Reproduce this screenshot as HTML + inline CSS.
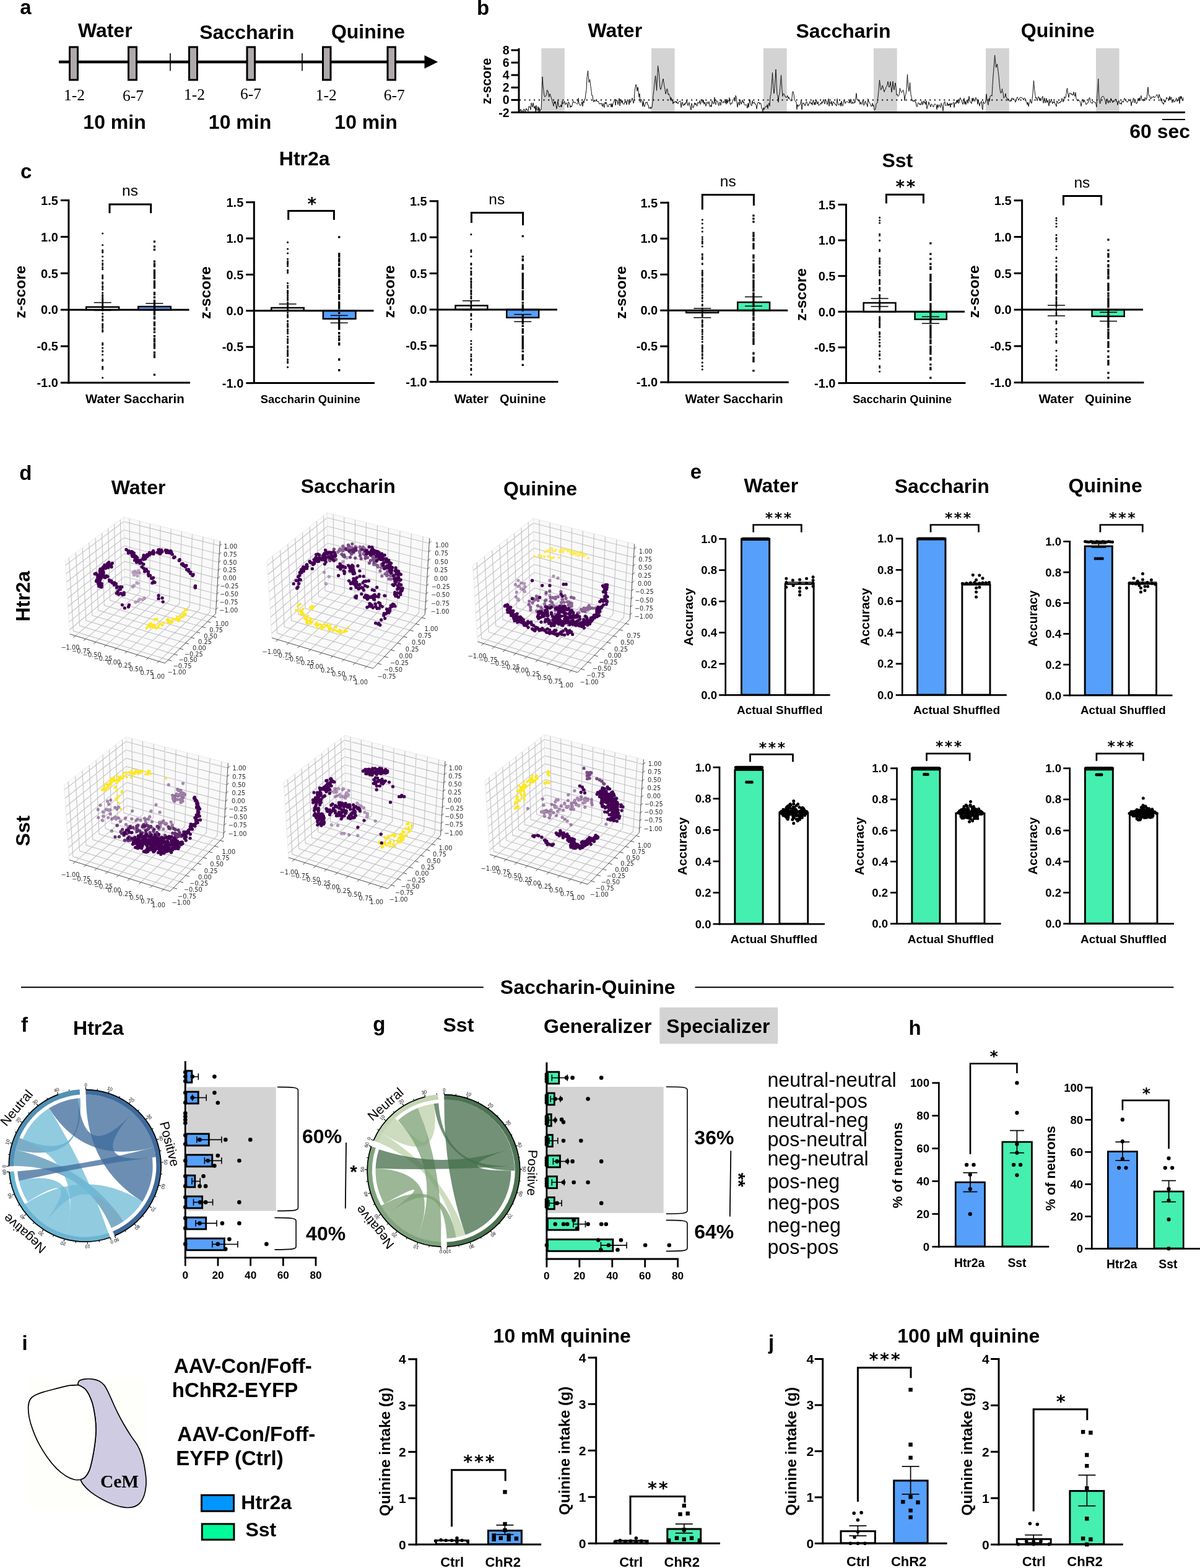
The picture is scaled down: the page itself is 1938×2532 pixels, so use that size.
<!DOCTYPE html>
<html lang="en"><head><meta charset="utf-8"><title>Figure</title>
<style>html,body{margin:0;padding:0;background:#fff}svg{display:block}</style></head>
<body>
<svg width="1938" height="2532" viewBox="0 0 1938 2532" font-family='"Liberation Sans", sans-serif' fill="#000">
<rect width="1938" height="2532" fill="#fff"/>
<text x="32.18" y="22.6" font-size="33" font-weight="bold">a</text>
<line x1="95" y1="100" x2="690" y2="100" stroke="#000" stroke-width="4.5"/>
<path d="M685.5 89.3 L707.2 100 L685.5 110.7 Z" fill="#000"/>
<rect x="112.5" y="76" width="13" height="53" fill="#aeaaaa" stroke="#000" stroke-width="3"/>
<rect x="207.5" y="76" width="13" height="53" fill="#aeaaaa" stroke="#000" stroke-width="3"/>
<rect x="305.5" y="76" width="13" height="53" fill="#aeaaaa" stroke="#000" stroke-width="3"/>
<rect x="399" y="76" width="12.5" height="53" fill="#aeaaaa" stroke="#000" stroke-width="3"/>
<rect x="521.5" y="76" width="12.5" height="53" fill="#aeaaaa" stroke="#000" stroke-width="3"/>
<rect x="626" y="76" width="12.5" height="53" fill="#aeaaaa" stroke="#000" stroke-width="3"/>
<line x1="275" y1="86" x2="275" y2="114.5" stroke="#000" stroke-width="1.6"/>
<line x1="488" y1="86" x2="488" y2="114.5" stroke="#000" stroke-width="1.6"/>
<text x="125.9" y="60" font-size="32" font-weight="bold">Water</text>
<text x="322.25" y="62.5" font-size="32" font-weight="bold">Saccharin</text>
<text x="534.9" y="61.5" font-size="32" font-weight="bold">Quinine</text>
<text x="103.1" y="162" font-size="25.5" font-family='"Liberation Serif", serif'>1-2</text>
<text x="198.1" y="163" font-size="25.5" font-family='"Liberation Serif", serif'>6-7</text>
<text x="297.1" y="161" font-size="25.5" font-family='"Liberation Serif", serif'>1-2</text>
<text x="388.1" y="160" font-size="25.5" font-family='"Liberation Serif", serif'>6-7</text>
<text x="509.85" y="162" font-size="25.5" font-family='"Liberation Serif", serif'>1-2</text>
<text x="619.85" y="162" font-size="25.5" font-family='"Liberation Serif", serif'>6-7</text>
<text x="134.36" y="207.5" font-size="32" font-weight="bold">10 min</text>
<text x="336.86" y="207.5" font-size="32" font-weight="bold">10 min</text>
<text x="540.36" y="207.5" font-size="32" font-weight="bold">10 min</text>
<text x="769.97" y="23.9" font-size="33" font-weight="bold">b</text>
<text x="949.4" y="59.5" font-size="32" font-weight="bold">Water</text>
<text x="1285.5" y="60.5" font-size="32" font-weight="bold">Saccharin</text>
<text x="1648.75" y="59.6" font-size="32" font-weight="bold">Quinine</text>
<rect x="874.3" y="78" width="37.5" height="103" fill="#d3d3d3"/>
<rect x="1052" y="78" width="37.6" height="103" fill="#d3d3d3"/>
<rect x="1233" y="78" width="37.7" height="103" fill="#d3d3d3"/>
<rect x="1411" y="78" width="37.7" height="103" fill="#d3d3d3"/>
<rect x="1592" y="78" width="37.8" height="103" fill="#d3d3d3"/>
<rect x="1770" y="78" width="37.6" height="103" fill="#d3d3d3"/>
<line x1="839" y1="161.4" x2="1912" y2="161.4" stroke="#000" stroke-width="2" stroke-dasharray="2 5.7"/>
<polyline points="838,171.92 839,178.74 840,179.21 841,176.41 842,179.99 843,178.61 844,178.62 845,179.99 846,175.82 847,176.83 848,179.99 849,177.64 850,174.97 851,178.15 852,177.29 853,179.47 854,171.79 855,173.05 856,172.07 857,177.24 858,166.12 859,169.96 860,172.95 861,165.99 862,171.54 863,175.17 864,171.18 865,179.99 866,170.39 867,178.53 868,178.21 869,172.16 870,179.99 871,174.05 872,179.99 873,176.89 874,177.33 875,153.23 876,123.97 877,137.66 878,147.15 879,154.48 880,156.44 881,155.65 882,153.95 883,149.72 883.5,145.32 884,145.77 885,146.89 886,154.88 887,156.72 888,151.3 889,154.38 890,156.76 891,159.95 892,164.06 893,167.54 894,171.39 895,163.65 896,167.32 897,163.85 898,170.92 899,175.84 900,169.54 901,162.82 902,170.6 903,172.61 904,172.32 905,172.25 906,169.05 907,173.15 908,163.11 909,168.15 910,166.91 911,163.82 912,163.79 913,169.09 914,167.04 915,165.85 916,168.98 917,173.74 918,164.48 919,165.95 920,168.4 921,173.47 922,170.8 923,172.81 924,170.14 925,164.2 926,163.18 927,166.13 928,165.79 929,164.82 930,166.45 931,167.29 932,168.31 933,167.71 934,158.59 935,166.04 936,169.61 937,170.36 938,169.91 939,166.9 940,164.32 941,171.68 942,163.02 943,166.21 944,160.02 945,160.31 946,151.19 947,145.29 948,125.57 949,117.3 949.5,114.16 950,119.27 951,132.92 952,131.25 952.5,128.24 953,132.19 954,139.77 954.5,143.31 955,147.36 956,154.85 957,154.29 958,162.45 959,164.58 960,161.21 961,163.76 962,163.34 963,161.11 964,163.64 965,164.29 966,163.22 967,165.32 968,168.1 969,167.34 970,167.96 971,166.36 972,170.14 973,171.8 974,166.77 975,171.68 976,173.58 977,164.88 978,167.66 979,165.03 980,168.41 981,171.87 982,172.83 983,169.93 984,168.15 985,168.9 986,167.65 987,173.02 988,167.27 989,173.09 990,167.36 991,164.33 992,162.39 993,159.97 994,170 995,163.46 996,161.24 997,162.85 998,169.03 999,163.02 1000,158.62 1001,171.03 1002,163.24 1003,160.63 1004,165.91 1005,162.31 1006,167.83 1007,167.68 1008,168.6 1009,163.82 1010,165.48 1011,162.73 1012,169.2 1013,164.62 1014,160.65 1015,162.81 1016,169.15 1017,162.4 1018,165.45 1019,163.68 1020,161.92 1021,158.33 1022,161.58 1023,166.74 1024,163.12 1025,147.81 1026,141.02 1027,136.41 1027.5,137.28 1028,139.77 1029,147.23 1030,140.71 1030.5,141.3 1031,146.4 1032,156.62 1033,151.26 1034,165.52 1035,160.55 1036,160.84 1037,165.56 1038,171.91 1039,163.33 1040,170.69 1041,172.29 1042,168.37 1043,165.07 1044,166.25 1045,164.55 1046,169.53 1047,169.37 1048,175.31 1049,174.46 1050,172.65 1051,176.03 1052,172.9 1053,173.76 1054,164.39 1055,153.6 1056,145.43 1056.5,139.29 1057,134.6 1058,126.45 1058.5,122.21 1059,125.94 1060,139.72 1060.5,146.33 1061,136.36 1062,117.46 1062.5,106.12 1063,109.63 1064,116.74 1064.5,121.2 1065,129.08 1066,141.6 1067,144.64 1068,141.52 1069,137.23 1070,130.75 1071,127.18 1072,133.54 1073,139.55 1074,144.53 1075,151.8 1076,148.76 1077,143.72 1077.5,143.31 1078,145.14 1079,152.63 1080,151.13 1081,154.43 1082,155.58 1083,162.14 1084,157.5 1085,163.15 1086,161.33 1087,167.7 1088,164.05 1089,166.12 1090,164.38 1091,163.19 1092,166.22 1093,163.86 1094,167.12 1095,167.82 1096,164.35 1097,164.17 1098,163.06 1099,163.48 1100,173.53 1101,167.21 1102,164.73 1103,170.16 1104,170.41 1105,167.2 1106,169.62 1107,165.7 1108,167.23 1109,161.85 1110,165.61 1111,170.51 1112,167.59 1113,165.46 1114,171.11 1115,172.19 1116,177.81 1117,166.83 1118,170.31 1119,174.07 1120,173.71 1121,169.26 1122,165.94 1123,169.32 1124,166.84 1125,170.78 1126,171.1 1127,165.14 1128,166.76 1129,166.21 1130,162.57 1131,168.66 1132,166.29 1133,162.09 1134,160.45 1135,165.85 1136,161.19 1137,168.35 1138,164.95 1139,167.09 1140,171.52 1141,165.58 1142,164.31 1143,167.4 1144,167.31 1145,163.87 1146,171.81 1147,172.17 1148,169.46 1149,172.61 1150,162.68 1151,164.88 1152,167.89 1153,166.87 1154,157.06 1155,167.85 1156,169.1 1157,163.19 1158,162.99 1159,163.8 1160,169.21 1161,170.81 1162,165.08 1163,165.89 1164,170.23 1165,160.87 1166,163.96 1167,165.6 1168,166.49 1169,163.01 1170,164.36 1171,166.35 1172,160.7 1173,168.32 1174,160.07 1175,166.56 1176,161.89 1177,163.52 1178,157.62 1179,168.03 1180,169.09 1181,166.31 1182,167.37 1183,164.19 1184,160.78 1185,159.74 1186,157.41 1187,163.63 1188,154.3 1189,155.84 1190,165.56 1191,173.18 1192,165.52 1193,165.25 1194,170.03 1195,160.89 1196,164.72 1197,168.3 1198,164.11 1199,161.39 1200,165.77 1201,163.87 1202,168.69 1203,169.96 1204,169.56 1205,168.7 1206,170.72 1207,174.66 1208,166.73 1209,173.16 1210,165.76 1211,160.56 1212,166.88 1213,170.17 1214,170.8 1215,162.61 1216,167.23 1217,165.91 1218,164.52 1219,168.18 1220,167.58 1221,169.4 1222,176.02 1223,170.03 1224,165.24 1225,165.76 1226,165.15 1227,168.39 1228,166.25 1229,167.32 1230,175.21 1231,175.69 1232,179.99 1233,173.61 1234,177.08 1235,174.97 1236,172.2 1237,171.77 1238,173.07 1239,169.28 1240,175.47 1241,167.77 1242,166.33 1243,171.39 1244,155.66 1245,152.46 1245.5,146.33 1246,138.43 1247,125.6 1247.5,117.18 1248,125.47 1249,142.89 1250,151.15 1251,143.59 1252,127.49 1253,112.12 1254,132.55 1255,152.82 1256,153.73 1257,165.21 1258,154.63 1259,151.58 1259.5,146.33 1260,139.5 1261,128 1261.5,121.2 1262,129.85 1263,145.85 1264,155.67 1265,151.14 1266,151.3 1267,153.28 1268,156.14 1269,155.63 1270,157.91 1271,156.25 1272,154.3 1273,159.44 1274,156.75 1275,159.57 1276,160.86 1277,162.48 1278,163.22 1279,157.91 1280,147.93 1281,148.02 1282,152.34 1283,161.61 1284,162.66 1285,164.25 1286,164.49 1287,176.62 1288,168.75 1289,172.07 1290,169.82 1291,169.91 1292,169.52 1293,165.74 1294,162.46 1295,177 1296,168.7 1297,165.75 1298,168.08 1299,167.59 1300,171.06 1301,169 1302,164.43 1303,164.4 1304,167.6 1305,171 1306,167.72 1307,167.6 1308,163.81 1309,165.13 1310,168.18 1311,165.94 1312,169.59 1313,162.1 1314,161.59 1315,169.44 1316,165.07 1317,169.22 1318,161.57 1319,165.12 1320,167.82 1321,163.98 1322,170.34 1323,169.71 1324,168.92 1325,166.72 1326,168.39 1327,164.22 1328,166.79 1329,162.85 1330,160.57 1331,165.32 1332,168.06 1333,160.66 1334,162.12 1335,164.66 1336,169.08 1337,164.04 1338,159.37 1339,171.45 1340,163.7 1341,165.7 1342,167.84 1343,163.27 1344,170.92 1345,166.72 1346,164.07 1347,166.7 1348,166.12 1349,169.62 1350,168.85 1351,171.15 1352,159.44 1353,165.2 1354,169.44 1355,169.35 1356,168.99 1357,166.1 1358,171.5 1359,163.21 1360,169.8 1361,171.26 1362,166.55 1363,162.05 1364,162.04 1365,167.34 1366,164.64 1367,164.56 1368,163.83 1369,164.66 1370,165.6 1371,166.28 1372,161.9 1373,166.62 1374,159.72 1375,163.93 1376,167.75 1377,164.58 1378,166.31 1379,167.26 1380,163.54 1381,165.58 1382,157.24 1383,150.59 1384,161.35 1385,161.02 1386,161.46 1387,163.79 1388,161.65 1389,168.64 1390,164.74 1391,167.39 1392,168.65 1393,162.86 1394,161.37 1395,170.25 1396,168.63 1397,163.66 1398,163.34 1399,168.21 1400,167.71 1401,172.5 1402,159.64 1403,164.58 1404,164.5 1405,167.17 1406,169.02 1407,171.92 1408,171.47 1409,166.52 1410,171.54 1411,169.47 1412,177.72 1413,177.5 1414,175.68 1415,167.5 1416,166.73 1417,166 1418,155.87 1419,147.43 1420,133.46 1420.5,129.24 1421,133.57 1422,141.02 1422.5,145.32 1423,144.53 1424,143.02 1425,137.98 1426,139.84 1427,145.02 1428,148.54 1429,145.18 1430,144.58 1431,140.65 1432,139.58 1433,136.56 1434,131.52 1435,137.68 1436,140.99 1437,138.22 1438,131.72 1439,140.62 1440,148.99 1441,141.05 1442,131.37 1443,140.9 1444,145.12 1445,137.97 1446,133.64 1447,141.64 1448,153.38 1449,151.96 1450,155.6 1451,154.66 1452,153.73 1453,144.42 1453.5,142.31 1454,144.53 1455,147.83 1456,149.36 1457,148.46 1458,145.86 1458.5,145.32 1459,145.72 1460,151.77 1461,162.67 1462,154.92 1463,151.45 1464,145.35 1465,127.64 1465.5,120.2 1466,128.59 1467,140.85 1468,147.36 1469,138.26 1469.5,133.26 1470,138.57 1471,152.5 1472,156.79 1473,162.73 1474,161.14 1475,164.34 1476,163.04 1477,161.26 1478,165.18 1479,164.45 1480,171.33 1481,172.5 1482,168.14 1483,165.76 1484,167.06 1485,169 1486,167.03 1487,169.43 1488,167.98 1489,163.47 1490,169.28 1491,167.44 1492,162.8 1493,166.4 1494,164.78 1495,168.93 1496,162.91 1497,175.55 1498,171.6 1499,170.11 1500,164.57 1501,168.12 1502,169.89 1503,172.84 1504,168.02 1505,168.37 1506,170.18 1507,172.86 1508,172.02 1509,168.02 1510,168.05 1511,168.57 1512,169.85 1513,176.66 1514,168.7 1515,173.69 1516,169.71 1517,169.11 1518,172.33 1519,173.77 1520,166.61 1521,168.97 1522,172.78 1523,179.27 1524,168 1525,165.52 1526,163.95 1527,170.85 1528,170.58 1529,169.3 1530,165.79 1531,171.18 1532,167.9 1533,170.23 1534,167 1535,173.27 1536,166.65 1537,169 1538,167.84 1539,166.53 1540,165.03 1541,173.54 1542,166.11 1543,165.52 1544,167.46 1545,161.62 1546,165.9 1547,161.03 1548,167.15 1549,165.87 1550,159 1551,157.71 1552,161.64 1553,161.27 1554,165.91 1555,168.5 1556,164.69 1557,158.52 1558,168.34 1559,163.5 1560,168.82 1561,163.39 1562,161.1 1563,166.84 1564,162.86 1565,155.42 1566,161.63 1567,164.97 1568,165.21 1569,167.42 1570,158.42 1571,163.47 1572,158.28 1573,159.51 1574,163.93 1575,162.64 1576,157.34 1577,160.74 1578,161.9 1579,168.45 1580,161.16 1581,165.76 1582,171.32 1583,165.97 1584,166.32 1585,163.32 1586,173.16 1587,177.03 1588,163.84 1589,166.77 1590,167.22 1591,166.56 1592,161.72 1593,151.77 1594,160.91 1595,166.72 1596,169.51 1597,158.94 1598,163.65 1599,155.35 1600,154.95 1601,153.79 1602,155.19 1603,137.6 1604,122.04 1604.5,116.18 1605,109.94 1606,97.38 1606.6,89.04 1607,94.04 1608,103.52 1608.5,109.14 1609,107.73 1610,104.48 1610.5,103.11 1611,107.15 1612,115.56 1612.5,119.19 1613,123.44 1614,135.24 1614.5,141.3 1615,144.29 1616,150.09 1617,150.04 1618,146.89 1618.5,143.31 1619,148.32 1620,149.86 1621,158.35 1622,157.09 1623,156.34 1624,150.95 1625,157.17 1626,159.01 1627,158.74 1628,162.32 1629,159.64 1630,162.72 1631,164.02 1632,162.26 1633,163.63 1634,157.99 1635,158.77 1636,161.11 1637,158.9 1638,161.54 1639,163.09 1640,165.19 1641,160.49 1642,158.18 1643,156.75 1644,159.31 1645,162.07 1646,159.99 1647,157.91 1648,157.47 1649,156.97 1650,158.05 1651,158.52 1652,158.87 1653,161.71 1654,158.4 1655,158.76 1656,159.39 1657,163.6 1658,165.74 1659,168.99 1660,164.88 1661,171.99 1662,166.97 1663,165.78 1664,162.29 1665,164.12 1666,167.05 1667,159.85 1668,151.16 1669,136.43 1669.4,130.25 1670,136.96 1671,147.57 1672,154.43 1673,158.93 1674,157.36 1675,162.73 1676,160.26 1677,156.01 1678,157.08 1679,161.1 1680,158.27 1681,162.78 1682,161.12 1683,157.19 1684,155.46 1685,166.52 1686,162.28 1687,158.12 1688,166.26 1689,164.05 1690,158.61 1691,165.81 1692,162.03 1693,164.57 1694,171.13 1695,163.18 1696,165.91 1697,162.56 1698,159.93 1699,165.1 1700,167.44 1701,163.93 1702,165.75 1703,163.82 1704,168.59 1705,168.55 1706,172.15 1707,162.78 1708,165.41 1709,167.4 1710,166.42 1711,164.9 1712,166.45 1713,163.25 1714,164.33 1715,158.68 1716,161.44 1717,164.67 1718,162.51 1719,156.17 1720,158.45 1721,157.84 1722,151.45 1723,144.41 1723.7,142.31 1724,146.78 1725,152.39 1726,157.43 1727,150.7 1728,150.76 1729,150.71 1730,152.61 1731,151.26 1732,153.79 1733,153.5 1734,148.38 1735,153.77 1736,155.56 1737,149.43 1738,159.24 1739,160.96 1740,162.64 1741,163.01 1742,161 1743,162.15 1744,163.55 1745,166.67 1746,171.58 1747,165.28 1748,160.49 1749,161.09 1750,165.37 1751,161.17 1752,164.23 1753,165.13 1754,169.09 1755,167.19 1756,166.21 1757,166.42 1758,163.15 1759,157.86 1760,157.9 1761,163.47 1762,165.67 1763,165.95 1764,167.24 1765,163.59 1766,163.83 1767,164.52 1768,165.37 1769,165.01 1770,168.47 1771,172.9 1772,152.34 1773,139.8 1773.7,127.23 1774,135.72 1775,159.8 1776,166.79 1777,167.1 1778,159.38 1779,157.12 1780,156.4 1781,155.01 1782,155.95 1783,157.44 1784,160.53 1785,162.53 1786,168.46 1787,164.2 1788,159.44 1789,164.71 1790,166.56 1791,162.05 1792,164.48 1793,165.67 1794,158.75 1795,161.73 1796,162.31 1797,165.72 1798,162.34 1799,164.39 1800,161.38 1801,160.67 1802,159.82 1803,164.55 1804,163.77 1805,169.68 1806,164.03 1807,162.31 1808,167.18 1809,167.67 1810,165.97 1811,168.61 1812,163.14 1813,163.68 1814,165.26 1815,162.54 1816,158.47 1817,160.27 1818,160.5 1819,164.06 1820,164.48 1821,165.22 1822,162.98 1823,160.22 1824,162.91 1825,162.48 1826,162.77 1827,170.95 1828,164.22 1829,165.11 1830,159.4 1831,158.21 1832,165.89 1833,163.91 1834,163.32 1835,167.55 1836,167.03 1837,164.85 1838,158.93 1839,163.03 1840,157.85 1841,160.45 1842,157.52 1843,154.32 1844,161.54 1845,162.43 1846,160.09 1847,163.29 1848,159.71 1849,157.82 1850,158.01 1851,161.04 1852,158.8 1853,148.86 1854,140.56 1855,153.98 1856,154.45 1857,154.79 1858,159.6 1859,159.89 1860,156.39 1861,157.9 1862,156.82 1863,155.12 1864,157.77 1865,157.06 1866,156.56 1867,155.4 1868,152.95 1869,153.05 1870,156.95 1871,158.9 1872,152.23 1873,155.87 1874,157.76 1875,163.28 1876,158.88 1877,166.48 1878,166.04 1879,168.54 1880,165.36 1881,162.18 1882,165.08 1883,161.16 1884,157.19 1885,159.65 1886,158.58 1887,158.54 1888,161.44 1889,155.45 1890,161.64 1891,157.24 1892,156.98 1893,165.74 1894,161.33 1895,163.67 1896,165.23 1897,162.8 1898,163.72 1899,159.9 1900,158.41 1901,163.88 1902,161.33 1903,160.16 1904,156.75 1905,167.24 1906,155.27 1907,159.63 1908,155.44 1909,160.96 1910,162.68 1911,157.39" fill="none" stroke="#111" stroke-width="1" stroke-linejoin="round"/>
<line x1="838" y1="78" x2="838" y2="183" stroke="#000" stroke-width="3"/>
<line x1="836.5" y1="181.5" x2="1914" y2="181.5" stroke="#000" stroke-width="3"/>
<line x1="825.5" y1="81" x2="838" y2="81" stroke="#000" stroke-width="3"/>
<text x="822.5" y="88" font-size="19.5" font-weight="bold" text-anchor="end">8</text>
<line x1="825.5" y1="101.1" x2="838" y2="101.1" stroke="#000" stroke-width="3"/>
<text x="822.5" y="108.1" font-size="19.5" font-weight="bold" text-anchor="end">6</text>
<line x1="825.5" y1="121.2" x2="838" y2="121.2" stroke="#000" stroke-width="3"/>
<text x="822.5" y="128.2" font-size="19.5" font-weight="bold" text-anchor="end">4</text>
<line x1="825.5" y1="141.3" x2="838" y2="141.3" stroke="#000" stroke-width="3"/>
<text x="822.5" y="148.3" font-size="19.5" font-weight="bold" text-anchor="end">2</text>
<line x1="825.5" y1="161.4" x2="838" y2="161.4" stroke="#000" stroke-width="3"/>
<text x="822.5" y="168.4" font-size="19.5" font-weight="bold" text-anchor="end">0</text>
<line x1="825.5" y1="181.5" x2="838" y2="181.5" stroke="#000" stroke-width="3"/>
<text x="822.5" y="188.5" font-size="19.5" font-weight="bold" text-anchor="end">-2</text>
<text transform="translate(792.64 168.33) rotate(-90)" font-size="21.3" font-weight="bold">z-score</text>
<line x1="1877" y1="193" x2="1914" y2="193" stroke="#000" stroke-width="2.2"/>
<text x="1824.26" y="223" font-size="32" font-weight="bold">60 sec</text>
<text x="33.03" y="288" font-size="33" font-weight="bold">c</text>
<text x="450.77" y="267" font-size="32" font-weight="bold">Htr2a</text>
<text x="1424.4" y="270" font-size="32" font-weight="bold">Sst</text>
<rect x="139.25" y="495.75" width="52.9" height="4.4" fill="#fff" stroke="#000" stroke-width="2.5"/>
<rect x="223.25" y="495.05" width="52.5" height="5.1" fill="#56a0fb" stroke="#000" stroke-width="2.5"/>
<line x1="110.9" y1="500.2" x2="305.5" y2="500.2" stroke="#000" stroke-width="3"/>
<path d="M165.7 377h0M165.7 610h0M165.7 395.7h0M165.7 404h0M165.7 592.2h0M165.7 478.2h0M165.7 467.1h0M165.7 493.7h0M165.7 476.3h0M165.7 464.1h0M165.7 511.9h0M165.7 517.8h0M165.7 434.5h0M165.7 444.6h0M165.7 467.6h0M165.7 532.8h0M165.7 525.6h0M165.7 421.1h0M165.7 431.5h0M165.7 535.5h0M165.7 582.4h0M165.7 492.5h0M165.7 455.9h0M165.7 555.6h0M165.7 476.9h0M165.7 534.8h0M165.7 580.9h0M165.7 529.5h0M165.7 498.3h0M165.7 535.2h0M165.7 458.2h0M165.7 484.2h0M165.7 462.1h0M165.7 482.8h0M165.7 467h0M165.7 483.8h0M165.7 472.9h0M165.7 499.2h0M165.7 497.8h0M165.7 510.8h0M165.7 572.8h0M165.7 407.6h0M165.7 566.8h0M165.7 480.9h0M165.7 425.2h0M165.7 484.5h0M165.7 499.3h0M165.7 554h0M165.7 434.7h0M165.7 506.4h0M165.7 500.8h0M165.7 427.8h0M165.7 527.8h0M165.7 533.2h0M165.7 555.1h0M165.7 524.1h0M165.7 516.3h0M165.7 501.1h0M165.7 561.9h0M165.7 447h0M165.7 486.3h0M165.7 515.8h0M165.7 405.9h0M165.7 567.6h0M165.7 449.8h0M165.7 490.2h0M165.7 447.8h0M165.7 498h0M165.7 414.2h0M165.7 486.7h0M165.7 486.8h0M165.7 493.3h0M165.7 406.9h0M165.7 457.9h0M165.7 595.9h0M165.7 582.1h0M165.7 593.9h0M165.7 556.8h0M165.7 490.5h0M165.7 593.3h0M165.7 463.3h0M165.7 523h0" fill="none" stroke="#000" stroke-width="3.1" stroke-linecap="round"/>
<path d="M247.8 388.4h3.3v3.3h-3.3zM247.8 603.4h3.3v3.3h-3.3zM247.8 396.4h3.3v3.3h-3.3zM247.8 401.4h3.3v3.3h-3.3zM247.8 519h3.3v3.3h-3.3zM247.8 454.4h3.3v3.3h-3.3zM247.8 506.1h3.3v3.3h-3.3zM247.8 534.7h3.3v3.3h-3.3zM247.8 492.8h3.3v3.3h-3.3zM247.8 485.8h3.3v3.3h-3.3zM247.8 447.4h3.3v3.3h-3.3zM247.8 459.1h3.3v3.3h-3.3zM247.8 519h3.3v3.3h-3.3zM247.8 553.9h3.3v3.3h-3.3zM247.8 424.5h3.3v3.3h-3.3zM247.8 567.7h3.3v3.3h-3.3zM247.8 485.7h3.3v3.3h-3.3zM247.8 549.3h3.3v3.3h-3.3zM247.8 441.4h3.3v3.3h-3.3zM247.8 434.9h3.3v3.3h-3.3zM247.8 560.3h3.3v3.3h-3.3zM247.8 520.7h3.3v3.3h-3.3zM247.8 500.3h3.3v3.3h-3.3zM247.8 528.4h3.3v3.3h-3.3zM247.8 522.1h3.3v3.3h-3.3zM247.8 427.9h3.3v3.3h-3.3zM247.8 456.3h3.3v3.3h-3.3zM247.8 463h3.3v3.3h-3.3zM247.8 490.4h3.3v3.3h-3.3zM247.8 504.6h3.3v3.3h-3.3zM247.8 471h3.3v3.3h-3.3zM247.8 478.3h3.3v3.3h-3.3zM247.8 496.7h3.3v3.3h-3.3zM247.8 436.7h3.3v3.3h-3.3zM247.8 452.6h3.3v3.3h-3.3zM247.8 494.5h3.3v3.3h-3.3zM247.8 454.6h3.3v3.3h-3.3zM247.8 460.5h3.3v3.3h-3.3zM247.8 486.6h3.3v3.3h-3.3zM247.8 567.4h3.3v3.3h-3.3zM247.8 510.4h3.3v3.3h-3.3zM247.8 473.6h3.3v3.3h-3.3zM247.8 459.8h3.3v3.3h-3.3zM247.8 486.1h3.3v3.3h-3.3zM247.8 522.5h3.3v3.3h-3.3zM247.8 505.6h3.3v3.3h-3.3zM247.8 541.1h3.3v3.3h-3.3zM247.8 428.3h3.3v3.3h-3.3zM247.8 548.6h3.3v3.3h-3.3zM247.8 489.7h3.3v3.3h-3.3zM247.8 501.5h3.3v3.3h-3.3zM247.8 452.4h3.3v3.3h-3.3zM247.8 495.4h3.3v3.3h-3.3zM247.8 484.5h3.3v3.3h-3.3zM247.8 545.4h3.3v3.3h-3.3zM247.8 512.6h3.3v3.3h-3.3zM247.8 487.9h3.3v3.3h-3.3zM247.8 530.5h3.3v3.3h-3.3zM247.8 523.7h3.3v3.3h-3.3zM247.8 505h3.3v3.3h-3.3zM247.8 550.2h3.3v3.3h-3.3zM247.8 427.2h3.3v3.3h-3.3zM247.8 436h3.3v3.3h-3.3zM247.8 486.7h3.3v3.3h-3.3zM247.8 521.2h3.3v3.3h-3.3zM247.8 571.4h3.3v3.3h-3.3zM247.8 574.9h3.3v3.3h-3.3zM247.8 478.7h3.3v3.3h-3.3zM247.8 501.3h3.3v3.3h-3.3zM247.8 483.7h3.3v3.3h-3.3zM247.8 454.6h3.3v3.3h-3.3zM247.8 455.5h3.3v3.3h-3.3zM247.8 439.9h3.3v3.3h-3.3zM247.8 549h3.3v3.3h-3.3zM247.8 436.2h3.3v3.3h-3.3zM247.8 472.8h3.3v3.3h-3.3zM247.8 486.2h3.3v3.3h-3.3zM247.8 420.4h3.3v3.3h-3.3zM247.8 442.2h3.3v3.3h-3.3zM247.8 445.1h3.3v3.3h-3.3zM247.8 556.6h3.3v3.3h-3.3zM247.8 457.8h3.3v3.3h-3.3z" fill="#000"/>
<line x1="165.7" y1="488.6" x2="165.7" y2="501.4" stroke="#000" stroke-width="1.5"/>
<line x1="151.7" y1="488.6" x2="179.7" y2="488.6" stroke="#000" stroke-width="1.5"/>
<line x1="151.7" y1="501.4" x2="179.7" y2="501.4" stroke="#000" stroke-width="1.5"/>
<line x1="249.4" y1="490" x2="249.4" y2="500.5" stroke="#000" stroke-width="1.5"/>
<line x1="235.4" y1="490" x2="263.4" y2="490" stroke="#000" stroke-width="1.5"/>
<line x1="235.4" y1="500.5" x2="263.4" y2="500.5" stroke="#000" stroke-width="1.5"/>
<line x1="110.9" y1="322" x2="110.9" y2="619.5" stroke="#000" stroke-width="3"/>
<line x1="109.4" y1="618" x2="307" y2="618" stroke="#000" stroke-width="3"/>
<line x1="97.9" y1="323.5" x2="110.9" y2="323.5" stroke="#000" stroke-width="3"/>
<text x="93.9" y="330.7" font-size="20" font-weight="bold" text-anchor="end">1.5</text>
<line x1="97.9" y1="382.4" x2="110.9" y2="382.4" stroke="#000" stroke-width="3"/>
<text x="93.9" y="389.6" font-size="20" font-weight="bold" text-anchor="end">1.0</text>
<line x1="97.9" y1="441.3" x2="110.9" y2="441.3" stroke="#000" stroke-width="3"/>
<text x="93.9" y="448.5" font-size="20" font-weight="bold" text-anchor="end">0.5</text>
<line x1="97.9" y1="500.2" x2="110.9" y2="500.2" stroke="#000" stroke-width="3"/>
<text x="93.9" y="507.4" font-size="20" font-weight="bold" text-anchor="end">0.0</text>
<line x1="97.9" y1="559.1" x2="110.9" y2="559.1" stroke="#000" stroke-width="3"/>
<text x="93.9" y="566.3" font-size="20" font-weight="bold" text-anchor="end">-0.5</text>
<line x1="97.9" y1="618" x2="110.9" y2="618" stroke="#000" stroke-width="3"/>
<text x="93.9" y="625.2" font-size="20" font-weight="bold" text-anchor="end">-1.0</text>
<polyline points="177,344.3 177,330 243.7,330 243.7,344.3" fill="none" stroke="#000" stroke-width="3" stroke-linejoin="miter"/>
<text x="210" y="315.7" font-size="24.5" text-anchor="middle">ns</text>
<text transform="translate(41.34 513.94) rotate(-90)" font-size="24.3" font-weight="bold">z-score</text>
<text x="138" y="651.4" font-size="20.49" font-weight="bold">Water Saccharin</text>
<rect x="438.25" y="497.05" width="52.5" height="4.7" fill="#fff" stroke="#000" stroke-width="2.5"/>
<rect x="521.85" y="501.85" width="52.6" height="13" fill="#56a0fb" stroke="#000" stroke-width="2.5"/>
<line x1="410.3" y1="501.8" x2="603.5" y2="501.8" stroke="#000" stroke-width="3"/>
<path d="M464.6 391.4h0M464.6 592.9h0M464.6 402h0M464.6 409h0M464.6 492.9h0M464.6 489.6h0M464.6 554.1h0M464.6 425.4h0M464.6 537.5h0M464.6 484.3h0M464.6 482.7h0M464.6 559h0M464.6 495.1h0M464.6 461.5h0M464.6 572.7h0M464.6 586h0M464.6 457.2h0M464.6 534.5h0M464.6 470.7h0M464.6 504.9h0M464.6 510.2h0M464.6 424.4h0M464.6 499.4h0M464.6 436.3h0M464.6 440.4h0M464.6 470.2h0M464.6 508.8h0M464.6 531.9h0M464.6 543.5h0M464.6 469.8h0M464.6 534.8h0M464.6 583.6h0M464.6 561.8h0M464.6 418.3h0M464.6 518.4h0M464.6 565.5h0M464.6 494.5h0M464.6 549.1h0M464.6 509.5h0M464.6 508.3h0M464.6 512.4h0M464.6 508.2h0M464.6 472.1h0M464.6 547.3h0M464.6 464.6h0M464.6 479.8h0M464.6 437.5h0M464.6 522.7h0M464.6 477.1h0M464.6 537.6h0M464.6 527.2h0M464.6 527.9h0M464.6 429.7h0M464.6 538.6h0M464.6 488.3h0M464.6 570h0M464.6 480.3h0M464.6 519h0M464.6 537.7h0M464.6 473.8h0M464.6 473h0M464.6 474.2h0M464.6 551.9h0M464.6 470.7h0M464.6 489.3h0M464.6 561.3h0M464.6 524.7h0M464.6 561.9h0M464.6 526.5h0M464.6 484.7h0M464.6 469.3h0M464.6 427h0M464.6 571.1h0M464.6 573.5h0M464.6 580.4h0M464.6 575h0M464.6 421.9h0M464.6 567.5h0M464.6 423.7h0M464.6 585.6h0M464.6 547.3h0M464.6 570.7h0" fill="none" stroke="#000" stroke-width="3.1" stroke-linecap="round"/>
<path d="M546.1 381.2h3.3v3.3h-3.3zM546.1 596.1h3.3v3.3h-3.3zM546.1 412.4h3.3v3.3h-3.3zM546.1 416.4h3.3v3.3h-3.3zM546.1 489h3.3v3.3h-3.3zM546.1 412.2h3.3v3.3h-3.3zM546.1 554.7h3.3v3.3h-3.3zM546.1 480.7h3.3v3.3h-3.3zM546.1 466.6h3.3v3.3h-3.3zM546.1 438h3.3v3.3h-3.3zM546.1 545.6h3.3v3.3h-3.3zM546.1 432.3h3.3v3.3h-3.3zM546.1 529.2h3.3v3.3h-3.3zM546.1 462.7h3.3v3.3h-3.3zM546.1 495.8h3.3v3.3h-3.3zM546.1 481.2h3.3v3.3h-3.3zM546.1 527.1h3.3v3.3h-3.3zM546.1 536.3h3.3v3.3h-3.3zM546.1 434.9h3.3v3.3h-3.3zM546.1 553.3h3.3v3.3h-3.3zM546.1 536h3.3v3.3h-3.3zM546.1 553.8h3.3v3.3h-3.3zM546.1 579.3h3.3v3.3h-3.3zM546.1 410.8h3.3v3.3h-3.3zM546.1 458h3.3v3.3h-3.3zM546.1 513h3.3v3.3h-3.3zM546.1 552.8h3.3v3.3h-3.3zM546.1 529.4h3.3v3.3h-3.3zM546.1 514.5h3.3v3.3h-3.3zM546.1 525.3h3.3v3.3h-3.3zM546.1 433.2h3.3v3.3h-3.3zM546.1 495.5h3.3v3.3h-3.3zM546.1 481h3.3v3.3h-3.3zM546.1 488.7h3.3v3.3h-3.3zM546.1 444.5h3.3v3.3h-3.3zM546.1 486.5h3.3v3.3h-3.3zM546.1 499.9h3.3v3.3h-3.3zM546.1 480.1h3.3v3.3h-3.3zM546.1 489.7h3.3v3.3h-3.3zM546.1 433.4h3.3v3.3h-3.3zM546.1 527.5h3.3v3.3h-3.3zM546.1 458.4h3.3v3.3h-3.3zM546.1 432.1h3.3v3.3h-3.3zM546.1 462.4h3.3v3.3h-3.3zM546.1 467.3h3.3v3.3h-3.3zM546.1 516.5h3.3v3.3h-3.3zM546.1 435.5h3.3v3.3h-3.3zM546.1 455.3h3.3v3.3h-3.3zM546.1 535.9h3.3v3.3h-3.3zM546.1 524.2h3.3v3.3h-3.3zM546.1 453.1h3.3v3.3h-3.3zM546.1 525.3h3.3v3.3h-3.3zM546.1 518.4h3.3v3.3h-3.3zM546.1 486.5h3.3v3.3h-3.3zM546.1 441.4h3.3v3.3h-3.3zM546.1 521.3h3.3v3.3h-3.3zM546.1 408.3h3.3v3.3h-3.3zM546.1 516.8h3.3v3.3h-3.3zM546.1 494.9h3.3v3.3h-3.3zM546.1 425.2h3.3v3.3h-3.3zM546.1 435.2h3.3v3.3h-3.3zM546.1 499.4h3.3v3.3h-3.3zM546.1 476.5h3.3v3.3h-3.3zM546.1 521.6h3.3v3.3h-3.3zM546.1 514h3.3v3.3h-3.3zM546.1 547.4h3.3v3.3h-3.3zM546.1 536.7h3.3v3.3h-3.3zM546.1 494.8h3.3v3.3h-3.3zM546.1 417.1h3.3v3.3h-3.3zM546.1 478.9h3.3v3.3h-3.3zM546.1 524.5h3.3v3.3h-3.3zM546.1 503.9h3.3v3.3h-3.3zM546.1 470h3.3v3.3h-3.3zM546.1 512.7h3.3v3.3h-3.3zM546.1 492.1h3.3v3.3h-3.3zM546.1 488.2h3.3v3.3h-3.3zM546.1 492h3.3v3.3h-3.3zM546.1 541.6h3.3v3.3h-3.3zM546.1 545.4h3.3v3.3h-3.3zM546.1 474.9h3.3v3.3h-3.3zM546.1 426.4h3.3v3.3h-3.3zM546.1 488.2h3.3v3.3h-3.3zM546.1 449.6h3.3v3.3h-3.3zM546.1 516.6h3.3v3.3h-3.3zM546.1 578.6h3.3v3.3h-3.3zM546.1 424.6h3.3v3.3h-3.3zM546.1 420.4h3.3v3.3h-3.3z" fill="#000"/>
<line x1="464.6" y1="490.9" x2="464.6" y2="501.5" stroke="#000" stroke-width="1.5"/>
<line x1="450.6" y1="490.9" x2="478.6" y2="490.9" stroke="#000" stroke-width="1.5"/>
<line x1="450.6" y1="501.5" x2="478.6" y2="501.5" stroke="#000" stroke-width="1.5"/>
<line x1="547.7" y1="509.4" x2="547.7" y2="521.4" stroke="#000" stroke-width="1.5"/>
<line x1="533.7" y1="509.4" x2="561.7" y2="509.4" stroke="#000" stroke-width="1.5"/>
<line x1="533.7" y1="521.4" x2="561.7" y2="521.4" stroke="#000" stroke-width="1.5"/>
<line x1="410.3" y1="325.1" x2="410.3" y2="620.1" stroke="#000" stroke-width="3"/>
<line x1="408.8" y1="618.6" x2="605" y2="618.6" stroke="#000" stroke-width="3"/>
<line x1="397.3" y1="326.6" x2="410.3" y2="326.6" stroke="#000" stroke-width="3"/>
<text x="393.3" y="333.8" font-size="20" font-weight="bold" text-anchor="end">1.5</text>
<line x1="397.3" y1="385" x2="410.3" y2="385" stroke="#000" stroke-width="3"/>
<text x="393.3" y="392.2" font-size="20" font-weight="bold" text-anchor="end">1.0</text>
<line x1="397.3" y1="443.4" x2="410.3" y2="443.4" stroke="#000" stroke-width="3"/>
<text x="393.3" y="450.6" font-size="20" font-weight="bold" text-anchor="end">0.5</text>
<line x1="397.3" y1="501.8" x2="410.3" y2="501.8" stroke="#000" stroke-width="3"/>
<text x="393.3" y="509" font-size="20" font-weight="bold" text-anchor="end">0.0</text>
<line x1="397.3" y1="560.2" x2="410.3" y2="560.2" stroke="#000" stroke-width="3"/>
<text x="393.3" y="567.4" font-size="20" font-weight="bold" text-anchor="end">-0.5</text>
<line x1="397.3" y1="618.6" x2="410.3" y2="618.6" stroke="#000" stroke-width="3"/>
<text x="393.3" y="625.8" font-size="20" font-weight="bold" text-anchor="end">-1.0</text>
<polyline points="465.7,355 465.7,340.6 539.4,340.6 539.4,355" fill="none" stroke="#000" stroke-width="3" stroke-linejoin="miter"/>
<text x="496.5" y="338.76" font-size="27.71" font-weight="bold" font-family='"DejaVu Sans", sans-serif'>*</text>
<text transform="translate(340.14 515.19) rotate(-90)" font-size="24.3" font-weight="bold">z-score</text>
<text x="420.85" y="651.4" font-size="18.36" font-weight="bold">Saccharin Quinine</text>
<rect x="735.55" y="493.45" width="51.8" height="6.38" fill="#fff" stroke="#000" stroke-width="2.5"/>
<rect x="818.25" y="499.93" width="51.9" height="12.92" fill="#56a0fb" stroke="#000" stroke-width="2.5"/>
<line x1="706.7" y1="499.88" x2="899.9" y2="499.88" stroke="#000" stroke-width="3"/>
<path d="M760.9 378.6h0M760.9 604.9h0M760.9 404h0M760.9 414h0M760.9 470.7h0M760.9 475.2h0M760.9 498.4h0M760.9 449.6h0M760.9 481.6h0M760.9 451.1h0M760.9 450.4h0M760.9 597.4h0M760.9 454.4h0M760.9 489.1h0M760.9 510h0M760.9 486.5h0M760.9 438.8h0M760.9 442.4h0M760.9 561h0M760.9 474.8h0M760.9 496.7h0M760.9 461.9h0M760.9 454.6h0M760.9 441.5h0M760.9 579.8h0M760.9 469.5h0M760.9 486.3h0M760.9 482.1h0M760.9 450.9h0M760.9 496.1h0M760.9 528.1h0M760.9 479.1h0M760.9 522.8h0M760.9 532.3h0M760.9 555.5h0M760.9 488.7h0M760.9 470.5h0M760.9 481.6h0M760.9 492.9h0M760.9 427.2h0M760.9 433.1h0M760.9 433.7h0M760.9 494.7h0M760.9 488.9h0M760.9 456.1h0M760.9 582.9h0M760.9 468.8h0M760.9 464.7h0M760.9 455h0M760.9 564.9h0M760.9 572.3h0M760.9 459h0M760.9 515.5h0M760.9 525.7h0M760.9 414h0M760.9 406.8h0M760.9 506.8h0M760.9 508.3h0M760.9 481.7h0M760.9 464.9h0M760.9 595.4h0M760.9 443.8h0M760.9 589.2h0M760.9 473.5h0M760.9 438.2h0M760.9 525.6h0M760.9 426.2h0M760.9 528.1h0M760.9 425.5h0M760.9 575.4h0M760.9 525.2h0M760.9 496.9h0M760.9 550.5h0M760.9 478.9h0M760.9 580.5h0M760.9 441.1h0" fill="none" stroke="#000" stroke-width="3.1" stroke-linecap="round"/>
<path d="M842.6 379.8h3.3v3.3h-3.3zM842.6 587.8h3.3v3.3h-3.3zM842.6 412.7h3.3v3.3h-3.3zM842.6 426.4h3.3v3.3h-3.3zM842.6 472.7h3.3v3.3h-3.3zM842.6 547.3h3.3v3.3h-3.3zM842.6 524.8h3.3v3.3h-3.3zM842.6 496.2h3.3v3.3h-3.3zM842.6 535.8h3.3v3.3h-3.3zM842.6 524.8h3.3v3.3h-3.3zM842.6 574.7h3.3v3.3h-3.3zM842.6 477.6h3.3v3.3h-3.3zM842.6 453.7h3.3v3.3h-3.3zM842.6 453.3h3.3v3.3h-3.3zM842.6 517.8h3.3v3.3h-3.3zM842.6 460h3.3v3.3h-3.3zM842.6 498.6h3.3v3.3h-3.3zM842.6 577h3.3v3.3h-3.3zM842.6 511.9h3.3v3.3h-3.3zM842.6 487.2h3.3v3.3h-3.3zM842.6 543.6h3.3v3.3h-3.3zM842.6 520.5h3.3v3.3h-3.3zM842.6 446.6h3.3v3.3h-3.3zM842.6 514h3.3v3.3h-3.3zM842.6 468.4h3.3v3.3h-3.3zM842.6 494.4h3.3v3.3h-3.3zM842.6 462.7h3.3v3.3h-3.3zM842.6 463.7h3.3v3.3h-3.3zM842.6 442.5h3.3v3.3h-3.3zM842.6 553.1h3.3v3.3h-3.3zM842.6 529.9h3.3v3.3h-3.3zM842.6 432.5h3.3v3.3h-3.3zM842.6 560.4h3.3v3.3h-3.3zM842.6 445.6h3.3v3.3h-3.3zM842.6 473.2h3.3v3.3h-3.3zM842.6 492.3h3.3v3.3h-3.3zM842.6 511.9h3.3v3.3h-3.3zM842.6 577.4h3.3v3.3h-3.3zM842.6 454.1h3.3v3.3h-3.3zM842.6 544.8h3.3v3.3h-3.3zM842.6 454.1h3.3v3.3h-3.3zM842.6 481h3.3v3.3h-3.3zM842.6 491.3h3.3v3.3h-3.3zM842.6 444.5h3.3v3.3h-3.3zM842.6 546.4h3.3v3.3h-3.3zM842.6 495.2h3.3v3.3h-3.3zM842.6 508.5h3.3v3.3h-3.3zM842.6 495.7h3.3v3.3h-3.3zM842.6 430.7h3.3v3.3h-3.3zM842.6 499.5h3.3v3.3h-3.3zM842.6 481.9h3.3v3.3h-3.3zM842.6 417.1h3.3v3.3h-3.3zM842.6 474.1h3.3v3.3h-3.3zM842.6 575.4h3.3v3.3h-3.3zM842.6 565.8h3.3v3.3h-3.3zM842.6 456.8h3.3v3.3h-3.3zM842.6 470.3h3.3v3.3h-3.3zM842.6 459.2h3.3v3.3h-3.3zM842.6 418.7h3.3v3.3h-3.3zM842.6 517.6h3.3v3.3h-3.3zM842.6 572.1h3.3v3.3h-3.3zM842.6 472.9h3.3v3.3h-3.3zM842.6 548.2h3.3v3.3h-3.3zM842.6 532.9h3.3v3.3h-3.3zM842.6 440.2h3.3v3.3h-3.3zM842.6 454.2h3.3v3.3h-3.3zM842.6 429.9h3.3v3.3h-3.3zM842.6 556h3.3v3.3h-3.3zM842.6 507.4h3.3v3.3h-3.3zM842.6 551.7h3.3v3.3h-3.3zM842.6 557.6h3.3v3.3h-3.3zM842.6 447.9h3.3v3.3h-3.3zM842.6 447.5h3.3v3.3h-3.3zM842.6 561.3h3.3v3.3h-3.3zM842.6 548.2h3.3v3.3h-3.3zM842.6 462.8h3.3v3.3h-3.3zM842.6 518.9h3.3v3.3h-3.3zM842.6 545h3.3v3.3h-3.3zM842.6 541.6h3.3v3.3h-3.3zM842.6 578.5h3.3v3.3h-3.3zM842.6 549.2h3.3v3.3h-3.3zM842.6 451h3.3v3.3h-3.3z" fill="#000"/>
<line x1="760.9" y1="485.7" x2="760.9" y2="500.5" stroke="#000" stroke-width="1.5"/>
<line x1="746.9" y1="485.7" x2="774.9" y2="485.7" stroke="#000" stroke-width="1.5"/>
<line x1="746.9" y1="500.5" x2="774.9" y2="500.5" stroke="#000" stroke-width="1.5"/>
<line x1="844.3" y1="507.7" x2="844.3" y2="519.4" stroke="#000" stroke-width="1.5"/>
<line x1="830.3" y1="507.7" x2="858.3" y2="507.7" stroke="#000" stroke-width="1.5"/>
<line x1="830.3" y1="519.4" x2="858.3" y2="519.4" stroke="#000" stroke-width="1.5"/>
<line x1="706.7" y1="323.3" x2="706.7" y2="618.1" stroke="#000" stroke-width="3"/>
<line x1="705.2" y1="616.6" x2="901.4" y2="616.6" stroke="#000" stroke-width="3"/>
<line x1="693.7" y1="324.8" x2="706.7" y2="324.8" stroke="#000" stroke-width="3"/>
<text x="689.7" y="332" font-size="20" font-weight="bold" text-anchor="end">1.5</text>
<line x1="693.7" y1="383.16" x2="706.7" y2="383.16" stroke="#000" stroke-width="3"/>
<text x="689.7" y="390.36" font-size="20" font-weight="bold" text-anchor="end">1.0</text>
<line x1="693.7" y1="441.52" x2="706.7" y2="441.52" stroke="#000" stroke-width="3"/>
<text x="689.7" y="448.72" font-size="20" font-weight="bold" text-anchor="end">0.5</text>
<line x1="693.7" y1="499.88" x2="706.7" y2="499.88" stroke="#000" stroke-width="3"/>
<text x="689.7" y="507.08" font-size="20" font-weight="bold" text-anchor="end">0.0</text>
<line x1="693.7" y1="558.24" x2="706.7" y2="558.24" stroke="#000" stroke-width="3"/>
<text x="689.7" y="565.44" font-size="20" font-weight="bold" text-anchor="end">-0.5</text>
<line x1="693.7" y1="616.6" x2="706.7" y2="616.6" stroke="#000" stroke-width="3"/>
<text x="689.7" y="623.8" font-size="20" font-weight="bold" text-anchor="end">-1.0</text>
<polyline points="761.4,360 761.4,343.4 844.6,343.4 844.6,363.7" fill="none" stroke="#000" stroke-width="3" stroke-linejoin="miter"/>
<text x="802.3" y="330" font-size="24.5" text-anchor="middle">ns</text>
<text transform="translate(637.04 513.54) rotate(-90)" font-size="24.3" font-weight="bold">z-score</text>
<text x="733.7" y="651.4" font-size="20.15" font-weight="bold">Water</text>
<text x="806.9" y="651.4" font-size="20.08" font-weight="bold">Quinine</text>
<rect x="1108.25" y="501.29" width="51.9" height="3.56" fill="#fff" stroke="#000" stroke-width="2.5"/>
<rect x="1191.25" y="488.05" width="51.8" height="13.14" fill="#45efb0" stroke="#000" stroke-width="2.5"/>
<line x1="1079.2" y1="501.24" x2="1272.2" y2="501.24" stroke="#000" stroke-width="3"/>
<path d="M1134.3 355h0M1134.3 596.6h0M1134.3 361h0M1134.3 368h0M1134.3 374h0M1134.3 480.1h0M1134.3 501.1h0M1134.3 509.3h0M1134.3 443.4h0M1134.3 527h0M1134.3 437h0M1134.3 486.6h0M1134.3 539.5h0M1134.3 426.6h0M1134.3 442.2h0M1134.3 463.3h0M1134.3 440.5h0M1134.3 452.1h0M1134.3 493.4h0M1134.3 437.4h0M1134.3 559.2h0M1134.3 461.1h0M1134.3 577.5h0M1134.3 578.8h0M1134.3 534.8h0M1134.3 391.2h0M1134.3 418.5h0M1134.3 476.8h0M1134.3 410.4h0M1134.3 562.4h0M1134.3 393.2h0M1134.3 510.3h0M1134.3 470.2h0M1134.3 557.6h0M1134.3 417.9h0M1134.3 552.1h0M1134.3 507.8h0M1134.3 459.1h0M1134.3 532.3h0M1134.3 567.6h0M1134.3 445.1h0M1134.3 463.4h0M1134.3 449.4h0M1134.3 441.3h0M1134.3 502.2h0M1134.3 501.3h0M1134.3 470.6h0M1134.3 455.3h0M1134.3 547.6h0M1134.3 498.5h0M1134.3 585.4h0M1134.3 543.4h0M1134.3 440.1h0M1134.3 441.6h0M1134.3 520.4h0M1134.3 442.5h0M1134.3 504.1h0M1134.3 517h0M1134.3 519.7h0M1134.3 518.7h0M1134.3 454.2h0M1134.3 415.3h0M1134.3 382.7h0M1134.3 482.2h0M1134.3 386.1h0M1134.3 571.8h0M1134.3 391.2h0M1134.3 426.1h0M1134.3 466.8h0M1134.3 574h0M1134.3 442.5h0M1134.3 544.2h0M1134.3 558.8h0M1134.3 560.5h0M1134.3 498h0M1134.3 523.9h0M1134.3 411.7h0M1134.3 472.8h0M1134.3 491.7h0M1134.3 461.7h0M1134.3 462h0M1134.3 389.5h0M1134.3 398h0M1134.3 568.1h0M1134.3 591.4h0M1134.3 566h0M1134.3 579h0M1134.3 563.3h0M1134.3 425.5h0M1134.3 486.4h0M1134.3 536.3h0M1134.3 527.7h0M1134.3 525.4h0" fill="none" stroke="#000" stroke-width="3.1" stroke-linecap="round"/>
<path d="M1215.3 346.4h3.3v3.3h-3.3zM1215.3 597h3.3v3.3h-3.3zM1215.3 351.4h3.3v3.3h-3.3zM1215.3 356.4h3.3v3.3h-3.3zM1215.3 374.4h3.3v3.3h-3.3zM1215.3 521.4h3.3v3.3h-3.3zM1215.3 485.8h3.3v3.3h-3.3zM1215.3 529.9h3.3v3.3h-3.3zM1215.3 578.9h3.3v3.3h-3.3zM1215.3 480.5h3.3v3.3h-3.3zM1215.3 480.5h3.3v3.3h-3.3zM1215.3 582h3.3v3.3h-3.3zM1215.3 536.6h3.3v3.3h-3.3zM1215.3 467.3h3.3v3.3h-3.3zM1215.3 524h3.3v3.3h-3.3zM1215.3 467.6h3.3v3.3h-3.3zM1215.3 467.5h3.3v3.3h-3.3zM1215.3 507.1h3.3v3.3h-3.3zM1215.3 386.4h3.3v3.3h-3.3zM1215.3 397h3.3v3.3h-3.3zM1215.3 462.1h3.3v3.3h-3.3zM1215.3 436.9h3.3v3.3h-3.3zM1215.3 511.2h3.3v3.3h-3.3zM1215.3 442.7h3.3v3.3h-3.3zM1215.3 414.5h3.3v3.3h-3.3zM1215.3 575.7h3.3v3.3h-3.3zM1215.3 480.9h3.3v3.3h-3.3zM1215.3 497.4h3.3v3.3h-3.3zM1215.3 413.8h3.3v3.3h-3.3zM1215.3 463.1h3.3v3.3h-3.3zM1215.3 499.8h3.3v3.3h-3.3zM1215.3 429.1h3.3v3.3h-3.3zM1215.3 514.6h3.3v3.3h-3.3zM1215.3 460h3.3v3.3h-3.3zM1215.3 477.3h3.3v3.3h-3.3zM1215.3 459.9h3.3v3.3h-3.3zM1215.3 492.8h3.3v3.3h-3.3zM1215.3 434.4h3.3v3.3h-3.3zM1215.3 539.7h3.3v3.3h-3.3zM1215.3 425.2h3.3v3.3h-3.3zM1215.3 505.3h3.3v3.3h-3.3zM1215.3 383.8h3.3v3.3h-3.3zM1215.3 419.2h3.3v3.3h-3.3zM1215.3 504.6h3.3v3.3h-3.3zM1215.3 534.9h3.3v3.3h-3.3zM1215.3 503.2h3.3v3.3h-3.3zM1215.3 487.1h3.3v3.3h-3.3zM1215.3 476.7h3.3v3.3h-3.3zM1215.3 410.8h3.3v3.3h-3.3zM1215.3 453.3h3.3v3.3h-3.3zM1215.3 467.8h3.3v3.3h-3.3zM1215.3 552.8h3.3v3.3h-3.3zM1215.3 512.8h3.3v3.3h-3.3zM1215.3 394.9h3.3v3.3h-3.3zM1215.3 511.7h3.3v3.3h-3.3zM1215.3 472h3.3v3.3h-3.3zM1215.3 455.7h3.3v3.3h-3.3zM1215.3 527.8h3.3v3.3h-3.3zM1215.3 551.3h3.3v3.3h-3.3zM1215.3 545.7h3.3v3.3h-3.3zM1215.3 446.6h3.3v3.3h-3.3zM1215.3 476.3h3.3v3.3h-3.3zM1215.3 512.1h3.3v3.3h-3.3zM1215.3 548.2h3.3v3.3h-3.3zM1215.3 466.8h3.3v3.3h-3.3zM1215.3 483.2h3.3v3.3h-3.3zM1215.3 431.6h3.3v3.3h-3.3zM1215.3 426.6h3.3v3.3h-3.3zM1215.3 539.1h3.3v3.3h-3.3zM1215.3 569.5h3.3v3.3h-3.3zM1215.3 489.6h3.3v3.3h-3.3zM1215.3 549.8h3.3v3.3h-3.3zM1215.3 513.8h3.3v3.3h-3.3zM1215.3 457.5h3.3v3.3h-3.3zM1215.3 513.8h3.3v3.3h-3.3zM1215.3 579.7h3.3v3.3h-3.3zM1215.3 568.6h3.3v3.3h-3.3zM1215.3 446.2h3.3v3.3h-3.3zM1215.3 454.6h3.3v3.3h-3.3zM1215.3 392.2h3.3v3.3h-3.3zM1215.3 499.5h3.3v3.3h-3.3zM1215.3 379.3h3.3v3.3h-3.3zM1215.3 474.5h3.3v3.3h-3.3zM1215.3 491.6h3.3v3.3h-3.3zM1215.3 434.8h3.3v3.3h-3.3zM1215.3 502.3h3.3v3.3h-3.3zM1215.3 378.1h3.3v3.3h-3.3zM1215.3 379.6h3.3v3.3h-3.3zM1215.3 553.6h3.3v3.3h-3.3zM1215.3 451.2h3.3v3.3h-3.3zM1215.3 399.5h3.3v3.3h-3.3zM1215.3 487.1h3.3v3.3h-3.3zM1215.3 542h3.3v3.3h-3.3z" fill="#000"/>
<line x1="1134.3" y1="498" x2="1134.3" y2="512.9" stroke="#000" stroke-width="1.5"/>
<line x1="1120.3" y1="498" x2="1148.3" y2="498" stroke="#000" stroke-width="1.5"/>
<line x1="1120.3" y1="512.9" x2="1148.3" y2="512.9" stroke="#000" stroke-width="1.5"/>
<line x1="1217" y1="479.4" x2="1217" y2="494.3" stroke="#000" stroke-width="1.5"/>
<line x1="1203" y1="479.4" x2="1231" y2="479.4" stroke="#000" stroke-width="1.5"/>
<line x1="1203" y1="494.3" x2="1231" y2="494.3" stroke="#000" stroke-width="1.5"/>
<line x1="1079.2" y1="325.8" x2="1079.2" y2="618.7" stroke="#000" stroke-width="3"/>
<line x1="1077.7" y1="617.2" x2="1273.7" y2="617.2" stroke="#000" stroke-width="3"/>
<line x1="1066.2" y1="327.3" x2="1079.2" y2="327.3" stroke="#000" stroke-width="3"/>
<text x="1062.2" y="334.5" font-size="20" font-weight="bold" text-anchor="end">1.5</text>
<line x1="1066.2" y1="385.28" x2="1079.2" y2="385.28" stroke="#000" stroke-width="3"/>
<text x="1062.2" y="392.48" font-size="20" font-weight="bold" text-anchor="end">1.0</text>
<line x1="1066.2" y1="443.26" x2="1079.2" y2="443.26" stroke="#000" stroke-width="3"/>
<text x="1062.2" y="450.46" font-size="20" font-weight="bold" text-anchor="end">0.5</text>
<line x1="1066.2" y1="501.24" x2="1079.2" y2="501.24" stroke="#000" stroke-width="3"/>
<text x="1062.2" y="508.44" font-size="20" font-weight="bold" text-anchor="end">0.0</text>
<line x1="1066.2" y1="559.22" x2="1079.2" y2="559.22" stroke="#000" stroke-width="3"/>
<text x="1062.2" y="566.42" font-size="20" font-weight="bold" text-anchor="end">-0.5</text>
<line x1="1066.2" y1="617.2" x2="1079.2" y2="617.2" stroke="#000" stroke-width="3"/>
<text x="1062.2" y="624.4" font-size="20" font-weight="bold" text-anchor="end">-1.0</text>
<polyline points="1134.3,338.6 1134.3,314.6 1217.4,314.6 1217.4,332" fill="none" stroke="#000" stroke-width="3" stroke-linejoin="miter"/>
<text x="1175.7" y="300.6" font-size="24.5" text-anchor="middle">ns</text>
<text transform="translate(1011.34 514.89) rotate(-90)" font-size="24.3" font-weight="bold">z-score</text>
<text x="1106.6" y="651.4" font-size="20.26" font-weight="bold">Water Saccharin</text>
<rect x="1394.65" y="489.05" width="51.8" height="14.22" fill="#fff" stroke="#000" stroke-width="2.5"/>
<rect x="1477.55" y="503.37" width="51.2" height="12.28" fill="#45efb0" stroke="#000" stroke-width="2.5"/>
<line x1="1366.5" y1="503.32" x2="1557.9" y2="503.32" stroke="#000" stroke-width="3"/>
<path d="M1420.6 351.4h0M1420.6 600h0M1420.6 356h0M1420.6 360h0M1420.6 378h0M1420.6 481.1h0M1420.6 503.6h0M1420.6 567.4h0M1420.6 421.1h0M1420.6 502.9h0M1420.6 494.6h0M1420.6 477.4h0M1420.6 436.4h0M1420.6 477.7h0M1420.6 469h0M1420.6 464.6h0M1420.6 426h0M1420.6 539.1h0M1420.6 466.1h0M1420.6 491.1h0M1420.6 430.8h0M1420.6 440.9h0M1420.6 458.7h0M1420.6 492.5h0M1420.6 543.4h0M1420.6 548.6h0M1420.6 593.5h0M1420.6 526.4h0M1420.6 557.9h0M1420.6 518h0M1420.6 513.8h0M1420.6 422.5h0M1420.6 438.9h0M1420.6 405.6h0M1420.6 571.7h0M1420.6 520.7h0M1420.6 537.5h0M1420.6 553.4h0M1420.6 485.9h0M1420.6 495.5h0M1420.6 476.4h0M1420.6 515h0M1420.6 480.3h0M1420.6 517.6h0M1420.6 465.9h0M1420.6 480.4h0M1420.6 515.3h0M1420.6 517.5h0M1420.6 486.4h0M1420.6 422.2h0M1420.6 558.6h0M1420.6 431.5h0M1420.6 480.7h0M1420.6 466.3h0M1420.6 466.2h0M1420.6 522.3h0M1420.6 543.9h0M1420.6 480.5h0M1420.6 458.7h0M1420.6 485.9h0M1420.6 499.2h0M1420.6 536.6h0M1420.6 441.5h0M1420.6 453.5h0M1420.6 417.1h0M1420.6 489.2h0M1420.6 424.9h0M1420.6 528.4h0M1420.6 559.5h0M1420.6 511.7h0M1420.6 539.6h0M1420.6 388.5h0M1420.6 518.1h0M1420.6 515.8h0M1420.6 456.2h0M1420.6 502.2h0M1420.6 503.5h0M1420.6 444.6h0M1420.6 491.2h0M1420.6 453.6h0M1420.6 497.5h0M1420.6 388.2h0M1420.6 451.9h0M1420.6 403.2h0M1420.6 524.4h0M1420.6 418.1h0M1420.6 380.2h0M1420.6 591.2h0M1420.6 543.7h0M1420.6 439.3h0M1420.6 574.1h0M1420.6 579.3h0M1420.6 517h0" fill="none" stroke="#000" stroke-width="3.1" stroke-linecap="round"/>
<path d="M1501.2 391.2h3.3v3.3h-3.3zM1501.2 608.4h3.3v3.3h-3.3zM1501.2 408.4h3.3v3.3h-3.3zM1501.2 416.4h3.3v3.3h-3.3zM1501.2 524.8h3.3v3.3h-3.3zM1501.2 424.6h3.3v3.3h-3.3zM1501.2 509.1h3.3v3.3h-3.3zM1501.2 450.6h3.3v3.3h-3.3zM1501.2 496.6h3.3v3.3h-3.3zM1501.2 517.8h3.3v3.3h-3.3zM1501.2 567.3h3.3v3.3h-3.3zM1501.2 532.6h3.3v3.3h-3.3zM1501.2 470.2h3.3v3.3h-3.3zM1501.2 577.8h3.3v3.3h-3.3zM1501.2 472.2h3.3v3.3h-3.3zM1501.2 577.8h3.3v3.3h-3.3zM1501.2 507.8h3.3v3.3h-3.3zM1501.2 524.1h3.3v3.3h-3.3zM1501.2 550.2h3.3v3.3h-3.3zM1501.2 475.7h3.3v3.3h-3.3zM1501.2 451.5h3.3v3.3h-3.3zM1501.2 482.6h3.3v3.3h-3.3zM1501.2 448.2h3.3v3.3h-3.3zM1501.2 540.9h3.3v3.3h-3.3zM1501.2 565.1h3.3v3.3h-3.3zM1501.2 527.1h3.3v3.3h-3.3zM1501.2 465.3h3.3v3.3h-3.3zM1501.2 468.6h3.3v3.3h-3.3zM1501.2 569.6h3.3v3.3h-3.3zM1501.2 576.6h3.3v3.3h-3.3zM1501.2 498.6h3.3v3.3h-3.3zM1501.2 586.9h3.3v3.3h-3.3zM1501.2 475.2h3.3v3.3h-3.3zM1501.2 494.3h3.3v3.3h-3.3zM1501.2 449.4h3.3v3.3h-3.3zM1501.2 473.2h3.3v3.3h-3.3zM1501.2 461.6h3.3v3.3h-3.3zM1501.2 492h3.3v3.3h-3.3zM1501.2 560.2h3.3v3.3h-3.3zM1501.2 495.3h3.3v3.3h-3.3zM1501.2 534.6h3.3v3.3h-3.3zM1501.2 479.7h3.3v3.3h-3.3zM1501.2 531.4h3.3v3.3h-3.3zM1501.2 558h3.3v3.3h-3.3zM1501.2 513.3h3.3v3.3h-3.3zM1501.2 594.6h3.3v3.3h-3.3zM1501.2 548h3.3v3.3h-3.3zM1501.2 492h3.3v3.3h-3.3zM1501.2 523.9h3.3v3.3h-3.3zM1501.2 458.2h3.3v3.3h-3.3zM1501.2 593.6h3.3v3.3h-3.3zM1501.2 561.6h3.3v3.3h-3.3zM1501.2 592.5h3.3v3.3h-3.3zM1501.2 542.7h3.3v3.3h-3.3zM1501.2 490.5h3.3v3.3h-3.3zM1501.2 506.4h3.3v3.3h-3.3zM1501.2 501.8h3.3v3.3h-3.3zM1501.2 477.6h3.3v3.3h-3.3zM1501.2 535.1h3.3v3.3h-3.3zM1501.2 475.1h3.3v3.3h-3.3zM1501.2 504.5h3.3v3.3h-3.3zM1501.2 532.1h3.3v3.3h-3.3zM1501.2 447h3.3v3.3h-3.3zM1501.2 449.3h3.3v3.3h-3.3zM1501.2 552.8h3.3v3.3h-3.3zM1501.2 432.8h3.3v3.3h-3.3zM1501.2 464.5h3.3v3.3h-3.3zM1501.2 537.3h3.3v3.3h-3.3zM1501.2 489.6h3.3v3.3h-3.3zM1501.2 465h3.3v3.3h-3.3zM1501.2 560.4h3.3v3.3h-3.3zM1501.2 489.3h3.3v3.3h-3.3zM1501.2 494.8h3.3v3.3h-3.3zM1501.2 515.3h3.3v3.3h-3.3zM1501.2 579h3.3v3.3h-3.3zM1501.2 506.5h3.3v3.3h-3.3zM1501.2 476.3h3.3v3.3h-3.3zM1501.2 512.9h3.3v3.3h-3.3zM1501.2 568.3h3.3v3.3h-3.3zM1501.2 472h3.3v3.3h-3.3zM1501.2 543.9h3.3v3.3h-3.3zM1501.2 465.3h3.3v3.3h-3.3zM1501.2 493.2h3.3v3.3h-3.3zM1501.2 456.8h3.3v3.3h-3.3zM1501.2 429.8h3.3v3.3h-3.3zM1501.2 529.6h3.3v3.3h-3.3zM1501.2 540.2h3.3v3.3h-3.3zM1501.2 538.5h3.3v3.3h-3.3zM1501.2 539.1h3.3v3.3h-3.3zM1501.2 444.8h3.3v3.3h-3.3zM1501.2 470.3h3.3v3.3h-3.3zM1501.2 478.3h3.3v3.3h-3.3zM1501.2 519h3.3v3.3h-3.3zM1501.2 578.4h3.3v3.3h-3.3zM1501.2 513.2h3.3v3.3h-3.3zM1501.2 442.1h3.3v3.3h-3.3zM1501.2 540.8h3.3v3.3h-3.3z" fill="#000"/>
<line x1="1420.6" y1="482" x2="1420.6" y2="494.9" stroke="#000" stroke-width="1.5"/>
<line x1="1406.6" y1="482" x2="1434.6" y2="482" stroke="#000" stroke-width="1.5"/>
<line x1="1406.6" y1="494.9" x2="1434.6" y2="494.9" stroke="#000" stroke-width="1.5"/>
<line x1="1502.9" y1="511.4" x2="1502.9" y2="522.3" stroke="#000" stroke-width="1.5"/>
<line x1="1488.9" y1="511.4" x2="1516.9" y2="511.4" stroke="#000" stroke-width="1.5"/>
<line x1="1488.9" y1="522.3" x2="1516.9" y2="522.3" stroke="#000" stroke-width="1.5"/>
<line x1="1366.5" y1="328.9" x2="1366.5" y2="620.1" stroke="#000" stroke-width="3"/>
<line x1="1365" y1="618.6" x2="1559.4" y2="618.6" stroke="#000" stroke-width="3"/>
<line x1="1353.5" y1="330.4" x2="1366.5" y2="330.4" stroke="#000" stroke-width="3"/>
<text x="1349.5" y="337.6" font-size="20" font-weight="bold" text-anchor="end">1.5</text>
<line x1="1353.5" y1="388.04" x2="1366.5" y2="388.04" stroke="#000" stroke-width="3"/>
<text x="1349.5" y="395.24" font-size="20" font-weight="bold" text-anchor="end">1.0</text>
<line x1="1353.5" y1="445.68" x2="1366.5" y2="445.68" stroke="#000" stroke-width="3"/>
<text x="1349.5" y="452.88" font-size="20" font-weight="bold" text-anchor="end">0.5</text>
<line x1="1353.5" y1="503.32" x2="1366.5" y2="503.32" stroke="#000" stroke-width="3"/>
<text x="1349.5" y="510.52" font-size="20" font-weight="bold" text-anchor="end">0.0</text>
<line x1="1353.5" y1="560.96" x2="1366.5" y2="560.96" stroke="#000" stroke-width="3"/>
<text x="1349.5" y="568.16" font-size="20" font-weight="bold" text-anchor="end">-0.5</text>
<line x1="1353.5" y1="618.6" x2="1366.5" y2="618.6" stroke="#000" stroke-width="3"/>
<text x="1349.5" y="625.8" font-size="20" font-weight="bold" text-anchor="end">-1.0</text>
<polyline points="1431.4,328.6 1431.4,314.3 1491.4,314.3 1491.4,328.6" fill="none" stroke="#000" stroke-width="3" stroke-linejoin="miter"/>
<text x="1446.52" y="310.96" font-size="27.71" font-weight="bold" font-family='"DejaVu Sans", sans-serif' letter-spacing="2.67">**</text>
<text transform="translate(1302.14 518.24) rotate(-90)" font-size="24.3" font-weight="bold">z-score</text>
<text x="1377.15" y="651.4" font-size="18.23" font-weight="bold">Saccharin Quinine</text>
<rect x="1763.55" y="500.15" width="52.2" height="10.7" fill="#45efb0" stroke="#000" stroke-width="2.5"/>
<line x1="1650.6" y1="500.1" x2="1845.9" y2="500.1" stroke="#000" stroke-width="3"/>
<path d="M1706 352.3h0M1706 597h0M1706 356h0M1706 361h0M1706 366h0M1706 386h0M1706 469.9h0M1706 518.7h0M1706 494h0M1706 553.5h0M1706 505.5h0M1706 531.4h0M1706 435.7h0M1706 422.2h0M1706 491.8h0M1706 429.8h0M1706 487.1h0M1706 551.2h0M1706 551.8h0M1706 490.3h0M1706 460.5h0M1706 507.6h0M1706 462.4h0M1706 580.5h0M1706 532.2h0M1706 501.2h0M1706 416.8h0M1706 452.7h0M1706 470.1h0M1706 500.6h0M1706 522.2h0M1706 489.1h0M1706 543h0M1706 459.5h0M1706 384.2h0M1706 575.3h0M1706 447.1h0M1706 550.7h0M1706 459.6h0M1706 449.9h0M1706 474.6h0M1706 590.7h0M1706 519.8h0M1706 434.8h0M1706 445.1h0M1706 442.9h0M1706 379.5h0M1706 484h0M1706 449.9h0M1706 480.1h0M1706 472.2h0M1706 444.4h0M1706 539h0M1706 471.2h0M1706 588.6h0M1706 402.7h0M1706 464.4h0M1706 453.3h0M1706 416h0M1706 422h0M1706 481.6h0M1706 460h0M1706 582.4h0M1706 452.5h0M1706 454.7h0M1706 397.6h0M1706 566.2h0M1706 389.7h0" fill="none" stroke="#000" stroke-width="3.1" stroke-linecap="round"/>
<path d="M1788.3 385.4h3.3v3.3h-3.3zM1788.3 608.4h3.3v3.3h-3.3zM1788.3 402.4h3.3v3.3h-3.3zM1788.3 408.4h3.3v3.3h-3.3zM1788.3 491.8h3.3v3.3h-3.3zM1788.3 462.9h3.3v3.3h-3.3zM1788.3 476.3h3.3v3.3h-3.3zM1788.3 555.4h3.3v3.3h-3.3zM1788.3 412.8h3.3v3.3h-3.3zM1788.3 542.5h3.3v3.3h-3.3zM1788.3 505.9h3.3v3.3h-3.3zM1788.3 456.5h3.3v3.3h-3.3zM1788.3 581.6h3.3v3.3h-3.3zM1788.3 498.3h3.3v3.3h-3.3zM1788.3 516.6h3.3v3.3h-3.3zM1788.3 490.3h3.3v3.3h-3.3zM1788.3 503h3.3v3.3h-3.3zM1788.3 508.7h3.3v3.3h-3.3zM1788.3 428.7h3.3v3.3h-3.3zM1788.3 445h3.3v3.3h-3.3zM1788.3 491h3.3v3.3h-3.3zM1788.3 472h3.3v3.3h-3.3zM1788.3 433.7h3.3v3.3h-3.3zM1788.3 481.1h3.3v3.3h-3.3zM1788.3 411.7h3.3v3.3h-3.3zM1788.3 534.5h3.3v3.3h-3.3zM1788.3 447.8h3.3v3.3h-3.3zM1788.3 526.1h3.3v3.3h-3.3zM1788.3 437.3h3.3v3.3h-3.3zM1788.3 434.9h3.3v3.3h-3.3zM1788.3 513.1h3.3v3.3h-3.3zM1788.3 530.7h3.3v3.3h-3.3zM1788.3 459h3.3v3.3h-3.3zM1788.3 536.2h3.3v3.3h-3.3zM1788.3 518.4h3.3v3.3h-3.3zM1788.3 412.9h3.3v3.3h-3.3zM1788.3 426.5h3.3v3.3h-3.3zM1788.3 544.5h3.3v3.3h-3.3zM1788.3 504.6h3.3v3.3h-3.3zM1788.3 525.6h3.3v3.3h-3.3zM1788.3 553h3.3v3.3h-3.3zM1788.3 506.7h3.3v3.3h-3.3zM1788.3 462.8h3.3v3.3h-3.3zM1788.3 463.5h3.3v3.3h-3.3zM1788.3 506.7h3.3v3.3h-3.3zM1788.3 580.9h3.3v3.3h-3.3zM1788.3 484.8h3.3v3.3h-3.3zM1788.3 501h3.3v3.3h-3.3zM1788.3 498.7h3.3v3.3h-3.3zM1788.3 460.6h3.3v3.3h-3.3zM1788.3 493.8h3.3v3.3h-3.3zM1788.3 441.1h3.3v3.3h-3.3zM1788.3 544.1h3.3v3.3h-3.3zM1788.3 420h3.3v3.3h-3.3zM1788.3 419.9h3.3v3.3h-3.3zM1788.3 555.5h3.3v3.3h-3.3zM1788.3 526.5h3.3v3.3h-3.3zM1788.3 512.7h3.3v3.3h-3.3zM1788.3 487.8h3.3v3.3h-3.3zM1788.3 535.4h3.3v3.3h-3.3zM1788.3 517.5h3.3v3.3h-3.3zM1788.3 493.5h3.3v3.3h-3.3zM1788.3 538.7h3.3v3.3h-3.3zM1788.3 459.7h3.3v3.3h-3.3zM1788.3 514.4h3.3v3.3h-3.3zM1788.3 521.8h3.3v3.3h-3.3zM1788.3 480.3h3.3v3.3h-3.3zM1788.3 488h3.3v3.3h-3.3zM1788.3 565.4h3.3v3.3h-3.3zM1788.3 523h3.3v3.3h-3.3zM1788.3 436.2h3.3v3.3h-3.3zM1788.3 544.1h3.3v3.3h-3.3zM1788.3 558.8h3.3v3.3h-3.3zM1788.3 505.8h3.3v3.3h-3.3zM1788.3 437.8h3.3v3.3h-3.3zM1788.3 486.9h3.3v3.3h-3.3zM1788.3 510.2h3.3v3.3h-3.3zM1788.3 472.4h3.3v3.3h-3.3zM1788.3 515.2h3.3v3.3h-3.3zM1788.3 573.9h3.3v3.3h-3.3zM1788.3 540h3.3v3.3h-3.3zM1788.3 482.7h3.3v3.3h-3.3zM1788.3 583.3h3.3v3.3h-3.3zM1788.3 490.4h3.3v3.3h-3.3zM1788.3 600.4h3.3v3.3h-3.3zM1788.3 434.8h3.3v3.3h-3.3zM1788.3 524.7h3.3v3.3h-3.3zM1788.3 459.2h3.3v3.3h-3.3zM1788.3 574.6h3.3v3.3h-3.3zM1788.3 535.2h3.3v3.3h-3.3zM1788.3 586.5h3.3v3.3h-3.3zM1788.3 550.7h3.3v3.3h-3.3zM1788.3 466.9h3.3v3.3h-3.3zM1788.3 446.8h3.3v3.3h-3.3zM1788.3 524.1h3.3v3.3h-3.3zM1788.3 465.6h3.3v3.3h-3.3zM1788.3 586.9h3.3v3.3h-3.3z" fill="#000"/>
<line x1="1706" y1="493" x2="1706" y2="510" stroke="#000" stroke-width="1.5"/>
<line x1="1692" y1="493" x2="1720" y2="493" stroke="#000" stroke-width="1.5"/>
<line x1="1692" y1="510" x2="1720" y2="510" stroke="#000" stroke-width="1.5"/>
<line x1="1790" y1="504.3" x2="1790" y2="518.6" stroke="#000" stroke-width="1.5"/>
<line x1="1776" y1="504.3" x2="1804" y2="504.3" stroke="#000" stroke-width="1.5"/>
<line x1="1776" y1="518.6" x2="1804" y2="518.6" stroke="#000" stroke-width="1.5"/>
<line x1="1650.6" y1="322.2" x2="1650.6" y2="619.2" stroke="#000" stroke-width="3"/>
<line x1="1649.1" y1="617.7" x2="1847.4" y2="617.7" stroke="#000" stroke-width="3"/>
<line x1="1637.6" y1="323.7" x2="1650.6" y2="323.7" stroke="#000" stroke-width="3"/>
<text x="1633.6" y="330.9" font-size="20" font-weight="bold" text-anchor="end">1.5</text>
<line x1="1637.6" y1="382.5" x2="1650.6" y2="382.5" stroke="#000" stroke-width="3"/>
<text x="1633.6" y="389.7" font-size="20" font-weight="bold" text-anchor="end">1.0</text>
<line x1="1637.6" y1="441.3" x2="1650.6" y2="441.3" stroke="#000" stroke-width="3"/>
<text x="1633.6" y="448.5" font-size="20" font-weight="bold" text-anchor="end">0.5</text>
<line x1="1637.6" y1="500.1" x2="1650.6" y2="500.1" stroke="#000" stroke-width="3"/>
<text x="1633.6" y="507.3" font-size="20" font-weight="bold" text-anchor="end">0.0</text>
<line x1="1637.6" y1="558.9" x2="1650.6" y2="558.9" stroke="#000" stroke-width="3"/>
<text x="1633.6" y="566.1" font-size="20" font-weight="bold" text-anchor="end">-0.5</text>
<line x1="1637.6" y1="617.7" x2="1650.6" y2="617.7" stroke="#000" stroke-width="3"/>
<text x="1633.6" y="624.9" font-size="20" font-weight="bold" text-anchor="end">-1.0</text>
<polyline points="1717.4,331.4 1717.4,316.6 1778.6,316.6 1778.6,331.4" fill="none" stroke="#000" stroke-width="3" stroke-linejoin="miter"/>
<text x="1747.4" y="302.9" font-size="24.5" text-anchor="middle">ns</text>
<text transform="translate(1581.44 513.54) rotate(-90)" font-size="24.3" font-weight="bold">z-score</text>
<text x="1677.4" y="651.4" font-size="20.66" font-weight="bold">Water</text>
<text x="1752.09" y="651.4" font-size="20.22" font-weight="bold">Quinine</text>
<text x="31.2" y="775" font-size="33" font-weight="bold">d</text>
<text x="179.75" y="798.3" font-size="32" font-weight="bold">Water</text>
<text x="485.75" y="795.7" font-size="32" font-weight="bold">Saccharin</text>
<text x="812.9" y="800" font-size="32" font-weight="bold">Quinine</text>
<text transform="translate(47.52 1003.78) rotate(-90)" font-size="32" font-weight="bold">Htr2a</text>
<text transform="translate(47.52 1366.55) rotate(-90)" font-size="32" font-weight="bold">Sst</text>
<path d="M112.7 1023.9L201.6 949.8L199.8 834.9L105.2 905.2Z" fill="#fcfcfc"/>
<path d="M201.6 949.8L348.4 990.8L355.4 873.7L199.8 834.9Z" fill="#f9f9f9"/>
<path d="M112.7 1023.9L266.4 1070.9L348.4 990.8L201.6 949.8Z" fill="#fafafa"/>
<path d="M121.7 1026.7L210.3 952.2L209 837.2M138.1 1031.7L225.9 956.6L225.6 841.3M154.6 1036.7L241.7 961L242.3 845.5M171.2 1041.8L257.6 965.4L259.1 849.7M188 1046.9L273.6 969.9L276.1 853.9M204.9 1052.1L289.8 974.4L293.2 858.2M222 1057.3L306.1 978.9L310.5 862.5M239.2 1062.6L322.5 983.5L327.9 866.8M256.6 1067.9L339.1 988.2L345.5 871.2M271.8 1065.6L118.5 1019L111.4 900.6M281.3 1056.4L128.7 1010.5L122.4 892.4M290.6 1047.3L138.8 1002.1L133.2 884.4M299.8 1038.3L148.8 993.8L143.8 876.5M308.8 1029.4L158.6 985.6L154.2 868.8M317.8 1020.7L168.3 977.5L164.5 861.1M326.5 1012.2L177.8 969.6L174.6 853.6M335.2 1003.7L187.2 961.8L184.6 846.2M343.7 995.4L196.5 954L194.4 838.9M112.2 1017L201.5 943.1L348.8 984M111.4 1004.6L201.3 931L349.6 971.7M110.7 992L201.1 918.8L350.3 959.3M109.9 979.2L200.9 906.4L351.1 946.7M109.1 966.3L200.7 893.9L351.8 933.9M108.2 953.2L200.5 881.3L352.6 921M107.4 940L200.3 868.4L353.4 908M106.6 926.5L200.1 855.5L354.2 894.7M105.7 912.9L199.9 842.3L355 881.3" fill="none" stroke="#c2c2c6" stroke-width="1.1"/>
<path d="M105.2 905.2L199.8 834.9L355.4 873.7M201.6 949.8L199.8 834.9M112.7 1023.9L105.2 905.2L105.2 905.2" fill="none" stroke="#e3e3e3" stroke-width="0.8"/>
<path d="M112.7 1023.9L266.4 1070.9L348.4 990.8L355.4 873.7M121.7 1026.7L118.4 1029.5M138.1 1031.7L134.8 1034.5M154.6 1036.7L151.3 1039.5M171.2 1041.8L168 1044.6M188 1046.9L184.8 1049.8M204.9 1052.1L201.7 1055M222 1057.3L218.8 1060.2M239.2 1062.6L236.1 1065.5M256.6 1067.9L253.5 1070.9M271.8 1065.6L277.4 1067.3M281.3 1056.4L286.8 1058M290.6 1047.3L296.1 1048.9M299.8 1038.3L305.3 1039.9M308.8 1029.4L314.3 1031M317.8 1020.7L323.2 1022.3M326.5 1012.2L332 1013.7M335.2 1003.7L340.6 1005.2M343.7 995.4L349.1 996.9M348.8 984L351.9 981M349.6 971.7L352.7 968.7M350.3 959.3L353.4 956.3M351.1 946.7L354.2 943.8M351.8 933.9L355 931M352.6 921L355.7 918.1M353.4 908L356.5 905.1M354.2 894.7L357.3 891.9M355 881.3L358.2 878.5" fill="none" stroke="#3a3a3a" stroke-width="0.9"/>
<path d="M273.2 1006.5h0M276.8 1002.6h0M236.5 1014.6h0M248.5 1009.7h0M284.2 1000.6h0M295.4 995.1h0M258.6 1007.2h0M295.4 989.3h0M288.9 999.6h0M250.1 1011h0M276.5 1004.5h0M262.6 1008h0M249 1009.2h0M291.2 998h0M299.3 984.6h0M252.1 1014.7h0M242.5 1012.9h0M278.9 999.3h0M286.1 995.8h0M256.1 1010.2h0M285 1000.9h0M273.2 1001.7h0M238.7 1011.4h0M247.3 1010h0M248.5 1013.2h0M302.2 985h0M270.7 999.7h0M276.6 1004.6h0M288.4 1002.9h0M272.3 1000.7h0M297.9 990.8h0M291.2 994.7h0M264.1 1005.3h0M262.3 1009.8h0M298.8 986.1h0M261.3 1009h0M296.9 995h0M294.6 996.7h0M273.3 1005.3h0M299.7 991.2h0M244 1006.6h0M245.3 1009.7h0M287.5 999.6h0M297.6 993.5h0M247.6 1012.2h0M255.4 1013.1h0M282.9 1000h0M247.9 1012.1h0M286.4 1000.3h0M271 1004.2h0M283.5 999.4h0M273.3 1004.7h0M241.2 1007.8h0M250.2 1010.5h0M278 1005.1h0M244 1011.7h0M270 1001.5h0M246 1011h0M240.7 1010.4h0M247.9 1008.8h0M250.3 999.9h0M252.2 999.9h0M248.9 1000.7h0M253.6 999.9h0M253.4 1001.2h0M249.5 1000.6h0" fill="none" stroke="#fde725" stroke-width="4.1" stroke-linecap="round"/>
<path d="M214.8 924.6h0M218.9 926.7h0M218.1 924h0M217.3 926.4h0M222 930.1h0M220.9 925.1h0M223.2 921.3h0M217.7 922.3h0M216.4 928.4h0M225 925h0M220.9 941h0M214.1 946.8h0M216.6 945.4h0M214.6 947.8h0M222.7 941.8h0M233.1 966h0M230.1 968.1h0M223.3 970.6h0M218.8 972.5h0M224.2 969.3h0M225.7 967.6h0" fill="none" stroke="#440154" stroke-width="5.3" stroke-linecap="round" stroke-opacity="0.35"/>
<path d="M159.8 946.5h0M169 912.4h0M159.6 936.1h0M157.2 937.1h0M163.5 945.9h0M155.5 938.5h0M166.2 918.7h0M167.8 917.5h0M161.5 937.6h0M165.6 917.3h0M165.5 917.9h0M158.2 934.6h0M162 918.9h0M180.1 915.5h0M155.3 926h0M173.7 910.2h0M163.7 923.6h0M161 947.1h0M165.3 920.8h0M163.5 931.5h0M169.4 915.5h0M160.4 929.9h0M160.5 935.1h0M160 939.7h0M166.7 915.6h0M169 915.1h0M167 915.4h0M164.3 923.3h0M157.1 928.3h0M162.1 941.8h0M164.1 948.1h0M166.1 918.7h0M179.5 912.4h0M158.7 941.5h0M161.6 925.5h0M156.3 936.5h0M158 931.5h0M160.4 931.5h0M159.6 941.2h0M162.9 927.1h0M172 912.7h0M177.9 912.5h0M164.2 945.7h0M172.5 916h0M174.1 916.3h0M161.1 932.1h0M167.2 925.3h0M157.6 934.9h0M158.2 933.3h0M162.4 924h0M175.8 908.1h0M161.3 941.7h0M174.8 916.5h0M162.9 921.2h0M164.3 942.7h0M162.5 943.2h0M153.1 926.8h0M158.9 942.4h0M157.8 932h0M163.3 926.3h0M161.2 921.9h0M176.1 912.1h0M167 923.1h0M162.5 920.5h0M163.9 922.7h0M170.4 917.8h0M159.1 943.3h0M181.4 909.5h0M179.3 911.8h0M162.8 934.3h0M171.7 929.9h0M181.1 941h0M169.9 932.7h0M166.1 931.4h0M197.9 960.6h0M166.2 931.1h0M166.8 928.5h0M173.9 931h0M193.5 951.4h0M191.7 959.8h0M195.1 958.1h0M168.6 931.9h0M189.3 947.1h0M187.3 942.7h0M188.3 957.9h0M190.4 954.8h0M181.5 941.3h0M184.4 944.5h0M176.5 936.6h0M188.5 949h0M194.3 947.6h0M184.8 941h0M200.2 957.2h0M194.3 951.5h0M190.3 954.8h0M179.9 937.8h0M196.8 947.9h0M176.9 938.6h0M200.2 960.2h0M180.2 939.3h0M216 894.8h0M226.8 905h0M225.8 909.4h0M226.2 907.6h0M219 900.7h0M216.2 893.1h0M226.8 905.9h0M216.3 893.1h0M212.7 890.6h0M213.2 892.9h0M222.7 904.3h0M228.8 909.2h0M207 890.1h0M217.6 904.7h0M221.6 907.8h0M218.8 898h0M219.4 904.6h0M217.4 899.7h0M214 898.4h0M204 887.4h0M221.6 900.6h0M213.2 896.4h0M220.6 908h0M212.6 893.8h0M207.4 893.1h0M212 891.7h0M227.3 908.4h0M214.4 896.7h0M220.1 904h0M213.6 891.3h0M213.2 894.7h0M220.5 899.4h0M220.3 899.9h0M208.3 889.8h0M207.5 891.7h0M229.2 915.5h0M231.9 911.1h0M240 929.8h0M245.3 934.2h0M232.2 917.9h0M233.6 922.9h0M244.6 933.8h0M242.6 929.4h0M239.4 923.4h0M248.1 939.1h0M247.5 933h0M237.3 921.8h0M236.3 919.4h0M239.5 926.8h0M258.1 890.2h0M238.1 895.9h0M246.6 893.2h0M247.5 889.7h0M246.8 891.1h0M272.3 890.5h0M244.5 893h0M233.2 899.2h0M275.5 893.1h0M232.1 899.6h0M231.5 900.3h0M242 893.8h0M257.1 889.7h0M278.3 895.2h0M271.5 891.3h0M237.4 895.7h0M275.7 889.6h0M247.8 894.4h0M255.9 887.8h0M256.9 887.6h0M258.9 894.1h0M273.4 892.7h0M270.6 892.2h0M260.3 890.8h0M267.3 888.7h0M257.9 894.1h0M241.3 892.5h0M232 903.3h0M247.5 891.6h0M270.1 889h0M234.6 902.5h0M233.7 900.2h0M269.9 890.2h0M237.2 896.1h0M230.8 901.9h0M246.4 893.7h0M248 891.6h0M260.2 888.9h0M248.7 892.3h0M276.9 891.6h0M232.1 896.7h0M242.2 894.9h0M257.9 892.5h0M260.6 888.1h0M233.1 899.3h0M260.4 889.9h0M259.5 892.7h0M270.5 892.2h0M261.9 890.9h0M276 892.4h0M238.3 897.8h0M237.7 898.9h0M240.1 895.4h0M254.3 892h0M233.1 899.7h0M242.3 894.7h0M268.6 892.1h0M241.3 896.2h0M258.9 891.8h0M235.2 900.2h0M293.3 910.9h0M282.2 899.4h0M289.3 905.3h0M295.3 910.4h0M307.8 923.8h0M294.6 910.4h0M295.9 913.3h0M312.2 927.7h0M307.5 926h0M304.5 919.7h0M301.6 920h0M305 922.7h0M301 913.2h0M299.1 915.2h0M297.4 912.9h0M290.2 903.7h0M280.6 900.6h0M311.1 929.5h0M315 947.9h0M315.4 949h0M315.5 946.1h0M315.2 948h0M256.1 961.7h0M262.1 965.7h0M263.2 971.8h0M256.1 966.7h0M197.4 976.8h0M207.5 979.9h0M201.4 981.9h0M208.5 976.8h0M246 941.4h0M250 940.4h0" fill="none" stroke="#440154" stroke-width="5.3" stroke-linecap="round"/>
<g font-family='"DejaVu Sans", sans-serif' font-size="9.8" text-anchor="middle" fill="#2a2a2a">
<text x="369.2" y="988.5">−1.00</text>
<text x="369.6" y="975.7">−0.75</text>
<text x="370" y="962.8">−0.50</text>
<text x="370.4" y="950">−0.25</text>
<text x="370.8" y="937.1">0.00</text>
<text x="371.1" y="924.3">0.25</text>
<text x="371.5" y="911.5">0.50</text>
<text x="371.9" y="898.6">0.75</text>
<text x="372.3" y="885.8">1.00</text>
<text x="113.4" y="1049.2">−1.00</text>
<text x="131.1" y="1055">−0.75</text>
<text x="148.8" y="1060.8">−0.50</text>
<text x="166.5" y="1066.6">−0.25</text>
<text x="184.2" y="1072.5">0.00</text>
<text x="201.9" y="1078.3">0.25</text>
<text x="219.6" y="1084.1">0.50</text>
<text x="237.3" y="1089.9">0.75</text>
<text x="255" y="1095.7">1.00</text>
<text x="285.4" y="1088.6">−1.00</text>
<text x="294.5" y="1078.9">−0.75</text>
<text x="303.6" y="1069.3">−0.50</text>
<text x="312.7" y="1059.6">−0.25</text>
<text x="321.9" y="1049.9">0.00</text>
<text x="331" y="1040.3">0.25</text>
<text x="340.1" y="1030.6">0.50</text>
<text x="349.2" y="1021">0.75</text>
<text x="358.3" y="1011.3">1.00</text>
</g>
<path d="M439.1 1030L530.4 949.1L528.4 828.1L431.1 905.3Z" fill="#fcfcfc"/>
<path d="M530.4 949.1L686.2 992.2L693.7 869.2L528.4 828.1Z" fill="#f9f9f9"/>
<path d="M439.1 1030L602.5 1079.4L686.2 992.2L530.4 949.1Z" fill="#fafafa"/>
<path d="M448.8 1032.9L539.7 951.6L538.2 830.6M466.2 1038.2L556.3 956.2L555.8 834.9M483.7 1043.5L573 960.9L573.5 839.3M501.4 1048.8L589.9 965.5L591.4 843.8M519.2 1054.2L606.9 970.2L609.5 848.3M537.2 1059.6L624.1 975L627.7 852.8M555.3 1065.1L641.4 979.8L646 857.3M573.6 1070.7L658.8 984.6L664.5 861.9M592.1 1076.2L676.4 989.4L683.2 866.6M610.3 1071.3L447.6 1022.5L440.2 898.1M620.9 1060.2L459.2 1012.2L452.6 888.3M631.4 1049.2L470.6 1002.1L464.8 878.6M641.7 1038.5L481.8 992.1L476.8 869.1M651.9 1028L492.9 982.3L488.5 859.8M661.8 1017.6L503.8 972.7L500.1 850.6M671.6 1007.4L514.5 963.2L511.5 841.6M681.3 997.3L525 953.9L522.7 832.7M438.6 1022.8L530.3 942L686.7 985M437.8 1009.7L530.1 929.3L687.5 972.2M437 996.5L529.9 916.5L688.3 959.1M436.1 983.1L529.7 903.5L689.1 945.9M435.2 969.6L529.4 890.3L689.9 932.5M434.4 955.8L529.2 877L690.7 918.9M433.5 941.9L529 863.5L691.5 905.2M432.6 927.8L528.8 849.8L692.4 891.3M431.7 913.4L528.5 836L693.2 877.2" fill="none" stroke="#c2c2c6" stroke-width="1.1"/>
<path d="M431.1 905.3L528.4 828.1L693.7 869.2M530.4 949.1L528.4 828.1M439.1 1030L431.1 905.3L431.1 905.3" fill="none" stroke="#e3e3e3" stroke-width="0.8"/>
<path d="M439.1 1030L602.5 1079.4L686.2 992.2L693.7 869.2M448.8 1032.9L445.4 1036M466.2 1038.2L462.8 1041.2M483.7 1043.5L480.3 1046.6M501.4 1048.8L498 1051.9M519.2 1054.2L515.9 1057.4M537.2 1059.6L533.9 1062.8M555.3 1065.1L552.1 1068.3M573.6 1070.7L570.4 1073.9M592.1 1076.2L588.9 1079.5M610.3 1071.3L616.2 1073M620.9 1060.2L626.8 1061.9M631.4 1049.2L637.3 1051M641.7 1038.5L647.6 1040.2M651.9 1028L657.7 1029.6M661.8 1017.6L667.6 1019.2M671.6 1007.4L677.4 1009M681.3 997.3L687 998.9M686.7 985L689.8 981.8M687.5 972.2L690.6 968.9M688.3 959.1L691.4 955.9M689.1 945.9L692.2 942.7M689.9 932.5L693.1 929.3M690.7 918.9L693.9 915.8M691.5 905.2L694.8 902.1M692.4 891.3L695.6 888.2M693.2 877.2L696.5 874.1" fill="none" stroke="#3a3a3a" stroke-width="0.9"/>
<path d="M519.8 1011.1h0M529.4 1011.1h0M497.4 994.6h0M533.5 1014.4h0M519.1 1009.4h0M539.5 1016.9h0M488.7 989.5h0M495 1001.7h0M501.5 999.8h0M510.2 1008.3h0M511.9 1009.6h0M548.6 1017.3h0M486.5 991.1h0M499.1 1002.9h0M540.2 1017.3h0M495.9 1004.2h0M513.7 1008.3h0M491.5 998.7h0M489.8 983.1h0M485.2 985.7h0M516.2 1008.4h0M482.8 976.8h0M520.5 1013.4h0M534.5 1015.1h0M493 995.1h0M486.6 992.8h0M519.1 1013h0M548.9 1020.7h0M513.3 1010.3h0M504 1004.5h0M511.3 1013.7h0M551.2 1019.3h0M543.6 1018.9h0M486.5 992.1h0M511.1 1007.9h0M511.6 1009.8h0M501.6 999h0M477.8 985.5h0M519.4 1015.8h0M502.1 1006.7h0M549.6 1022.4h0M542.8 1012.2h0M487.6 986.3h0M531.2 1016.3h0M496.2 1003h0M524 1007.7h0M493.4 999.5h0M556.7 1020.3h0M493.3 998.1h0M542.3 1013.3h0M519.5 1011.4h0M533.4 1009.5h0M555.2 1020.5h0M480.5 985.8h0M509.3 1008.2h0M545.8 1019.9h0M531.5 1013.5h0M495.4 1002.4h0M496.8 1006.8h0M532.4 1017.4h0M523.4 1013h0M489.6 991.3h0M556.8 1017.7h0M501.7 1006.9h0M531.3 1014.3h0M496 999.2h0M525.8 1010.4h0M500.5 1002.9h0M500.9 1002.5h0M485.1 975.6h0M495 1006.1h0M511.4 1005.1h0M501.7 1006.1h0M503.1 999.4h0M512.4 1007.7h0M481.2 978.6h0M490.8 992.2h0M485 987.7h0M537.6 1018.5h0M528.3 1008.9h0M502.7 983.4h0M504.6 982.1h0M503.4 979.1h0M506.2 979h0M504 983.4h0M500.9 980.7h0M561.9 1013.3h0M559.9 1019.3h0" fill="none" stroke="#fde725" stroke-width="4.1" stroke-linecap="round"/>
<path d="M531.5 931.3h0M526.5 942.4h0M523.5 924.2h0M559.9 901h0M553.8 907h0M476.9 937.4h0M485 923.2h0" fill="none" stroke="#440154" stroke-width="5.3" stroke-linecap="round" stroke-opacity="0.35"/>
<path d="M575.3 884h0M557.6 885.4h0M585.6 886.7h0M549.9 888.7h0M587 894.5h0M592.8 888.3h0M561.8 884.8h0M586.5 883.4h0M581.3 893.1h0M568.4 884.3h0M553.7 889.3h0M590.5 893h0M570.3 890.9h0M548 888.4h0M553.5 887.3h0M574.8 888h0M551.9 887.5h0M549.1 886.3h0M563.5 889.8h0M550 887.4h0M545.9 891.2h0M567.7 887.4h0M572.6 886.1h0M583.9 885.5h0M581.1 889.6h0M585.1 886.6h0M564.8 885.1h0M581.3 883.2h0M589 886.4h0M549.1 887.3h0M553.8 882h0M565 883.6h0M560.4 887.5h0M586.7 885.8h0M590.3 888.2h0M574 883h0M582.4 886.5h0M565.1 883.5h0M588.4 886.6h0M580.7 891h0M617.4 913.6h0M633.7 926.2h0M631.6 925h0M631.1 935.2h0M603.5 911.5h0M620 913.7h0M605.8 911.5h0M624.1 915.5h0M639.3 932.2h0M625.6 909.3h0M609.4 913.2h0M630.9 929.4h0M625 925.1h0M624.8 913.5h0M625.9 928.7h0M614 922h0M636.4 930.5h0M628.2 934.9h0M616.8 930.2h0M615.1 901.4h0M625.4 922.9h0M617.5 902.1h0M622.2 926.6h0M624.7 929.4h0M615.7 916.4h0M615.9 911.3h0M610.4 915.4h0M636 933.7h0M628.3 923.6h0M620.9 915.7h0" fill="none" stroke="#440154" stroke-width="5.3" stroke-linecap="round" stroke-opacity="0.6"/>
<path d="M571 887.3h0M573.8 901.1h0M564.1 889.3h0M596.4 909.3h0M584.4 887.3h0M552 895h0M581.7 897.4h0M590.3 897.2h0M598.4 905.2h0M554 897h0M568.7 888.8h0M591.1 899.5h0M570.9 892.1h0M534.9 902h0M604 907.1h0M526.6 900h0M558.7 887.2h0M567.6 894.7h0M540.7 898.2h0M542.6 903.4h0M572.2 889.8h0M588.2 889.3h0M535.7 897.7h0M531.8 903.4h0M611 896.5h0M554.3 897.7h0M602.2 899.9h0M555.8 896.3h0M574.3 885.7h0M539.8 900.6h0M532.6 903.9h0M565.5 900h0M602.7 903.5h0M568.9 878.3h0M574.8 888.7h0M607.8 892.1h0M524 893.7h0M532.4 898h0M532.7 905.4h0M562.6 880.2h0M556.2 899.1h0M539.4 887h0M565.4 891.4h0M593.6 900.3h0M592.4 889.4h0M590 901.5h0M583.2 902.2h0M592.5 894.2h0M535.6 897.8h0M607.1 902.2h0" fill="none" stroke="#440154" stroke-width="5.3" stroke-linecap="round" stroke-opacity="0.7"/>
<path d="M507.1 903.6h0M483.6 935.4h0M487 924.7h0M490.9 919.4h0M488.1 922.5h0M481.1 937.6h0M496.1 914.5h0M487.4 921h0M490.3 922.2h0M482.7 930.1h0M505.7 911.6h0M501.1 908.2h0M489.9 915.4h0M485.3 936.5h0M479.7 949.9h0M481.2 948h0M481.5 931.3h0M495.6 911.7h0M484.2 924.4h0M495.1 911.9h0M511.3 905.9h0M484.1 928.9h0M503.6 909h0M507.6 910.1h0M478.7 937.5h0M489.3 917.6h0M482.7 942.5h0M511.6 904.9h0M500.1 906.8h0M489.1 916.9h0M486.6 919.7h0M500.1 906.4h0M484.4 924.3h0M507.3 908.4h0M504.4 918.4h0M495.5 917.9h0M488.4 921.7h0M491.2 916h0M474.2 942.7h0M489.7 918.8h0M510.3 900.5h0M535.7 892.3h0M531.6 891.9h0M534.7 898.7h0M523.9 900.2h0M523.7 894.1h0M519.9 903.9h0M536.5 902.8h0M534.6 901.4h0M510.7 902.1h0M514.6 903.7h0M515.4 895.8h0M523.8 896.8h0M523.2 901.8h0M533.6 901.1h0M525.4 902.3h0M509.6 901.1h0M525.3 900h0M541.5 895.2h0M525.6 888.5h0M513.7 901.4h0M515.8 896.5h0M510.6 895.7h0M533.7 892.1h0M529.5 892.5h0M522.4 896.1h0M514.8 906.4h0M524.3 904.4h0M518.8 902.5h0M541.9 897.5h0M526.3 907.4h0M512.1 905.4h0M535.1 897.7h0M510.3 900.4h0M534.1 898.8h0M524.5 910.8h0M528.2 892.1h0M525.6 902.9h0M524.4 900.4h0M528.3 893.4h0M529 894.3h0M527.8 892.6h0M539.2 905.2h0M523.3 900.2h0M540.2 892.1h0M533.8 892.9h0M537.2 897.5h0M524.7 895.9h0M512.4 906.5h0M533.9 893.3h0M521.3 897.9h0M512.6 905.8h0M538.2 891.6h0M516.3 901.2h0M539.8 898.4h0M515.8 901.6h0M513.5 894.9h0M529.6 899.7h0M515.4 901.7h0M537.5 897.6h0M649.7 951.9h0M616.7 894.1h0M638.5 942.8h0M621.4 902.3h0M632.4 917.2h0M646.9 955.8h0M627.8 904.9h0M601 891.4h0M603.1 894.6h0M643.3 922.5h0M623.7 907.1h0M602.5 887.8h0M641.9 957.5h0M631.5 919.4h0M620.7 918.2h0M640 934.5h0M628.2 912.3h0M636.8 935.1h0M635.9 945.4h0M612.8 901.9h0M613.7 896.1h0M609.5 895.1h0M609.1 892.7h0M647.4 927.6h0M644.3 942.6h0M647.7 944.5h0M624.1 902.5h0M630.9 917.2h0M596 892.2h0M613.7 900.1h0M606.4 892.4h0M646.7 958.9h0M644.8 949.1h0M602 891.9h0M630.2 911.6h0M643.8 932.4h0M618.6 913h0M638.2 939.9h0M631.4 925.2h0M627.5 915.3h0M650.1 949.9h0M646.7 950.2h0M639.8 926.8h0M619.7 908.7h0M612.2 899.4h0M598.6 896.6h0M641.7 951.5h0M614.7 901.7h0M591.1 889.7h0M596.1 883.2h0M642.7 934.9h0M623.6 915.9h0M624.9 914.6h0M615.2 902.6h0M634.2 944.1h0M635.6 929.7h0M618.4 902.9h0M640.1 938.7h0M645.6 936.9h0M637.8 956.7h0M623.4 905.1h0M599.9 888.3h0M645.8 926.9h0M592.3 894.2h0M610 898.2h0M617.9 898.5h0M639.1 917h0M639.9 920.7h0M643.5 922.6h0M612.1 892.1h0M604.1 888.9h0M643.3 935.9h0M644.1 924.9h0M623.2 917.2h0M641.2 934.7h0M637.9 938.4h0M597.6 894.6h0M629.4 921.7h0M618.2 903.7h0M643.7 927.4h0M633.6 916.4h0M609.9 890.6h0M622 903h0M601.4 885.6h0M621.1 896.4h0M631.7 909.6h0M628.5 907.8h0M608.3 906h0M632.7 921.2h0M600.9 883.7h0M647 954h0M607 890.1h0M602.3 889.7h0M611.9 902.8h0M638.3 921.7h0M599.1 891.1h0M643.3 928.4h0M640.3 924.8h0M645.3 937.2h0M624.9 906.1h0M648.9 953.9h0M615.4 903.6h0M642.5 946.5h0M627.4 917.2h0M647.1 936.3h0M607.2 897.8h0M618.4 909.8h0M631.6 915.3h0M646.9 960h0M639.8 934.2h0M629.6 985.5h0M623.7 990.8h0M638.8 962.5h0M637.5 959.8h0M634.4 975.4h0M619.8 993.8h0M615.6 1001h0M637.9 978.8h0M620.2 990.6h0M629.8 982.4h0M620.7 991.4h0M626.1 988.2h0M627.9 989.3h0M640.2 960.9h0M629.7 986.3h0M619.8 993.6h0M625.5 988.3h0M643.5 964.2h0M610.5 1007.6h0M635.4 978.4h0M613.9 1009.3h0M631.2 977.8h0M639.7 962.6h0M633.2 979.3h0M628.5 986.8h0M611.6 1006.7h0M624.6 983.7h0M621.7 998.6h0M636.3 976.5h0M606.6 1006.2h0M563.7 938h0M612.3 982.2h0M606.3 975.2h0M584.3 948.6h0M565 922h0M574.2 945.6h0M611.9 960h0M608.7 981.8h0M596.8 963.8h0M591.2 938.5h0M571.8 923.5h0M568.7 913h0M580.9 921.8h0M557.6 916.6h0M567.2 941.1h0M581.1 930.5h0M592.2 962.9h0M575.8 939.9h0M567.1 920.8h0M603.6 967.4h0M586.1 950.1h0M570 914.2h0M587.9 938.8h0M592.9 980.7h0M589.5 945.7h0M595.5 938h0M566.6 918h0M601.2 952.4h0M599.6 963.9h0M613.6 974.1h0M566.5 942.4h0M556.2 926.1h0M609.1 982.6h0M611.6 973.1h0M566.7 950.3h0M586.1 941.1h0M575.2 948.6h0M549.9 918.8h0M565 916.8h0M570.8 919.8h0M554.1 915.5h0M580.9 944h0M589.7 945.8h0M556.4 923.2h0M546.6 929.5h0M570.5 938.8h0M572.6 925.8h0M608.7 948.5h0M579 951.1h0M602.7 962h0M614.3 977.4h0M574 935.9h0M571.2 942.8h0M604.4 953.4h0M576.3 932.8h0M604.8 960.5h0M604.6 968.2h0M593.2 961.9h0M587.2 930.7h0M562.6 913.2h0M571.9 934.6h0M567.6 914.3h0M605.5 962.8h0M579.7 949.6h0M577.9 944.4h0M570.1 915.6h0M573.9 944h0M594.9 965.6h0M599.2 964.7h0M569.9 922.6h0M569.5 916.4h0M566.9 916.5h0M574.3 942.2h0M579.8 944.4h0M580.9 949.8h0M617.3 979.6h0M593.4 947.3h0M570.4 926.5h0M587.3 953.1h0M555.1 921.8h0M583.9 959.2h0M571 934.5h0M577.9 913.6h0M569.7 914.2h0M594.8 965.3h0M606.9 963h0M611.1 963.7h0M603.3 964.8h0M593.5 967.6h0M573.7 964.3h0M590.4 961.5h0M575.6 962.4h0M588.5 964.3h0M575.3 965.4h0M602.7 963.1h0M574.8 963.3h0M592.2 966.1h0M596 964.4h0M620.9 961.8h0M621.8 962.1h0M600.8 977.9h0M596.4 978.9h0M597 974.6h0M606.8 979.3h0M598.7 976.8h0M599.5 979.2h0M598.4 975.7h0M602.3 981.3h0M556.8 915.6h0M549.1 910.6h0M553.5 914.8h0M553.2 914.2h0M568.7 922.9h0M553.9 915.8h0M549.9 912.4h0M552.8 915.6h0M547.9 915.8h0M545.6 915.2h0" fill="none" stroke="#440154" stroke-width="5.3" stroke-linecap="round"/>
<g font-family='"DejaVu Sans", sans-serif' font-size="9.8" text-anchor="middle" fill="#2a2a2a">
<text x="710.5" y="991.1">−1.00</text>
<text x="710.9" y="977.7">−0.75</text>
<text x="711.3" y="964.3">−0.50</text>
<text x="711.7" y="950.9">−0.25</text>
<text x="712" y="937.5">0.00</text>
<text x="712.4" y="924">0.25</text>
<text x="712.8" y="910.6">0.50</text>
<text x="713.2" y="897.2">0.75</text>
<text x="713.6" y="883.8">1.00</text>
<text x="438.5" y="1056.2">−1.00</text>
<text x="456.6" y="1062.2">−0.75</text>
<text x="474.6" y="1068.3">−0.50</text>
<text x="492.7" y="1074.3">−0.25</text>
<text x="510.8" y="1080.3">0.00</text>
<text x="528.8" y="1086.4">0.25</text>
<text x="546.9" y="1092.4">0.50</text>
<text x="564.9" y="1098.5">0.75</text>
<text x="583" y="1104.5">1.00</text>
<text x="624.6" y="1095.5">−0.75</text>
<text x="634.9" y="1084.5">−0.50</text>
<text x="645.1" y="1073.5">−0.25</text>
<text x="655.4" y="1062.5">0.00</text>
<text x="665.7" y="1051.5">0.25</text>
<text x="676" y="1040.5">0.50</text>
<text x="686.2" y="1029.5">0.75</text>
<text x="696.5" y="1018.5">1.00</text>
</g>
<path d="M771.4 1036.2L863.2 956.4L861.2 837.1L763.4 913.3Z" fill="#fcfcfc"/>
<path d="M863.2 956.4L1017.3 999.8L1024.7 878.4L861.2 837.1Z" fill="#f9f9f9"/>
<path d="M771.4 1036.2L932.8 1085.9L1017.3 999.8L863.2 956.4Z" fill="#fafafa"/>
<path d="M780.9 1039.2L872.3 958.9L870.9 839.5M798.1 1044.5L888.7 963.6L888.3 843.9M815.4 1049.8L905.3 968.2L905.8 848.3M832.9 1055.2L922 972.9L923.5 852.8M850.5 1060.6L938.8 977.7L941.4 857.3M868.3 1066L955.8 982.4L959.4 861.9M886.2 1071.5L972.9 987.3L977.5 866.5M904.3 1077.1L990.1 992.1L995.9 871.1M922.5 1082.7L1007.5 997L1014.3 875.8M938.5 1080.1L777.5 1030.9L770 908.2M949.3 1069.1L789.2 1020.7L782.5 898.4M959.9 1058.3L800.7 1010.7L794.8 888.9M970.3 1047.6L812.1 1000.8L806.9 879.4M980.6 1037.2L823.2 991.1L818.8 870.2M990.7 1026.9L834.2 981.6L830.4 861.1M1000.6 1016.8L845 972.2L841.9 852.1M1010.3 1006.8L855.6 962.9L853.2 843.3M770.9 1029.1L863 949.4L1017.7 992.7M770.1 1016.3L862.8 936.9L1018.5 980M769.2 1003.2L862.6 924.3L1019.3 967.1M768.4 990L862.4 911.4L1020.1 954.1M767.5 976.7L862.2 898.4L1020.9 940.9M766.7 963.1L862 885.3L1021.7 927.5M765.8 949.4L861.8 872L1022.5 914M764.9 935.4L861.6 858.5L1023.4 900.2M764 921.3L861.3 844.8L1024.2 886.3" fill="none" stroke="#c2c2c6" stroke-width="1.1"/>
<path d="M763.4 913.3L861.2 837.1L1024.7 878.4M863.2 956.4L861.2 837.1M771.4 1036.2L763.4 913.3L763.4 913.3" fill="none" stroke="#e3e3e3" stroke-width="0.8"/>
<path d="M771.4 1036.2L932.8 1085.9L1017.3 999.8L1024.7 878.4M780.9 1039.2L777.5 1042.2M798.1 1044.5L794.7 1047.5M815.4 1049.8L812 1052.8M832.9 1055.2L829.5 1058.2M850.5 1060.6L847.2 1063.7M868.3 1066L865 1069.2M886.2 1071.5L882.9 1074.7M904.3 1077.1L901.1 1080.3M922.5 1082.7L919.3 1085.9M938.5 1080.1L944.3 1081.9M949.3 1069.1L955.1 1070.8M959.9 1058.3L965.7 1060M970.3 1047.6L976.1 1049.3M980.6 1037.2L986.3 1038.8M990.7 1026.9L996.3 1028.5M1000.6 1016.8L1006.2 1018.4M1010.3 1006.8L1016 1008.4M1017.7 992.7L1020.9 989.5M1018.5 980L1021.7 976.8M1019.3 967.1L1022.5 964M1020.1 954.1L1023.3 950.9M1020.9 940.9L1024.1 937.7M1021.7 927.5L1025 924.4M1022.5 914L1025.8 910.8M1023.4 900.2L1026.7 897.1M1024.2 886.3L1027.6 883.2" fill="none" stroke="#3a3a3a" stroke-width="0.9"/>
<path d="M910.7 887.7h0M891.9 888.5h0M891 885.3h0M941.7 896h0M924.3 890.1h0M914.8 887.1h0M940.2 897.4h0M940.9 894.3h0M903.9 890.9h0M896.2 889.9h0M910.7 888.8h0M950 901.2h0M929.8 893.4h0M926.9 891.4h0M928.6 893.4h0M879.9 891.6h0M905.3 887.7h0M906.5 886.9h0M917 889.9h0M945.9 896h0M937.7 891.5h0M927 892.4h0M906.6 890h0M923.4 891.8h0M933.8 897.4h0M925.2 895h0M885.9 890.3h0M910.3 887.5h0M922.8 894.2h0M886.8 890.7h0M909.1 891.6h0M885.3 898.1h0M923.1 890.6h0M892.2 890.4h0M905.7 890.9h0M910.6 888.1h0M897.6 888.3h0M936.9 894.2h0M921.8 892.2h0M881.8 890.6h0M936.1 895.6h0M887.5 888.5h0M930 895.4h0M923.9 889.5h0M923.8 890.8h0M942.5 898h0M921.7 894.6h0M885 888.5h0M933.3 892.3h0M920.3 888.8h0M887.6 899.5h0M873.1 897.3h0M862.8 898.1h0M887.5 899.7h0M878.6 898.2h0M889.8 900.7h0M891.6 901h0M871.1 896.3h0M902.5 900.8h0M874 899.2h0M889.9 902.1h0M870.1 897.6h0M879.7 899.1h0M888.8 900.3h0M894.1 900.3h0" fill="none" stroke="#fde725" stroke-width="4.1" stroke-linecap="round" stroke-opacity="0.75"/>
<path d="M838.5 946.7h0M837 946.8h0M846.8 942.3h0M847.4 955.3h0M837 967.4h0M834.4 956.3h0M836.9 937.3h0M837.1 969.1h0M832.3 944h0M845.8 952.4h0M847.8 947.5h0M841.7 950.9h0M833.3 963.8h0M841.6 941.5h0M859.5 937.4h0M887.9 937.4h0M893.9 930.3h0M901 933.3h0M881.8 959.6h0M887.9 961.7h0" fill="none" stroke="#440154" stroke-width="5.3" stroke-linecap="round" stroke-opacity="0.4"/>
<path d="M920.2 997.5h0M923.5 1006.3h0M917.5 1007.7h0M931.8 1003.3h0M925.9 1005.1h0M922.1 1001.5h0M918.5 995h0M925.7 1002.6h0M916.1 1005.8h0M918.2 1001.5h0M915.3 998.9h0M932.1 1006h0M917.8 1008.8h0M925.9 1007.7h0M933.9 1003.2h0M914.1 1000h0M914.5 1001.3h0M922.9 1004.5h0M925.6 996h0M913 1002.9h0M916.8 997.1h0M919.9 1007.5h0M925.4 1008.9h0M926.8 1009h0M931.1 1006.6h0" fill="none" stroke="#440154" stroke-width="5.3" stroke-linecap="round" stroke-opacity="0.5"/>
<path d="M953 981.5h0M943.6 985.8h0M934.7 989.5h0M962 982h0M951.2 978h0M944.9 983h0M943.1 981.8h0M949.2 981.3h0M938.6 984h0M951.1 980.9h0M940 985.4h0M940.7 986.9h0M957.4 982.2h0M962.5 982.1h0M952.6 982.4h0M963.4 982.9h0M944.9 987.6h0M950 980.9h0M942.7 983h0M949 984.5h0M946.8 982.1h0M942.7 985.2h0M952.3 981.6h0M962.9 982.7h0M932.7 989.9h0M921.2 986.9h0M866.9 987h0M906.4 973h0M906.8 985.2h0M868.9 969.6h0M867.3 967.6h0M863.2 969.1h0M923.2 974.2h0M896.4 991.6h0M871.7 986.6h0M919.5 980.5h0M897.1 966.7h0M911 972.6h0M873.6 980.7h0M891.6 980.1h0M854.8 970.8h0M856.8 980.5h0M880.4 979.6h0M881.6 969h0M922.6 964.3h0M879.7 975.6h0M905.6 978.1h0M884.4 989.2h0M914 966.6h0M908.4 967.9h0M892.7 965h0M891.5 973h0M910.9 978.6h0M889.3 965.4h0M926.3 965.4h0M875.2 983.9h0M916.3 972h0M895.1 965.7h0M905.8 955.5h0M889.2 970.6h0M868.5 978.2h0M901.2 963.7h0M922.6 985.1h0M918.1 977.1h0M870.8 964.7h0M907.3 977.9h0M895.5 979.7h0M854.2 976.3h0M893.4 977.5h0M887.8 954.5h0M856.9 984.9h0M866.4 962.6h0M880.5 970.3h0M912.4 961.8h0M897.1 964.5h0M918.5 971.8h0M899.5 979.6h0M860.1 973.3h0M896.9 985.4h0M888.2 977.3h0M921.3 973.8h0M882 956.8h0M861.9 967.3h0M926.9 965.8h0M923.2 978.5h0" fill="none" stroke="#440154" stroke-width="5.3" stroke-linecap="round" stroke-opacity="0.6"/>
<path d="M843.4 999.6h0M828.8 992h0M835.8 1004.8h0M844.4 1005.5h0M815.4 978.7h0M845.8 1007.2h0M832.9 995.3h0M819.4 976.7h0M826.7 989.5h0M846.8 1005.4h0M825.6 985.9h0M839.4 997.3h0M818 977.2h0M828.2 990.8h0M825.3 989.4h0M821.8 980.4h0M843.8 1005.8h0M836.6 996.5h0M825.5 989.3h0M828.9 986.5h0M825.7 994.1h0M819.4 984.7h0M831 992.7h0M822.5 986.6h0M823.3 983h0M824.6 980.7h0M829.8 997.1h0M829.6 997.4h0M841.9 997.9h0M841.1 1004.5h0M840.6 1001.4h0M833.9 995.4h0M820.1 988.7h0M839.9 1002.6h0M824.3 990.1h0M835 991.2h0M835.9 1003h0M831 1002.4h0M822.1 981.3h0M845.2 1001h0M820 978.2h0M821.5 985h0M832.4 998.4h0M835.6 1000.9h0M839.7 1003.9h0M819.7 978.3h0M825.7 990.9h0M821.1 984.2h0M816.2 977.6h0M836.6 999.7h0M840.3 996.2h0M840.4 998.1h0M840 1003.1h0M829.9 994.2h0M820.9 981.5h0M819.6 979.7h0M830 999.1h0M840.9 1002.5h0M846.2 1005.9h0M829.6 997h0M904.9 1022h0M846.8 1009.7h0M875.8 1014.7h0M895.8 1017.9h0M913.5 1015.8h0M859.6 1015.7h0M921.1 1021.2h0M902.2 1023.9h0M880.1 1017.4h0M880.7 1018.7h0M920 1018.5h0M870.2 1016.8h0M861.8 1010.2h0M887.9 1022.8h0M911.5 1025.3h0M864.5 1017h0M854.2 1005.7h0M896.1 1023.9h0M886.3 1021.7h0M907.2 1024.3h0M875.4 1015.1h0M858.8 1008.5h0M909.4 1019h0M862.4 1017.5h0M861 1016.6h0M852.3 1004.1h0M924.6 1024.4h0M899.2 1023.6h0M899.8 1026.3h0M891.1 1021.4h0M871.6 1016.5h0M894.3 1019.9h0M894.7 1021.1h0M922.7 1020.5h0M853 1013.1h0M868.1 1013.9h0M864.7 1015.9h0M878.1 1017.1h0M897.8 1018h0M851.4 1008.1h0M874.4 1017h0M916.8 1022.7h0M863.8 1018.6h0M865.4 1012.9h0M892.6 1022.5h0M857.8 1004.6h0M852.4 1003.7h0M901.6 1024.6h0M871.3 1017.9h0M847.7 1006.8h0M849.3 1007.1h0M916.9 1023.8h0M906.5 1020.5h0M915.3 1018.4h0M884.2 1015.7h0M887.7 1017.3h0M849.5 1009.9h0M882.8 1021.2h0M891.4 1021.2h0M906 1023.1h0M968.8 987.3h0M978.3 962.8h0M948.8 1002.9h0M945 1003.5h0M967.3 988.7h0M960.1 997.7h0M967.5 993.8h0M974.1 971.1h0M966.7 982.6h0M966.5 994.2h0M964.8 988.8h0M978.1 956.9h0M976.4 952.3h0M947.1 1003.8h0M941.4 1010.6h0M967.3 985.5h0M957.2 1000.5h0M942.4 1009.4h0M953.2 1004.9h0M977.5 954.9h0M944.6 1007.7h0M979.2 975.8h0M978 969.3h0M979.6 951.7h0M941.5 1007.7h0M979.2 948h0M977.9 962.3h0M976.1 955.4h0M957 996.9h0M973.4 970.3h0M977.8 952.3h0M978 944.4h0M955.3 1002.7h0M971.3 980.9h0M980.4 971.7h0M969.8 981.2h0M972.2 979.3h0M974.4 955.7h0M939.2 1011.5h0M968.3 985h0M974.6 947.6h0M971.3 968.6h0M981 963.6h0M968.8 971.4h0M955.2 998.8h0M977.3 970.2h0M959.5 995.7h0M964.2 995.8h0M963.7 995h0M966.8 983.1h0M963.7 992.6h0M977.8 968h0M951.3 1005.9h0M962 993.2h0M977.2 948.1h0M980.3 948.2h0M980.5 944.5h0M976.9 963.2h0M962.6 995.5h0M948.6 1009h0M974.4 977h0M942 1006.6h0M978.1 945.2h0M954.2 997.8h0M970 982.2h0M978.6 961.2h0M976.2 968h0M948.9 1009.3h0M964.4 983.3h0M938.1 1008.7h0M977.5 947h0M943.2 1014h0M965.9 980.3h0M963.8 989.7h0M978.5 948.3h0M959.4 993.4h0M966.3 987.9h0M976.8 963.7h0M979.8 970.2h0M953.9 1003.8h0M973.6 945.9h0M970.4 980.5h0M955.4 1001.4h0M948 1005h0M952.5 1001.7h0M952.3 1004h0M957.8 996.5h0M963.8 986.5h0M952.4 1007.4h0M979 948.7h0M919 997.6h0M894 1005.9h0M903.4 997.2h0M902.6 986h0M913.2 990h0M878.6 995h0M887 1001.9h0M920.9 987h0M914.7 982.8h0M881.9 986.9h0M897.2 982.6h0M874.7 987.6h0M916 984.4h0M922.7 1003.2h0M905.7 1004.9h0M900 993.4h0M869.7 998.8h0M890.5 989.4h0M883.7 986.9h0M906.6 994.9h0M923.6 985.8h0M914.6 1002.5h0M910.2 980.4h0M871.4 987.8h0M885 993.9h0M906.8 1005.5h0M903.3 999.9h0M881.2 1000.5h0M906.9 1003.2h0M880.3 1003.9h0M908.7 1008.4h0M911.3 989.6h0M880.6 985.6h0M923.9 997.4h0M917.4 983.2h0M909.1 1005.1h0M917.3 997.7h0M869.5 994.2h0M904.5 1001.2h0M877 989.9h0M893.6 1008.1h0M890.2 1005.9h0M908.4 982h0M900.1 982.4h0M883.8 993.5h0M911.6 994.6h0M890.3 1010.4h0M902.9 991.9h0M901.8 989.8h0M903.1 996.3h0M877.1 994.3h0M892.7 1007.9h0M913.5 995.6h0M902.2 986.3h0M904.4 1004.5h0M888.5 981.8h0M920.3 991.7h0M912.1 992.9h0M909.9 982h0M904.9 981.7h0M884.6 999.8h0M892.9 1000.9h0M884.1 982.1h0M907.2 1009.6h0M924.3 988.6h0M904.1 1004.6h0M923.8 987.3h0M911.2 985.6h0M869.4 988.5h0M896.1 1002.4h0M883.9 980.2h0M872.9 997.1h0M902.2 1007.8h0M922.1 994.7h0M883.9 990.9h0M884.6 1000.3h0M914.7 1002.9h0M894 1007.1h0M873.6 990.2h0M908.9 1009.9h0M901.3 1004.5h0M909.7 979.7h0M909.9 987.5h0M879.2 990.9h0M874.1 988.6h0M911.5 1006.5h0M913.4 991h0M926.2 993.8h0M912 992.4h0M869.3 993.2h0M918.3 982.8h0M905.9 985.3h0M896.2 997.6h0M897.8 1006.1h0M911.1 1003.3h0M925.4 989h0M911.4 982.4h0M885.7 1004.3h0M872.4 989h0M876 993.3h0M899 994.4h0M890.6 991.8h0M884 994.6h0M900 1000.7h0M886.6 1006.6h0M913.2 1004.7h0M876.6 995.5h0M900.7 998.6h0M911.8 999.3h0M915.6 1000.6h0M898.7 983.4h0M892.3 995.3h0M890.3 980.3h0M894.7 996.7h0M905.5 988h0M918.6 990.8h0M899.6 1000.8h0M912.1 979.1h0M899.4 981.7h0M909.9 1004.6h0M915.1 998.5h0M910.1 989.1h0M925.9 989.9h0M904 979.1h0M920.8 995.2h0M871.9 997.3h0M895 1010h0M874 1004.5h0M881.8 979.8h0M868.3 995.9h0M931.2 1006.7h0M946.7 996.2h0M923.9 1005.7h0M915.3 1005.2h0M920 1008.8h0M935.6 1009.8h0M931.6 996.7h0M933.9 1009.5h0M925.9 1004h0M935.6 1010.5h0M930 1009.9h0M921.7 1007.7h0M928.3 996.9h0M937.8 1005.9h0M925.2 1001.6h0M928 994.3h0M936.5 999.9h0M948.2 1000.8h0M918.9 1005.3h0M942.7 1000.3h0M915.6 1004h0M935.9 995.6h0M948 998.4h0M934.7 1007.8h0M917.7 1002.9h0M927.6 1005.3h0M948.7 1002.3h0M939.8 1005.3h0M930.1 1007.2h0M932.1 993h0M920.4 997.3h0M931.1 1003.7h0M924.4 1006.7h0M942.8 1001.1h0M926.4 995.9h0M945.3 995.1h0M914.8 1004.2h0M940.8 1004.8h0M933.3 1002.3h0M925.2 1007.9h0M875.7 945.5h0M887.9 945.5h0M910.1 943.5h0M914.2 943.5h0M906.1 959.6h0M908.1 962.7h0M859.5 966.7h0M871.7 964.7h0M859.5 937.4h0" fill="none" stroke="#440154" stroke-width="5.3" stroke-linecap="round"/>
<g font-family='"DejaVu Sans", sans-serif' font-size="9.8" text-anchor="middle" fill="#2a2a2a">
<text x="1039.5" y="998.5">−1.00</text>
<text x="1039.9" y="985.5">−0.75</text>
<text x="1040.3" y="972.5">−0.50</text>
<text x="1040.7" y="959.4">−0.25</text>
<text x="1041" y="946.4">0.00</text>
<text x="1041.4" y="933.4">0.25</text>
<text x="1041.8" y="920.3">0.50</text>
<text x="1042.2" y="907.3">0.75</text>
<text x="1042.6" y="894.3">1.00</text>
<text x="770.5" y="1063.3">−1.00</text>
<text x="788.6" y="1069.1">−0.75</text>
<text x="806.6" y="1074.8">−0.50</text>
<text x="824.7" y="1080.6">−0.25</text>
<text x="842.8" y="1086.4">0.00</text>
<text x="860.8" y="1092.2">0.25</text>
<text x="878.9" y="1098">0.50</text>
<text x="896.9" y="1103.7">0.75</text>
<text x="915" y="1109.5">1.00</text>
<text x="951.6" y="1104.5">−1.00</text>
<text x="961.9" y="1093.9">−0.75</text>
<text x="972.1" y="1083.3">−0.50</text>
<text x="982.4" y="1072.7">−0.25</text>
<text x="992.7" y="1062.1">0.00</text>
<text x="1003" y="1051.5">0.25</text>
<text x="1013.2" y="1040.9">0.50</text>
<text x="1023.5" y="1030.3">0.75</text>
</g>
<path d="M111.8 1388.6L205.1 1307.8L203.1 1189.9L103.6 1267.5Z" fill="#fcfcfc"/>
<path d="M205.1 1307.8L360.7 1352.1L368.4 1232.4L203.1 1189.9Z" fill="#f9f9f9"/>
<path d="M111.8 1388.6L274.6 1439.3L360.7 1352.1L205.1 1307.8Z" fill="#fafafa"/>
<path d="M121.4 1391.6L214.3 1310.4L212.9 1192.4M138.7 1397L230.9 1315.1L230.5 1196.9M156.2 1402.5L247.6 1319.9L248.2 1201.5M173.8 1407.9L264.5 1324.7L266.1 1206.1M191.6 1413.5L281.5 1329.6L284.2 1210.7M209.5 1419L298.6 1334.4L302.4 1215.4M227.6 1424.7L315.9 1339.3L320.7 1220.1M245.8 1430.3L333.3 1344.3L339.2 1224.9M264.2 1436L350.8 1349.3L357.9 1229.7M280.2 1433.6L117.9 1383.4L110.1 1262.4M290.1 1423.5L128.6 1374L121.6 1253.4M299.9 1413.6L139.2 1364.9L132.9 1244.6M309.6 1403.8L149.7 1355.8L144.1 1235.9M319.1 1394.2L160 1346.9L155.1 1227.3M328.4 1384.7L170.1 1338.1L165.9 1218.9M337.7 1375.4L180.1 1329.4L176.5 1210.6M346.8 1366.2L190 1320.9L187 1202.4M355.7 1357.1L199.7 1312.5L197.4 1194.3M111.3 1381.6L205 1300.9L361.1 1345.2M110.4 1369L204.8 1288.6L361.9 1332.7M109.6 1356.1L204.6 1276.1L362.8 1320M108.7 1343.1L204.4 1263.4L363.6 1307.1M107.8 1330L204.1 1250.6L364.4 1294.1M106.9 1316.6L203.9 1237.6L365.3 1280.9M106 1303L203.7 1224.4L366.1 1267.5M105.1 1289.3L203.5 1211L367 1253.9M104.1 1275.4L203.2 1197.5L367.9 1240.1" fill="none" stroke="#c2c2c6" stroke-width="1.1"/>
<path d="M103.6 1267.5L203.1 1189.9L368.4 1232.4M205.1 1307.8L203.1 1189.9M111.8 1388.6L103.6 1267.5L103.6 1267.5" fill="none" stroke="#e3e3e3" stroke-width="0.8"/>
<path d="M111.8 1388.6L274.6 1439.3L360.7 1352.1L368.4 1232.4M121.4 1391.6L117.9 1394.7M138.7 1397L135.3 1400.1M156.2 1402.5L152.8 1405.5M173.8 1407.9L170.4 1411.1M191.6 1413.5L188.2 1416.6M209.5 1419L206.2 1422.2M227.6 1424.7L224.3 1427.9M245.8 1430.3L242.5 1433.6M264.2 1436L260.9 1439.3M280.2 1433.6L286.1 1435.4M290.1 1423.5L296 1425.3M299.9 1413.6L305.8 1415.4M309.6 1403.8L315.4 1405.6M319.1 1394.2L324.9 1395.9M328.4 1384.7L334.2 1386.4M337.7 1375.4L343.4 1377.1M346.8 1366.2L352.5 1367.9M355.7 1357.1L361.4 1358.8M361.1 1345.2L364.4 1341.9M361.9 1332.7L365.2 1329.4M362.8 1320L366 1316.7M363.6 1307.1L366.9 1303.9M364.4 1294.1L367.7 1290.9M365.3 1280.9L368.6 1277.7M366.1 1267.5L369.5 1264.3M367 1253.9L370.4 1250.8M367.9 1240.1L371.3 1237" fill="none" stroke="#3a3a3a" stroke-width="0.9"/>
<path d="M173.6 1266.5h0M179 1263.1h0M226.1 1245.4h0M185.2 1261.1h0M176.9 1266.1h0M223.5 1248.9h0M193.6 1258.1h0M243.2 1249.8h0M198.7 1251.5h0M212.8 1249.4h0M209.3 1247.5h0M166.2 1275.7h0M184.2 1255.6h0M227.8 1247.8h0M196.7 1256.4h0M178.4 1259.3h0M192 1254.9h0M238.7 1250.5h0M177.4 1268.2h0M223.3 1246.6h0M173.8 1269.4h0M215.3 1249.9h0M217.7 1249.4h0M216.7 1248.4h0M222.5 1248.9h0M239.6 1244.6h0M194.5 1254h0M181.2 1261.2h0M177.7 1260.6h0M179.4 1266.3h0M204.9 1255h0M168.4 1269.7h0M165.3 1274.6h0M175.4 1272.7h0M179.1 1264.9h0M170.3 1276.1h0M212.5 1247.1h0M208.3 1247.2h0M238.7 1249.3h0M182.8 1261.9h0M210.9 1249.2h0M212.9 1244.4h0M188.7 1264.3h0M167.2 1272.7h0M219 1244.4h0M230.7 1245.2h0M182.8 1258.8h0M179.8 1265h0M181.8 1258.7h0M223.8 1245.8h0M195.8 1257.2h0M170.5 1273.5h0M173.6 1270.8h0M191 1258.7h0M190.3 1261.6h0M169.1 1273.8h0M218.7 1245.5h0M170.7 1266.2h0M203.4 1254h0M188.9 1253.2h0M217.8 1247.7h0M229.3 1244.6h0M198.4 1256.8h0M192.9 1260.8h0M235 1250.2h0M201 1247.7h0M238.2 1247.1h0M164.8 1275.5h0M186.5 1259.8h0M241.7 1245.2h0M213.6 1248.1h0M171.1 1274.3h0M177.2 1265.3h0M204.1 1248.1h0M224 1249.1h0M193.8 1256.5h0M222 1247.3h0M180.4 1257.4h0M212.1 1255.5h0M220.9 1245.9h0M268.2 1257h0M196.7 1277.6h0M187.8 1291.6h0M197.7 1278.8h0M188.2 1276.8h0M189.8 1289.1h0M187.4 1289.2h0M196.5 1279.6h0M186.9 1270.2h0M192.1 1285.5h0M195.3 1306.4h0M191.3 1296.2h0M185.2 1272h0" fill="none" stroke="#fde725" stroke-width="4.1" stroke-linecap="round"/>
<path d="M184.4 1320.7h0M173.6 1293.9h0M177.5 1307.6h0M187.5 1322.6h0M191.7 1303.5h0M162.1 1300.3h0M188.8 1306.5h0M173.3 1307.4h0M189 1333h0M175.7 1298.4h0M178.7 1292h0M174.7 1320.3h0M175.9 1308.6h0M158.8 1320.1h0M165.6 1325h0M178 1314.4h0M186.7 1319.4h0M180.9 1322.5h0M171.5 1307.7h0M158.3 1307.2h0M180.5 1342h0M166.7 1311.5h0M191.4 1320.9h0M166.6 1317.9h0M185.8 1303.8h0M272.3 1267.1h0M295.5 1265.1h0M252 1299.5h0M243.9 1309.6h0M258.1 1311.7h0M213.6 1309.6h0" fill="none" stroke="#440154" stroke-width="5.3" stroke-linecap="round" stroke-opacity="0.45"/>
<path d="M227.1 1324.4h0M217.8 1338.7h0M239.6 1322.4h0M202.6 1321.2h0M260.7 1328h0M257.6 1327.9h0M256.8 1338.8h0M278.3 1332.6h0M268.8 1330h0M258.1 1330.3h0M246.8 1337.4h0M259 1332.1h0M278.1 1334.4h0M234.9 1324.9h0M203.5 1331.4h0M234.1 1335.1h0M212.8 1322.3h0M245.6 1327.1h0M232.9 1333.3h0M221.9 1322.9h0M247.2 1338.9h0M267.5 1330.9h0M233.6 1321.4h0M189.3 1332.9h0M276.1 1327.3h0M277.9 1332h0M235.2 1340.9h0M265.4 1328.9h0M194.4 1326.2h0M263.9 1338.9h0M235 1323.6h0M258.7 1335.2h0M241.7 1318.8h0M207 1335.2h0M209.5 1335.8h0M235.4 1328.7h0M263.8 1325.7h0M209.7 1335.8h0M231.8 1337h0M219.9 1324.8h0M279.3 1285.7h0M278.9 1284.5h0M290.7 1282.1h0M294.9 1286h0M281 1289.8h0M296.1 1287.5h0M286.7 1274.7h0M298.3 1283.2h0M285.2 1282.1h0M279.5 1289.4h0M282.3 1289.6h0M294.2 1291.2h0M290.8 1291.2h0M281.8 1293.7h0M292.5 1279.8h0M282.8 1285.4h0M293.9 1289.8h0M287.9 1276.3h0M294.2 1280.3h0M293.4 1281.7h0M280.6 1292.6h0M291.9 1276.4h0M288.4 1276.4h0M296.5 1280.9h0M286.1 1291h0M291.4 1292h0M292.1 1295.7h0M293 1285.3h0M287.6 1285.3h0M295 1293.8h0" fill="none" stroke="#440154" stroke-width="5.3" stroke-linecap="round" stroke-opacity="0.5"/>
<path d="M217.8 1358.2h0M233.8 1360.6h0M261.5 1351.9h0M243.6 1334.5h0M256.4 1351.7h0M220.8 1333.9h0M213 1355.9h0M272 1335.1h0M296.5 1343.5h0M214.6 1336.2h0M209.9 1356.9h0M231.8 1331.6h0M221.6 1333.3h0M282.6 1345.3h0M290.2 1347h0M252.4 1350h0M283 1348.5h0M222.9 1358.7h0M192.5 1351.2h0M208.1 1344.6h0M237.7 1356.3h0M201.3 1356.9h0M208.5 1351.3h0M236 1347h0M290.2 1344.7h0M185.9 1351.3h0M274.7 1337.9h0M249.5 1360.7h0M288.6 1350.5h0M227.1 1346.7h0M239.5 1333.7h0M222.9 1332.9h0M231 1354h0M283.2 1339.7h0M221 1336.4h0M242.1 1344.5h0M280.5 1354h0M245.9 1359.7h0M235.1 1360.3h0M241 1357.8h0M266.5 1348.8h0M208.3 1337.8h0M196.7 1345.8h0M204.6 1346.3h0M205.9 1356.5h0M276.6 1358.2h0M296.6 1347.5h0M229.1 1349.4h0M254 1334.5h0M232.4 1350.4h0M238.4 1353h0M235.7 1345h0M222.4 1340h0M249 1339.6h0M278.8 1345.3h0M210.4 1334.3h0M288 1340.6h0M264.8 1357.6h0M253.6 1344.4h0M295.8 1347.3h0M288 1347.8h0M292.9 1350.4h0M255.7 1336h0M285.4 1352.2h0M239.2 1362.5h0M266.2 1362.1h0M260.1 1360.3h0M273.1 1350.9h0M226 1342h0M239.5 1338.6h0M242.8 1362.7h0M229.9 1334.7h0M297.9 1350.1h0M215.5 1356.5h0M286 1347.2h0M253.7 1360.3h0M284.8 1347h0M255.7 1359.6h0M280.5 1338h0M230 1344.8h0M231.8 1359.5h0M205.9 1355.5h0M229.1 1359.4h0M248 1342.7h0M235.3 1358.9h0M197.7 1339.5h0M207.6 1339.6h0M237.3 1332.7h0M224 1363.2h0M241.9 1336.1h0M263.5 1360.7h0M244.1 1363h0M195.1 1342.9h0M211.7 1336.6h0M207.3 1357.3h0M242.1 1355.4h0M229 1357.7h0M270 1360h0M277.3 1350.9h0M220.9 1342.9h0M235.2 1354.3h0M242.7 1362.9h0M249.7 1360.2h0M237.8 1339.8h0M273.1 1337.7h0M233.1 1334.4h0M250.4 1355h0M296.1 1348.7h0M286.6 1358.1h0M235.5 1341.2h0" fill="none" stroke="#440154" stroke-width="5.3" stroke-linecap="round" stroke-opacity="0.8"/>
<path d="M226.1 1368.3h0M258.5 1363.9h0M251.6 1361.3h0M233 1362.1h0M268.6 1374.1h0M238.3 1369.2h0M258.8 1356.5h0M245 1368.6h0M222.2 1364h0M283.7 1356.3h0M231.1 1361.5h0M277.3 1358h0M276.6 1351.3h0M217 1361.9h0M243.4 1366.8h0M259.4 1361.5h0M251.3 1359.5h0M235.1 1350.4h0M278.9 1371.8h0M263.3 1369h0M273.8 1373.3h0M230.2 1354.9h0M286.9 1367.1h0M266.6 1369.8h0M283.7 1368.2h0M273.2 1350.9h0M250.6 1372h0M255.6 1376.8h0M287.1 1359.2h0M249.3 1371.5h0M250.7 1348.5h0M257.6 1371h0M231.8 1356.2h0M237.8 1357.6h0M221.4 1355.9h0M272.8 1353.6h0M283.2 1358.9h0M243.7 1351.1h0M233.4 1357.8h0M240.2 1369.8h0M264.4 1359.1h0M266.9 1359.8h0M228.2 1369.3h0M285.2 1362.9h0M280.9 1362.8h0M223.1 1355.7h0M224.7 1353.3h0M280.3 1362.7h0M267.2 1359.5h0M225.1 1362.8h0M256.5 1347.5h0M279.3 1356.4h0M266.9 1375.2h0M251.7 1353.3h0M247 1367.1h0M248 1359.8h0M244 1363.8h0M246.2 1369.2h0M262.8 1361h0M256.2 1368.3h0M248 1355.6h0M257.6 1375.1h0M220.2 1362h0M247.9 1374.9h0M252.2 1370.6h0M259.4 1359.9h0M218.7 1368.4h0M270.1 1372.1h0M283.1 1369.9h0M255.7 1356h0M251.3 1361.2h0M231.2 1353.1h0M278.5 1372.5h0M238.6 1375.3h0M256.3 1360.5h0M243.4 1357.3h0M244.3 1358.9h0M275.2 1374.4h0M260.3 1374.9h0M268.2 1361.9h0M223.3 1352.3h0M248.9 1365.6h0M282.8 1358.7h0M236.1 1373h0M252.8 1352.8h0M274.3 1371.7h0M264 1353.5h0M223.6 1352.5h0M247.6 1358.9h0M277.3 1360.5h0M252.9 1362.7h0M264.8 1375.1h0M265.7 1367.5h0M231.2 1359.4h0M236.8 1372.8h0M258.7 1370.9h0M265.4 1366.7h0M283.4 1370.2h0M234.5 1360.8h0M243.8 1370.9h0M258.1 1363.8h0M262.9 1358.3h0M286.8 1364.2h0M234.2 1355.1h0M255.3 1354.7h0M220.4 1368.8h0M228.4 1363.3h0M285.6 1361.5h0M265.7 1372h0M260.9 1364.6h0M248.1 1367.6h0M232.5 1361.9h0M274.2 1353.8h0M240.5 1350.2h0M277.8 1362.7h0M261.5 1375.8h0M241.1 1372.6h0M260.2 1367.1h0M249.3 1373.9h0M263.3 1366.9h0M276.2 1371.8h0M274 1371.8h0M224.5 1355.4h0M260.3 1372.1h0M237.1 1363.8h0M222.3 1366.5h0M277.9 1360.1h0M221.2 1359.9h0M265 1359.1h0M244.1 1370.7h0M217.8 1356.1h0M255 1369.5h0M270.3 1372.5h0M276.1 1369.9h0M215.6 1361.3h0M242.2 1358.6h0M265.5 1375.6h0M218.9 1356.8h0M242.7 1361.9h0M256.4 1367.5h0M234.5 1375.7h0M232.3 1374.9h0M250.2 1347.7h0M268.3 1353h0M243.8 1370.2h0M236.3 1362.5h0M228.8 1358.1h0M270.4 1358.1h0M245.7 1352.5h0M249.7 1372.8h0M281.7 1357.5h0M263.6 1356.4h0M246.5 1372.7h0M286.6 1360.4h0M246 1364.1h0M269.5 1351.9h0M250.2 1356.9h0M260.6 1353.5h0M228.8 1369.7h0M236.7 1364.7h0M246.2 1357.8h0M249 1351.8h0M285.1 1363.1h0M227.8 1360.2h0M260.2 1376.9h0M241.8 1357.3h0M214.5 1363.2h0M249.4 1373.4h0M253.5 1356.5h0M243.8 1348.9h0M244.3 1368.8h0M221 1358.6h0M281.3 1368.2h0M244.4 1347.9h0M219.3 1357.5h0M243.5 1369.8h0M230.2 1352.3h0M247.5 1374.5h0M241.7 1356.1h0M269.1 1374.4h0M275.9 1371.3h0M230 1366h0M222.7 1369.7h0M272.1 1353.5h0M233.5 1359h0M282.6 1363.7h0M255.3 1370.6h0M231.9 1357.4h0M236.1 1376h0M223.5 1356.8h0M281 1360.5h0M223.4 1361.8h0M272.1 1366.1h0M245.1 1367.9h0M262.2 1361.3h0M259.1 1356.6h0M260.8 1356.4h0M238.9 1362.8h0M278.4 1369.6h0M232.8 1350.4h0M217.8 1352.1h0M223.2 1353.5h0M227 1366.7h0M212.4 1344.6h0M225.9 1349.8h0M206.4 1340.4h0M233.8 1352.4h0M238.1 1358.4h0M200.2 1348.5h0M280.3 1366.5h0M300.3 1357.1h0M204.5 1340.4h0M241.7 1361.1h0M300.4 1347.7h0M284.3 1360.2h0M248.8 1359.7h0M253.2 1365.6h0M280.2 1367.2h0M242.3 1370.9h0M298.3 1348h0M268 1375.1h0M271.4 1365.9h0M215.5 1359.6h0M230.4 1357.6h0M272.4 1370.2h0M266.5 1372.6h0M270.7 1368.4h0M294.9 1362.3h0M259.9 1379.4h0M298.6 1344.2h0M276.6 1376.5h0M270.6 1374.3h0M267.3 1365.4h0M275.5 1364.6h0M298.1 1353.7h0M283.8 1363.6h0M227.6 1347.1h0M223.2 1361h0M290.5 1360.9h0M294.2 1359.8h0M208.3 1342.8h0M245.8 1361.4h0M223.7 1350.9h0M254.1 1369.2h0M272 1361.2h0M253.5 1368.5h0M237.9 1362.3h0M226.3 1367.1h0M292.8 1363.8h0M283.1 1367.5h0M200.9 1344.4h0M260.2 1378.1h0M233.9 1356.8h0M202.2 1345h0M248.1 1375.6h0M287.8 1370.4h0M225.2 1351.9h0M235 1354.9h0M264.7 1377.8h0M233.9 1357.7h0M254.5 1368h0M287.8 1361.1h0M238 1365.7h0M231.3 1351.7h0M291.4 1362.5h0M235.2 1348.8h0M212.8 1353.8h0M281.7 1353.1h0M292.8 1359.8h0M249.6 1373.9h0M223.2 1349.9h0M219.2 1356.5h0M298.1 1353.4h0M213 1344.3h0M230.5 1353.4h0M289.1 1367.6h0M243.3 1350.9h0M236.8 1347.2h0M206.7 1353.3h0M282.2 1357.2h0M322.6 1306.1h0M319.8 1304.5h0M317.7 1293.2h0M318.2 1294.7h0M320.7 1305.8h0M315.5 1292.9h0M313.6 1289.3h0M313.7 1288.5h0M315.6 1291.2h0M320.9 1303.4h0M319.7 1300.8h0M317.3 1293.8h0M316.2 1292.9h0M320.1 1305h0M319.9 1304.9h0M319.7 1304.2h0M318.5 1318.7h0M319.9 1309h0M319.6 1300h0M320.4 1310.8h0M319.4 1297.7h0M320.9 1312.2h0M319.6 1313.2h0M317.7 1297.4h0M319.4 1299.4h0M318.2 1301.2h0M318.8 1299.2h0M315.5 1290.7h0M320.6 1316.7h0M318.5 1298.1h0M321.6 1305.5h0M320.7 1312.3h0M320 1314.9h0M317.5 1303.9h0M317.2 1316.1h0M314.3 1287.3h0M318.5 1300h0M319.7 1311.3h0M315.8 1291.6h0M319.6 1308.3h0M318.4 1317.5h0M314.9 1320.4h0M307.3 1335h0M307 1353.6h0M304.4 1340.7h0M322.2 1317.8h0M300.5 1351.7h0M316.5 1325.3h0M301.4 1343.3h0M319 1324.6h0M323.5 1324.1h0M294.9 1348.6h0M314.8 1334.1h0M306.4 1339.1h0M304.5 1343.8h0M316.4 1322.9h0M319.1 1328.4h0M307.4 1347.1h0M309 1336.2h0M316.3 1329.7h0M310.5 1339h0M308.1 1331h0M310.5 1332.2h0M300 1343.8h0M300.7 1344.9h0M312.1 1331.7h0M315.8 1330.1h0M297.9 1347.4h0M313.2 1333h0M305 1345h0" fill="none" stroke="#440154" stroke-width="5.3" stroke-linecap="round"/>
<g font-family='"DejaVu Sans", sans-serif' font-size="9.8" text-anchor="middle" fill="#2a2a2a">
<text x="383.4" y="1349.5">−1.00</text>
<text x="383.8" y="1336.3">−0.75</text>
<text x="384.2" y="1323.2">−0.50</text>
<text x="384.6" y="1310">−0.25</text>
<text x="384.9" y="1296.9">0.00</text>
<text x="385.3" y="1283.8">0.25</text>
<text x="385.7" y="1270.6">0.50</text>
<text x="386.1" y="1257.5">0.75</text>
<text x="386.5" y="1244.3">1.00</text>
<text x="113.4" y="1416.4">−1.00</text>
<text x="131.2" y="1422.5">−0.75</text>
<text x="149.1" y="1428.5">−0.50</text>
<text x="166.9" y="1434.6">−0.25</text>
<text x="184.7" y="1440.7">0.00</text>
<text x="202.5" y="1446.7">0.25</text>
<text x="220.3" y="1452.8">0.50</text>
<text x="238.2" y="1458.8">0.75</text>
<text x="256" y="1464.9">1.00</text>
<text x="292.5" y="1460.9">−1.00</text>
<text x="302.1" y="1450.7">−0.75</text>
<text x="311.7" y="1440.4">−0.50</text>
<text x="321.3" y="1430.2">−0.25</text>
<text x="330.9" y="1419.9">0.00</text>
<text x="340.6" y="1409.7">0.25</text>
<text x="350.2" y="1399.4">0.50</text>
<text x="359.8" y="1389.2">0.75</text>
<text x="369.4" y="1378.9">1.00</text>
</g>
<path d="M466 1384.8L558.3 1305.2L556.4 1187.4L458 1263.7Z" fill="#fcfcfc"/>
<path d="M558.3 1305.2L711.5 1349.1L719 1229.3L556.4 1187.4Z" fill="#f9f9f9"/>
<path d="M466 1384.8L626.3 1435L711.5 1349.1L558.3 1305.2Z" fill="#fafafa"/>
<path d="M475.5 1387.8L567.4 1307.8L566 1189.9M492.6 1393.1L583.7 1312.5L583.3 1194.4M509.8 1398.5L600.2 1317.2L600.8 1198.9M527.1 1403.9L616.8 1321.9L618.4 1203.4M544.6 1409.4L633.5 1326.7L636.1 1208M562.3 1414.9L650.3 1331.6L654 1212.6M580.1 1420.5L667.3 1336.4L672.1 1217.2M598 1426.1L684.5 1341.3L690.3 1221.9M616.1 1431.8L701.8 1346.3L708.7 1226.7M631.9 1429.3L472.1 1379.6L464.5 1258.7M641.7 1419.4L482.7 1370.5L475.9 1249.9M651.4 1409.6L493.2 1361.4L487 1241.2M661 1400L503.5 1352.5L498.1 1232.6M670.4 1390.5L513.7 1343.7L508.9 1224.2M679.6 1381.2L523.7 1335.1L519.6 1215.9M688.7 1372L533.6 1326.5L530.1 1207.8M697.7 1362.9L543.3 1318.1L540.5 1199.7M706.6 1354L553 1309.8L550.7 1191.8M465.6 1377.8L558.2 1298.4L711.9 1342.1M464.7 1365.2L558 1286L712.7 1329.6M463.9 1352.3L557.8 1273.5L713.5 1316.9M463 1339.3L557.6 1260.8L714.3 1304M462.2 1326.1L557.4 1248L715.1 1291M461.3 1312.8L557.1 1235L716 1277.8M460.4 1299.2L556.9 1221.9L716.8 1264.4M459.5 1285.5L556.7 1208.6L717.7 1250.9M458.6 1271.6L556.5 1195.1L718.5 1237.1" fill="none" stroke="#c2c2c6" stroke-width="1.1"/>
<path d="M458 1263.7L556.4 1187.4L719 1229.3M558.3 1305.2L556.4 1187.4M466 1384.8L458 1263.7L458 1263.7" fill="none" stroke="#e3e3e3" stroke-width="0.8"/>
<path d="M466 1384.8L626.3 1435L711.5 1349.1L719 1229.3M475.5 1387.8L472.1 1390.8M492.6 1393.1L489.2 1396.2M509.8 1398.5L506.4 1401.6M527.1 1403.9L523.8 1407M544.6 1409.4L541.3 1412.5M562.3 1414.9L559 1418.1M580.1 1420.5L576.8 1423.6M598 1426.1L594.8 1429.3M616.1 1431.8L612.9 1435M631.9 1429.3L637.7 1431.1M641.7 1419.4L647.5 1421.2M651.4 1409.6L657.2 1411.4M661 1400L666.7 1401.8M670.4 1390.5L676.1 1392.3M679.6 1381.2L685.3 1382.9M688.7 1372L694.4 1373.7M697.7 1362.9L703.3 1364.6M706.6 1354L712.2 1355.6M711.9 1342.1L715.1 1338.9M712.7 1329.6L715.9 1326.4M713.5 1316.9L716.7 1313.7M714.3 1304L717.6 1300.9M715.1 1291L718.4 1287.9M716 1277.8L719.3 1274.7M716.8 1264.4L720.1 1261.3M717.7 1250.9L721 1247.8M718.5 1237.1L721.9 1234" fill="none" stroke="#3a3a3a" stroke-width="0.9"/>
<path d="M616.9 1368.7h0M635.2 1364.9h0M657 1330.9h0M616.9 1363h0M647.2 1354.7h0M613.1 1359.3h0M630.4 1361.9h0M612.2 1361.2h0M642.4 1356.9h0M664.6 1335.7h0M645.6 1347.6h0M629.7 1358.2h0M638.2 1366.7h0M615 1361.3h0M651.4 1355.9h0M649.2 1357.2h0M659.8 1337.4h0M653.2 1343.8h0M648.4 1346.2h0M636.4 1358.5h0M647.4 1354h0M622.2 1361.1h0M621.4 1362.3h0M619.5 1362.6h0M635.1 1363h0M659.3 1330.2h0M646 1352.4h0M627.4 1362.1h0M635.2 1362.8h0M649.7 1349.1h0M661.1 1340.1h0M646.8 1359.4h0M651 1354h0M652.4 1351.2h0M659.2 1338.9h0M654.9 1337.5h0M657.2 1350h0M644 1353.4h0M647.3 1351.5h0M623.9 1365.1h0M650.2 1341.9h0M665 1332.4h0M648.1 1352.9h0M622.9 1364.1h0M617 1368.2h0M650.7 1352h0M659.8 1336.4h0M621.4 1360.1h0M652.1 1344.6h0M616.6 1367.8h0M659.9 1328.2h0M618 1363.8h0M642.8 1360.5h0M652.9 1350h0M662 1342.3h0M646.1 1360.3h0M630.5 1360.1h0M630 1366.9h0M618.8 1367.3h0M659.9 1343.5h0M634.1 1348.7h0M637.1 1350.8h0M621.5 1352.1h0M621.7 1353.4h0M623.4 1353.2h0M626.6 1350.2h0M639.2 1349h0M630.9 1349.6h0M636.2 1347h0M626.3 1353.2h0" fill="none" stroke="#fde725" stroke-width="4.1" stroke-linecap="round"/>
<path d="M543.7 1278.9h0M554.2 1286.1h0M560.8 1282.5h0M547 1273.6h0M540.6 1273.7h0M553.4 1274.8h0M542.8 1275.7h0M544.7 1285.1h0M557.5 1288.6h0M549.2 1283.3h0M540 1278.7h0M561.1 1284.9h0M563.2 1276.9h0M558.3 1283.4h0M541.1 1286.3h0M554.5 1273.7h0M557.9 1288.7h0M562.7 1283.5h0M539.6 1279.5h0M550.2 1286.7h0M541.9 1277.1h0M560 1284.6h0M544.5 1274.5h0M534.9 1277.9h0M559.5 1280.5h0M593.3 1316.5h0M593.3 1313.9h0M583.3 1301.9h0M589.1 1311.7h0M592.6 1318.8h0M587.6 1304.3h0M580.4 1306.6h0M593.3 1318.6h0M580.1 1300.5h0M576.9 1296.9h0M606.2 1325.8h0M551.5 1346.1h0M563.7 1348.1h0M577.9 1349.1h0M535.4 1331.9h0M545.5 1332.9h0M555.6 1346.1h0" fill="none" stroke="#440154" stroke-width="5.3" stroke-linecap="round" stroke-opacity="0.4"/>
<path d="M598.6 1247.2h0M618 1245.4h0M593.9 1247.1h0M586.4 1245.2h0M607.6 1243.4h0M608.5 1250.5h0M601.8 1248.6h0M619.6 1247.5h0M609.3 1242.7h0M608.2 1245h0M625.6 1247.1h0M607.9 1245.3h0M597.6 1251.2h0M618.1 1248.1h0M613.3 1247.8h0M612.7 1246.9h0M604.6 1247.9h0M619.9 1247.3h0M625.7 1244.9h0M622.1 1247.5h0M616.2 1245.3h0M608.4 1243.7h0M595.8 1248.1h0M592.5 1249.6h0M597.4 1242.9h0M616.2 1241.2h0M616.7 1248h0M592.6 1242.9h0M609.5 1247.3h0M609.7 1244.6h0M609.3 1242.6h0M613.1 1240.7h0M588.7 1243.8h0M607.2 1249.1h0M614.7 1247h0M592 1247.1h0M593.7 1242.6h0M590.8 1249.2h0M601.8 1240.9h0M601.6 1244.3h0M616.5 1245h0M590.3 1242.5h0M614.9 1249.4h0M590.1 1244.2h0M612.2 1242.1h0M597.2 1250.7h0M603 1246h0M624 1247.8h0M619.8 1247.6h0M595.8 1242.2h0M615.1 1245.6h0M595.5 1243.9h0M589.2 1243.3h0M620.5 1244.7h0M622.6 1242.6h0M605.6 1240.8h0M622.7 1248.5h0M611.1 1248h0M602.6 1248.1h0M601.1 1251.6h0M618.3 1265.7h0M617.6 1264.7h0M619.8 1263.8h0M606.6 1256h0M606.6 1265.8h0M603.3 1265.1h0M615.8 1263.8h0M615.4 1261.7h0M618.4 1261.3h0M613.5 1269.2h0M615.7 1264h0M611.2 1260.7h0M616.9 1258.4h0M603.9 1258.8h0M610.1 1262h0M609.6 1256.5h0M615.3 1260.7h0M612.8 1260.4h0M605.9 1261.6h0M608.5 1269.2h0M622.4 1261.1h0M628.5 1263.1h0M634.5 1270.2h0M608.2 1275.2h0M644.6 1286.4h0M648.7 1284.3h0M652.7 1286.4h0M647.7 1286.4h0M630.5 1295.5h0M615.3 1347.1h0M616.3 1361.2h0M577.9 1336h0M588 1324.8h0M515.5 1285.4h0M532.5 1264.6h0M517.2 1275.1h0M531.6 1275.3h0M510.3 1293.6h0M515 1295.1h0M533.8 1268.2h0M533.6 1258.1h0M537.8 1261.3h0M516.6 1299.6h0M516.1 1285h0M507.1 1279.8h0M540 1262.8h0M505.5 1291.7h0M513 1281.5h0M532.6 1274.9h0M532.4 1280.9h0M515.3 1291.4h0M508.3 1292.1h0M521.3 1287h0M518.5 1295.7h0M537.2 1262.1h0M528 1276.9h0M510.4 1294.9h0M526.9 1260.7h0M528.1 1260.5h0M512.6 1293h0M518.7 1291h0M510.8 1295.5h0M530.4 1271.8h0M505.6 1296.1h0M523.8 1271h0M510.7 1289.9h0M528.4 1267.2h0M511 1291.3h0M510.7 1298.3h0M528.9 1266.4h0M511 1291.7h0M517.7 1280.2h0M515.9 1282.5h0M527.5 1272.1h0M509.3 1288.3h0M533.8 1268.7h0M524.9 1275.6h0M531.6 1265h0M516.4 1272.5h0M512.7 1282.9h0M528.9 1265.7h0M517.5 1283.9h0M523.7 1271.6h0M523.4 1285.8h0M514.6 1290h0M518.3 1282.6h0M510.8 1292.9h0M522.2 1272.9h0M524.5 1284.9h0M522.5 1272.4h0M535.1 1259.7h0M526.3 1268.7h0M514.2 1282.4h0M527 1278.5h0M520.5 1274.3h0M512.6 1280h0M511.6 1287.6h0M535.1 1269.1h0M516.7 1279.2h0M517.7 1292.6h0M534 1263.2h0M534.8 1257.5h0M520.1 1273.1h0M518.5 1328.5h0M517.8 1321.5h0M523.1 1321.7h0M520.2 1327.3h0M520.8 1319.6h0M517.3 1320.8h0M520.8 1315.2h0M513 1327h0M523.5 1328.6h0M518.5 1318.8h0M520.6 1321h0M518 1317.3h0M516.5 1323.2h0M516 1314.3h0M522.4 1325.9h0M518.2 1319.7h0M513.8 1321.6h0M511.2 1321h0M520.2 1331.3h0M519.4 1316.2h0M511.9 1316h0M516.2 1323.6h0M516.6 1323.3h0M514.9 1320.3h0M515.5 1315.4h0M519.1 1328.6h0M519 1333.1h0M517.1 1330.2h0M522.6 1330.5h0M519.7 1314.2h0M522.4 1318h0M515.7 1321.1h0M515.1 1314.5h0M523.3 1320.8h0M516.9 1321.4h0M523.3 1327.2h0M512.8 1325.6h0M521.9 1326.1h0M522.1 1323.6h0M512.9 1332h0M515.6 1319.8h0M513.7 1317.1h0M508.8 1313.7h0M510.5 1320.2h0M510.6 1306.3h0M518.5 1318h0M512.5 1317.3h0M507.6 1308.7h0M514.6 1308.7h0M518.6 1322.8h0M509.7 1301.8h0M508.2 1305.2h0M514.4 1305.1h0M518.1 1318.3h0M513.9 1314.6h0M509.8 1317.6h0M509.5 1305.1h0M508.9 1314.7h0M510.5 1299.4h0M515.5 1315.9h0M514.3 1317.3h0M507.3 1316.4h0M514.1 1309.9h0M509.2 1317.6h0M513.1 1318.8h0M564.6 1299.7h0M568.7 1312.4h0M563.9 1303.6h0M528.1 1309.5h0M572.1 1309h0M533.1 1312.3h0M541.6 1300.8h0M569.3 1320.5h0M543.4 1302.9h0M532.4 1307.9h0M564.3 1317.3h0M537.4 1308.9h0M538.6 1305.1h0M573.1 1310.1h0M528.1 1306.7h0M552.2 1317.4h0M552.4 1300.2h0M552.1 1319.9h0M547.7 1304.9h0M530 1310.4h0M555.5 1303h0M541.1 1309.2h0M559.3 1309.5h0M571.5 1304.7h0M547.4 1296.1h0M570.6 1311.7h0M548.6 1316.4h0M572.3 1320.1h0M567 1315.9h0M537.6 1308.8h0M574.7 1302.5h0M558.8 1300.8h0M581.4 1309.7h0M547.7 1299.8h0M551.5 1307.3h0M577.4 1305.5h0M555.5 1308.2h0M571.2 1309.7h0M542.5 1301.6h0M534.9 1300.2h0M542.1 1302.2h0M565.8 1306.7h0M561.1 1303.4h0M535 1300.3h0M527.8 1306.4h0M552.2 1312h0M570.7 1299.7h0M546 1317h0M565.8 1321.8h0M555.7 1298.5h0M557.4 1312.6h0M546.4 1314.2h0M573.4 1313h0M556.1 1317.4h0M571.7 1319.1h0M534.8 1311.6h0M562.4 1320.5h0M532.6 1315.4h0M552.4 1296.8h0M566.8 1314.7h0M549.2 1313.4h0M579.1 1306.5h0M531.5 1309.8h0M570.1 1313.3h0M547.6 1311.6h0M571 1307.1h0M543.4 1317.3h0M561.1 1302.6h0M563.9 1318.8h0M549.6 1296.4h0M549.5 1299.3h0M550.3 1302h0M558.7 1312.9h0M553.9 1309.4h0M548.4 1316h0M578 1304.7h0M552.7 1300.3h0M573.4 1311h0M565.3 1302.8h0M537 1298.3h0M574.4 1316.8h0M527 1305.8h0M562.7 1299.9h0M555.7 1298.6h0M541.6 1312.5h0M551.2 1322.3h0M558.2 1297.3h0M580.8 1306.9h0M579.6 1305.1h0M527.7 1306.4h0" fill="none" stroke="#440154" stroke-width="5.3" stroke-linecap="round"/>
<g font-family='"DejaVu Sans", sans-serif' font-size="9.8" text-anchor="middle" fill="#2a2a2a">
<text x="732.5" y="1348.5">−1.00</text>
<text x="732.9" y="1335.4">−0.75</text>
<text x="733.3" y="1322.3">−0.50</text>
<text x="733.7" y="1309.3">−0.25</text>
<text x="734" y="1296.2">0.00</text>
<text x="734.4" y="1283.1">0.25</text>
<text x="734.8" y="1270.1">0.50</text>
<text x="735.2" y="1257">0.75</text>
<text x="735.6" y="1243.9">1.00</text>
<text x="466.5" y="1412.3">−1.00</text>
<text x="484.2" y="1418.2">−0.75</text>
<text x="501.9" y="1424.2">−0.50</text>
<text x="519.6" y="1430.2">−0.25</text>
<text x="537.4" y="1436.1">0.00</text>
<text x="555.1" y="1442">0.25</text>
<text x="572.8" y="1448">0.50</text>
<text x="590.5" y="1454">0.75</text>
<text x="608.2" y="1459.9">1.00</text>
<text x="643.6" y="1455.8">−1.00</text>
<text x="653.1" y="1445.4">−0.75</text>
<text x="662.6" y="1435.1">−0.50</text>
<text x="672.1" y="1424.7">−0.25</text>
<text x="681.5" y="1414.3">0.00</text>
<text x="691" y="1404">0.25</text>
<text x="700.5" y="1393.6">0.50</text>
<text x="710" y="1383.3">0.75</text>
<text x="719.5" y="1372.9">1.00</text>
</g>
<path d="M791.2 1379.9L881.2 1302.7L879.3 1186.5L783.4 1260.1Z" fill="#fcfcfc"/>
<path d="M881.2 1302.7L1032.2 1344.7L1039.5 1226.4L879.3 1186.5Z" fill="#f9f9f9"/>
<path d="M791.2 1379.9L949.3 1428L1032.2 1344.7L881.2 1302.7Z" fill="#fafafa"/>
<path d="M800.5 1382.8L890.2 1305.2L888.8 1188.8M817.4 1387.9L906.3 1309.7L905.8 1193.1M834.3 1393L922.5 1314.2L923 1197.4M851.4 1398.2L938.8 1318.7L940.3 1201.7M868.7 1403.5L955.3 1323.3L957.8 1206.1M886.1 1408.8L971.9 1327.9L975.5 1210.5M903.7 1414.1L988.7 1332.6L993.2 1214.9M921.4 1419.5L1005.6 1337.3L1011.2 1219.4M939.3 1424.9L1022.6 1342L1029.3 1223.9M954.8 1422.5L797.1 1374.9L789.7 1255.3M964.3 1412.9L807.4 1366L800.8 1246.8M973.8 1403.4L817.7 1357.2L811.7 1238.4M983 1394.1L827.7 1348.5L822.5 1230.1M992.2 1384.9L837.7 1340L833.1 1222M1001.2 1375.9L847.5 1331.6L843.5 1214M1010.1 1366.9L857.1 1323.3L853.7 1206.1M1018.8 1358.1L866.6 1315.2L863.8 1198.3M1027.4 1349.5L876 1307.1L873.8 1190.7M790.7 1373L881.1 1295.9L1032.6 1337.8M789.9 1360.5L880.9 1283.7L1033.4 1325.4M789.1 1347.8L880.7 1271.4L1034.1 1312.9M788.3 1334.9L880.5 1258.9L1034.9 1300.2M787.4 1321.9L880.3 1246.2L1035.7 1287.3M786.6 1308.6L880.1 1233.4L1036.5 1274.3M785.7 1295.2L879.9 1220.4L1037.3 1261.1M784.8 1281.7L879.6 1207.3L1038.2 1247.7M783.9 1267.9L879.4 1194L1039 1234.1" fill="none" stroke="#c2c2c6" stroke-width="1.1"/>
<path d="M783.4 1260.1L879.3 1186.5L1039.5 1226.4M881.2 1302.7L879.3 1186.5M791.2 1379.9L783.4 1260.1L783.4 1260.1" fill="none" stroke="#e3e3e3" stroke-width="0.8"/>
<path d="M791.2 1379.9L949.3 1428L1032.2 1344.7L1039.5 1226.4M800.5 1382.8L797.2 1385.7M817.4 1387.9L814 1390.8M834.3 1393L831 1396M851.4 1398.2L848.2 1401.2M868.7 1403.5L865.5 1406.5M886.1 1408.8L882.9 1411.8M903.7 1414.1L900.5 1417.2M921.4 1419.5L918.2 1422.6M939.3 1424.9L936.1 1428.1M954.8 1422.5L960.5 1424.3M964.3 1412.9L970 1414.6M973.8 1403.4L979.4 1405.1M983 1394.1L988.7 1395.8M992.2 1384.9L997.8 1386.5M1001.2 1375.9L1006.8 1377.5M1010.1 1366.9L1015.6 1368.5M1018.8 1358.1L1024.3 1359.7M1027.4 1349.5L1032.9 1351M1032.6 1337.8L1035.7 1334.7M1033.4 1325.4L1036.5 1322.4M1034.1 1312.9L1037.3 1309.8M1034.9 1300.2L1038.1 1297.1M1035.7 1287.3L1038.9 1284.3M1036.5 1274.3L1039.7 1271.3M1037.3 1261.1L1040.5 1258.1M1038.2 1247.7L1041.4 1244.7M1039 1234.1L1042.2 1231.1" fill="none" stroke="#3a3a3a" stroke-width="0.9"/>
<path d="M831.6 1305.6h0M866.6 1256.6h0M839 1276h0M849.3 1268.9h0M859 1256.2h0M852.5 1261.4h0M868 1257h0M858.8 1257.1h0M861.9 1262.2h0M860.7 1259.4h0M843.3 1285.3h0M838.1 1292h0M856.7 1261.4h0M860 1252.2h0M837.3 1302.6h0M834 1296.4h0M832.6 1294.8h0M833.3 1303.2h0M845.9 1274.7h0M858 1263.1h0M841.1 1272.9h0M836.6 1291.9h0M840.4 1278.8h0M849.6 1270.8h0M836.9 1278.1h0M840.4 1271.1h0M851.3 1262.4h0M866.9 1252.6h0M847.9 1268.5h0M858 1255.9h0M839.3 1293.2h0M836.1 1286.8h0M846.1 1277.9h0M841 1282.2h0M831.6 1297.6h0M834 1285.6h0M836 1291.5h0M859.2 1258h0M864.7 1254.8h0M842.7 1276.2h0M836.4 1304.6h0M848.4 1267.1h0M860.5 1263.1h0M842.3 1289.4h0M847.6 1272.3h0M839.1 1292.8h0M847.4 1286.1h0M844.4 1272.9h0M845 1266.8h0M858.1 1259.8h0M835.1 1303.7h0M846.1 1262.5h0M863.9 1261.3h0M865.1 1254.1h0M843.6 1271.3h0M855.1 1258.7h0M865.2 1259.5h0M835.4 1302h0M846.8 1280.3h0M844 1272.2h0M834.3 1289.8h0M845.5 1269.6h0M835.2 1291.1h0M855.6 1267.7h0M837.8 1292.8h0M835.5 1277.1h0M842.5 1271h0M847.5 1282.5h0M837.8 1268.4h0M835.7 1291.2h0M886.6 1252.3h0M885 1245.4h0M886.7 1246.3h0M886.3 1251.1h0M885.1 1248.9h0M884.1 1250.3h0M886.3 1248.1h0M887.1 1246.9h0M883.6 1262.8h0M887.3 1264.4h0M883.4 1263.7h0M880.7 1263.8h0M879.2 1264.8h0M884 1263.9h0M880.2 1264.6h0M880.3 1265.7h0M847.3 1291.4h0" fill="none" stroke="#fde725" stroke-width="4.1" stroke-linecap="round"/>
<path d="M929.5 1296.7h0M880.8 1309.3h0M898.5 1303.8h0M878 1300.2h0M930.2 1298.4h0M909.6 1308.4h0M927 1295.7h0M896 1303.6h0M955.5 1296.6h0M945.5 1289h0M955.4 1295.2h0M874.5 1311h0M888.6 1314.5h0M882.2 1308.7h0M911.7 1298h0M924.4 1301.8h0M943.1 1290.9h0M944.5 1292.3h0M883.2 1309.3h0M917.8 1283.4h0M915 1302.3h0M930.6 1299.6h0M929.5 1296.6h0M956.3 1299.6h0M898.7 1317.1h0M895.7 1300.7h0M915.5 1303.4h0M943.8 1275.9h0M921.9 1306.4h0M876.5 1290.3h0M955.3 1291h0M893.8 1312.4h0M944.7 1295.4h0M922.8 1297.7h0M903.3 1306.7h0M923.4 1299.4h0M949.4 1290.1h0M937.7 1290.9h0M932.5 1289.1h0M876.8 1310.6h0M890.1 1308.5h0M927.9 1276.9h0M898.6 1291.6h0M944.7 1303.5h0M901.2 1291.8h0M938.5 1286.8h0M934.6 1301.2h0M917.4 1292.7h0M934.6 1291.9h0M918.3 1302.1h0M942 1296.6h0M887.3 1320.7h0M891.2 1299.1h0M888.2 1310.6h0M949.1 1292.4h0M926.4 1306.7h0M888.7 1316.5h0M906.5 1301.2h0M882.8 1310.8h0M928.3 1292.5h0M900.7 1310.1h0M911.8 1297h0M897 1294.8h0M927.1 1294.9h0M879.5 1317.9h0M885 1311.3h0M881.1 1309.8h0M878.6 1312.5h0M937.9 1289.7h0M923.9 1303.3h0M908 1319.8h0M916.1 1325.8h0M912 1322.8h0M922.1 1331.9h0M978.8 1330.9h0M852.3 1305.6h0" fill="none" stroke="#440154" stroke-width="5.3" stroke-linecap="round" stroke-opacity="0.45"/>
<path d="M952.5 1250h0M952.2 1256.8h0M975.8 1265.8h0M963.9 1257.4h0M954.7 1248h0M971.8 1261.4h0M952.2 1251h0M948.3 1252.8h0M943 1240.7h0M950.3 1252.4h0M950.7 1248h0M948.5 1257.6h0M953.6 1247.3h0M948 1247.5h0M968.3 1259.4h0M974.7 1265.1h0" fill="none" stroke="#440154" stroke-width="5.3" stroke-linecap="round" stroke-opacity="0.7"/>
<path d="M986.2 1291.4h0M989.4 1323.1h0M990.9 1311.8h0M984.5 1284.4h0M994.2 1305.6h0M996.3 1319.4h0M995.7 1299.4h0M986.6 1285.7h0M988.5 1287.5h0M992 1320.2h0M996 1296.2h0M979.7 1290.6h0M1002.8 1302.4h0M981.9 1322.9h0M994.2 1293.5h0M971.3 1277.6h0M990.7 1299.4h0M993.8 1289.9h0M995.2 1316.5h0M988.5 1314.8h0M997.9 1298.5h0M969.8 1277.3h0M985.5 1323.8h0M984.6 1283.4h0M969.6 1284.1h0M981.8 1273.7h0M981.2 1302.2h0M986.7 1304.9h0M981.1 1270.9h0M990.6 1314.9h0M997.1 1303.1h0M979.1 1278.4h0M979.2 1284.5h0M998.8 1316.8h0M976.7 1311.1h0M972.2 1279h0M995.9 1306.4h0M988.1 1298.6h0M990.1 1293.9h0M993.9 1299.1h0M985.4 1322.4h0M964.2 1282.6h0M996.7 1295.6h0M996.8 1303.6h0M995.2 1297.1h0M1003.2 1299.7h0M989.5 1302.4h0M987 1299.5h0M990.9 1282.1h0M993.5 1320.8h0M992.5 1305.5h0M988.1 1286.3h0M965.5 1279.7h0M1004.1 1308.8h0M986.4 1283.2h0M984.5 1273.9h0M996.3 1325.9h0M998.1 1318h0M989.2 1298h0M995.9 1318.6h0M985.2 1315.8h0M1006 1302.9h0M998.1 1308.1h0M993.4 1311.8h0M977.4 1286.5h0M974 1281.1h0M982.1 1282.4h0M975.7 1276.8h0M973.3 1272.4h0M979.4 1283.6h0M971.6 1289.1h0M996.8 1317.2h0M993.9 1299.8h0M983.7 1283.3h0M996.4 1317.6h0M989.4 1317.3h0M976.7 1283.9h0M995.2 1289.5h0M1000 1317.6h0M984.6 1283.4h0M992.6 1311.8h0M992 1284.8h0M968.4 1286.4h0M974 1276.9h0M992.8 1310.9h0M978.1 1288.2h0M993.3 1291.4h0M973.4 1278.8h0M987.7 1281.6h0M973.7 1290.1h0M992.6 1315.6h0M983.5 1308.3h0M986.1 1324.2h0M991.5 1294h0M988.3 1313.5h0M984.1 1315.6h0M989.6 1308.5h0M986 1300.3h0M982.3 1285.6h0M999.8 1321.3h0M968.4 1281.6h0M972.5 1300.9h0M995.6 1289.2h0M987.2 1290.8h0M1000.5 1318.4h0M991.3 1325.3h0M977 1289.4h0M992 1301.3h0M987 1280.4h0M987.2 1321.2h0M976.4 1274h0M978.1 1288.7h0M985.6 1284.9h0M994.9 1307.2h0M999.6 1321.3h0M995.2 1299.4h0M984.9 1289h0M987.5 1295.8h0M980.8 1311.5h0M986.9 1321.5h0M981.5 1289.3h0M972.7 1283.4h0M991.1 1313.6h0M989.2 1278.9h0M995.1 1312.1h0M993.7 1292.6h0M978.8 1281.4h0M988.4 1308.9h0M991.2 1325h0M985.3 1299.8h0M972.7 1273.3h0M993.7 1318.5h0M971.9 1286.7h0M991 1290.5h0M990.6 1305.4h0M990.6 1291.4h0M997.1 1299.9h0M992.1 1315.3h0M970 1284.2h0M998.5 1312.8h0M975 1290.7h0M972.4 1292.2h0M972.9 1302.3h0M979.8 1295.9h0M972.5 1297.9h0M977.4 1304.6h0M984.1 1288.8h0M975.3 1282.1h0M977.4 1292.2h0M984.5 1287h0M972 1289.9h0M982.3 1300.3h0M973.4 1288.8h0M980.8 1282.4h0M981.5 1291.4h0M970.9 1296.8h0M982 1285.4h0M984.1 1290.3h0M976.5 1294.5h0M972.5 1295h0M981.8 1303.5h0M983.7 1300.2h0M977.3 1304.7h0M971.7 1293.3h0M977.1 1283.3h0M982.7 1294.6h0M980.8 1287.7h0M979.4 1295.4h0M983.9 1299.5h0M975.8 1302.3h0M936.3 1269.2h0M940.4 1271.2h0M942.4 1275.2h0M944.4 1280.3h0M938.3 1279.3h0M885.3 1362.2h0M881.6 1360.3h0M889.6 1364.3h0M880.5 1356.4h0M892 1365h0M863.2 1349.7h0M870 1349.6h0M868 1348.8h0M889.6 1363.9h0M882.9 1358.5h0M874.9 1352h0M860.7 1349.8h0M884.2 1363.9h0M893.6 1363.3h0M862.7 1351.1h0M879.5 1356.8h0M916.9 1356.6h0M920.4 1358.8h0M909 1350.6h0M909.7 1350.8h0M910.9 1347.5h0M908.9 1347.6h0M918.6 1350.7h0M908.5 1346.2h0M902.4 1346.9h0M907.7 1345.3h0M922.7 1361.8h0M903.2 1349.5h0M898.4 1345.2h0M924.5 1354.3h0M920.9 1358h0M924.6 1365.9h0M925.2 1362.2h0M907.7 1345.2h0M904.9 1341.4h0M926.2 1362.2h0M923.1 1355.3h0M929 1364.3h0M925.7 1363.6h0M927.4 1360.1h0M909.3 1349.6h0M918.9 1353.9h0M910.3 1345.2h0M927.4 1355.7h0M899.8 1347.6h0M907.3 1346.8h0M909.3 1352.8h0M904 1345.5h0M920.9 1354h0M916 1346.9h0M916.5 1350.7h0M917.3 1354.5h0M913.9 1350.6h0M922.9 1357.8h0M918.5 1352.8h0M919.2 1358.7h0M931.2 1367.8h0M964.7 1353.3h0M939.7 1367h0M952 1356.6h0M951.8 1352.7h0M951.8 1356.2h0M952.2 1360.9h0M941.2 1367.5h0M922.4 1366.2h0M962.8 1350.3h0M943.2 1366.2h0M939.7 1365.7h0M922.5 1367.8h0M925.9 1369.2h0M963.7 1350.3h0M943 1363.1h0M959.4 1358.7h0M953.5 1354.7h0M960.5 1352h0M953.8 1355.5h0M954.2 1363.3h0M928.3 1367.9h0M934.5 1367.9h0M932.3 1363.5h0M959.6 1353.4h0M921.6 1365.2h0M965 1353h0M948.5 1363.4h0M936.8 1366.6h0M962 1349h0M961.7 1351.6h0M933 1364.8h0M962.7 1353h0M938 1369.1h0M945.7 1358.3h0M937.1 1367.6h0M929.9 1362.9h0M952.1 1358.7h0M942.3 1365.1h0M922 1368h0M946.9 1359.7h0M949.3 1358.2h0M925.9 1363.7h0M929.4 1369.5h0M942.9 1363.1h0M952.8 1355.8h0M951.6 1360.3h0M965.5 1351.4h0M950.3 1357.7h0M927.4 1365.9h0M931.3 1367.6h0M962.1 1350h0M943.5 1362.4h0M927.4 1369.5h0M948.6 1356.2h0M927.1 1365h0M944.7 1365.5h0M947.1 1359.2h0M937 1370h0M957.1 1356.9h0M929 1366.7h0M940.3 1368.7h0M938.2 1365.9h0M935.4 1367.8h0M941 1358.9h0M934.6 1365.5h0M951.3 1354.6h0M963.9 1350.7h0M924.1 1366.4h0M948 1359.4h0M940.5 1363.2h0M923.7 1365.9h0M948.6 1361.4h0M939.3 1360.4h0M946.1 1364.3h0M954 1358h0M946.8 1362.2h0M955.5 1354.1h0M961.7 1354.1h0M949.5 1355.2h0" fill="none" stroke="#440154" stroke-width="5.3" stroke-linecap="round"/>
<g font-family='"DejaVu Sans", sans-serif' font-size="9.8" text-anchor="middle" fill="#2a2a2a">
<text x="1054.5" y="1341.5">−1.00</text>
<text x="1054.9" y="1328.4">−0.75</text>
<text x="1055.3" y="1315.3">−0.50</text>
<text x="1055.7" y="1302.2">−0.25</text>
<text x="1056" y="1289.2">0.00</text>
<text x="1056.4" y="1276.1">0.25</text>
<text x="1056.8" y="1263">0.50</text>
<text x="1057.2" y="1249.9">0.75</text>
<text x="1057.6" y="1236.8">1.00</text>
<text x="791.6" y="1406.2">−1.00</text>
<text x="809.3" y="1412">−0.75</text>
<text x="827" y="1417.8">−0.50</text>
<text x="844.7" y="1423.7">−0.25</text>
<text x="862.5" y="1429.5">0.00</text>
<text x="880.2" y="1435.3">0.25</text>
<text x="897.9" y="1441.2">0.50</text>
<text x="915.6" y="1447">0.75</text>
<text x="933.3" y="1452.8">1.00</text>
<text x="967.7" y="1447.7">−1.00</text>
<text x="976.8" y="1437.8">−0.75</text>
<text x="985.9" y="1428">−0.50</text>
<text x="995" y="1418.1">−0.25</text>
<text x="1004.1" y="1408.2">0.00</text>
<text x="1013.2" y="1398.4">0.25</text>
<text x="1022.3" y="1388.5">0.50</text>
<text x="1031.4" y="1378.7">0.75</text>
<text x="1040.5" y="1368.8">1.00</text>
</g>
<text x="1114.66" y="772.7" font-size="33" font-weight="bold">e</text>
<text x="1201.4" y="795" font-size="32" font-weight="bold">Water</text>
<text x="1444.75" y="796.3" font-size="32" font-weight="bold">Saccharin</text>
<text x="1725.6" y="795" font-size="32" font-weight="bold">Quinine</text>
<rect x="1197.45" y="870.25" width="45.2" height="251.7" fill="#56a0fb" stroke="#000" stroke-width="2.9"/>
<rect x="1268.15" y="943.05" width="46" height="178.9" fill="#fff" stroke="#000" stroke-width="2.9"/>
<line x1="1199.5" y1="870.4" x2="1241" y2="870.4" stroke="#000" stroke-width="5.2" stroke-linecap="round"/>
<path d="M1269.9 934.3h0M1269.9 940.4h0M1269.9 948.2h0M1280.4 937h0M1281.1 945.6h0M1291.6 935.9h0M1291.6 941.7h0M1291.6 949.5h0M1291.6 955.3h0M1291.6 960.8h0M1302.6 934.3h0M1302.6 941.7h0M1302.6 949.5h0M1313.1 931.7h0M1313.1 937h0M1313.1 946.9h0M1313.1 941.7h0" fill="none" stroke="#000" stroke-width="5" stroke-linecap="round"/>
<line x1="1291.2" y1="940.3" x2="1291.2" y2="943.2" stroke="#000" stroke-width="1.5"/>
<line x1="1268.2" y1="940.3" x2="1314.2" y2="940.3" stroke="#000" stroke-width="1.5"/>
<line x1="1268.2" y1="943.2" x2="1314.2" y2="943.2" stroke="#000" stroke-width="1.5"/>
<line x1="1171.7" y1="868.9" x2="1171.7" y2="1123.7" stroke="#000" stroke-width="2.7"/>
<line x1="1170.4" y1="1122.4" x2="1340.6" y2="1122.4" stroke="#000" stroke-width="2.7"/>
<line x1="1161.2" y1="870.2" x2="1171.7" y2="870.2" stroke="#000" stroke-width="2.7"/>
<text x="1158" y="876.8" font-size="18.6" font-weight="bold" text-anchor="end">1.0</text>
<line x1="1161.2" y1="920.64" x2="1171.7" y2="920.64" stroke="#000" stroke-width="2.7"/>
<text x="1158" y="927.24" font-size="18.6" font-weight="bold" text-anchor="end">0.8</text>
<line x1="1161.2" y1="971.08" x2="1171.7" y2="971.08" stroke="#000" stroke-width="2.7"/>
<text x="1158" y="977.68" font-size="18.6" font-weight="bold" text-anchor="end">0.6</text>
<line x1="1161.2" y1="1021.52" x2="1171.7" y2="1021.52" stroke="#000" stroke-width="2.7"/>
<text x="1158" y="1028.12" font-size="18.6" font-weight="bold" text-anchor="end">0.4</text>
<line x1="1161.2" y1="1071.96" x2="1171.7" y2="1071.96" stroke="#000" stroke-width="2.7"/>
<text x="1158" y="1078.56" font-size="18.6" font-weight="bold" text-anchor="end">0.2</text>
<line x1="1161.2" y1="1122.4" x2="1171.7" y2="1122.4" stroke="#000" stroke-width="2.7"/>
<text x="1158" y="1129" font-size="18.6" font-weight="bold" text-anchor="end">0.0</text>
<polyline points="1216.7,859.6 1216.7,847.5 1294.3,847.5 1294.3,859.6" fill="none" stroke="#000" stroke-width="2.7" stroke-linejoin="miter"/>
<text x="1235.68" y="843.95" font-size="23.54" font-weight="bold" font-family='"DejaVu Sans", sans-serif' letter-spacing="2.69">***</text>
<text transform="translate(1119.01 1043.02) rotate(-90)" font-size="20.81" font-weight="bold">Accuracy</text>
<text x="1190.03" y="1152.5" font-size="18.91" font-weight="bold">Actual Shuffled</text>
<rect x="1481.55" y="869.85" width="45.4" height="252.1" fill="#56a0fb" stroke="#000" stroke-width="2.9"/>
<rect x="1553.85" y="943.85" width="45.1" height="178.1" fill="#fff" stroke="#000" stroke-width="2.9"/>
<line x1="1483.5" y1="870" x2="1525.5" y2="870" stroke="#000" stroke-width="5.2" stroke-linecap="round"/>
<path d="M1554.3 942.2h0M1560.9 941.7h0M1567.4 941.1h0M1571.3 928.6h0M1574 940.4h0M1576.6 936.4h0M1581.8 929.1h0M1587 933.8h0M1576.6 949.5h0M1581.8 948.2h0M1576.6 956.1h0M1576.6 963.9h0M1587 941.1h0M1592.3 941.1h0M1597.5 940.4h0M1581.8 941.7h0M1577.1 943h0" fill="none" stroke="#000" stroke-width="5" stroke-linecap="round"/>
<line x1="1576.5" y1="941.5" x2="1576.5" y2="944.5" stroke="#000" stroke-width="1.5"/>
<line x1="1553.5" y1="941.5" x2="1599.5" y2="941.5" stroke="#000" stroke-width="1.5"/>
<line x1="1553.5" y1="944.5" x2="1599.5" y2="944.5" stroke="#000" stroke-width="1.5"/>
<line x1="1457.2" y1="868.5" x2="1457.2" y2="1123.7" stroke="#000" stroke-width="2.7"/>
<line x1="1455.9" y1="1122.4" x2="1625.8" y2="1122.4" stroke="#000" stroke-width="2.7"/>
<line x1="1446.7" y1="869.8" x2="1457.2" y2="869.8" stroke="#000" stroke-width="2.7"/>
<text x="1442.8" y="876.4" font-size="18.6" font-weight="bold" text-anchor="end">1.0</text>
<line x1="1446.7" y1="920.32" x2="1457.2" y2="920.32" stroke="#000" stroke-width="2.7"/>
<text x="1442.8" y="926.92" font-size="18.6" font-weight="bold" text-anchor="end">0.8</text>
<line x1="1446.7" y1="970.84" x2="1457.2" y2="970.84" stroke="#000" stroke-width="2.7"/>
<text x="1442.8" y="977.44" font-size="18.6" font-weight="bold" text-anchor="end">0.6</text>
<line x1="1446.7" y1="1021.36" x2="1457.2" y2="1021.36" stroke="#000" stroke-width="2.7"/>
<text x="1442.8" y="1027.96" font-size="18.6" font-weight="bold" text-anchor="end">0.4</text>
<line x1="1446.7" y1="1071.88" x2="1457.2" y2="1071.88" stroke="#000" stroke-width="2.7"/>
<text x="1442.8" y="1078.48" font-size="18.6" font-weight="bold" text-anchor="end">0.2</text>
<line x1="1446.7" y1="1122.4" x2="1457.2" y2="1122.4" stroke="#000" stroke-width="2.7"/>
<text x="1442.8" y="1129" font-size="18.6" font-weight="bold" text-anchor="end">0.0</text>
<polyline points="1503,859.4 1503,847.5 1580.5,847.5 1580.5,859.4" fill="none" stroke="#000" stroke-width="2.7" stroke-linejoin="miter"/>
<text x="1525.88" y="843.95" font-size="23.54" font-weight="bold" font-family='"DejaVu Sans", sans-serif' letter-spacing="2.69">***</text>
<text transform="translate(1403.71 1043.02) rotate(-90)" font-size="20.81" font-weight="bold">Accuracy</text>
<text x="1475.02" y="1152.5" font-size="19.12" font-weight="bold">Actual Shuffled</text>
<rect x="1752.15" y="882.05" width="44.2" height="240.4" fill="#56a0fb" stroke="#000" stroke-width="2.9"/>
<rect x="1823.15" y="942.55" width="44.4" height="179.9" fill="#fff" stroke="#000" stroke-width="2.9"/>
<path d="M1752.6 874.5h0M1755.7 874.9h0M1758.9 875.3h0M1762 874.5h0M1765.1 874.9h0M1768.3 875.3h0M1771.4 874.5h0M1774.6 874.9h0M1777.7 875.3h0M1780.9 874.5h0M1784 874.9h0M1787.1 875.3h0M1790.3 874.5h0M1793.4 874.9h0M1796.6 875.3h0M1769.1 901.9h0M1773 901.9h0M1776.9 901.9h0M1780.3 901.9h0" fill="none" stroke="#000" stroke-width="5" stroke-linecap="round"/>
<line x1="1774.4" y1="878" x2="1774.4" y2="884" stroke="#000" stroke-width="1.5"/>
<line x1="1762.4" y1="878" x2="1786.4" y2="878" stroke="#000" stroke-width="1.5"/>
<line x1="1762.4" y1="884" x2="1786.4" y2="884" stroke="#000" stroke-width="1.5"/>
<path d="M1824.1 941.7h0M1829.3 942.2h0M1831.1 933.8h0M1834.5 943h0M1837.2 938.5h0M1839.8 945.6h0M1842.4 949.5h0M1842.4 956.1h0M1845.5 926.5h0M1845.5 935.9h0M1845.5 941.7h0M1849 946.9h0M1849 953.5h0M1852.9 940.4h0M1853.7 946.9h0M1859.4 936.4h0M1860.7 942.2h0M1866 943.8h0M1838.5 941.7h0" fill="none" stroke="#000" stroke-width="5" stroke-linecap="round"/>
<line x1="1845.5" y1="940" x2="1845.5" y2="943.5" stroke="#000" stroke-width="1.5"/>
<line x1="1822.5" y1="940" x2="1868.5" y2="940" stroke="#000" stroke-width="1.5"/>
<line x1="1822.5" y1="943.5" x2="1868.5" y2="943.5" stroke="#000" stroke-width="1.5"/>
<line x1="1727.7" y1="873.1" x2="1727.7" y2="1124.2" stroke="#000" stroke-width="2.7"/>
<line x1="1726.4" y1="1122.9" x2="1893.5" y2="1122.9" stroke="#000" stroke-width="2.7"/>
<line x1="1717.2" y1="874.4" x2="1727.7" y2="874.4" stroke="#000" stroke-width="2.7"/>
<text x="1714" y="881" font-size="18.6" font-weight="bold" text-anchor="end">1.0</text>
<line x1="1717.2" y1="924.1" x2="1727.7" y2="924.1" stroke="#000" stroke-width="2.7"/>
<text x="1714" y="930.7" font-size="18.6" font-weight="bold" text-anchor="end">0.8</text>
<line x1="1717.2" y1="973.8" x2="1727.7" y2="973.8" stroke="#000" stroke-width="2.7"/>
<text x="1714" y="980.4" font-size="18.6" font-weight="bold" text-anchor="end">0.6</text>
<line x1="1717.2" y1="1023.5" x2="1727.7" y2="1023.5" stroke="#000" stroke-width="2.7"/>
<text x="1714" y="1030.1" font-size="18.6" font-weight="bold" text-anchor="end">0.4</text>
<line x1="1717.2" y1="1073.2" x2="1727.7" y2="1073.2" stroke="#000" stroke-width="2.7"/>
<text x="1714" y="1079.8" font-size="18.6" font-weight="bold" text-anchor="end">0.2</text>
<line x1="1717.2" y1="1122.9" x2="1727.7" y2="1122.9" stroke="#000" stroke-width="2.7"/>
<text x="1714" y="1129.5" font-size="18.6" font-weight="bold" text-anchor="end">0.0</text>
<polyline points="1776.9,859.4 1776.9,847.5 1845.3,847.5 1845.3,859.4" fill="none" stroke="#000" stroke-width="2.7" stroke-linejoin="miter"/>
<text x="1791.18" y="843.95" font-size="23.54" font-weight="bold" font-family='"DejaVu Sans", sans-serif' letter-spacing="2.69">***</text>
<text transform="translate(1674.95 1044.31) rotate(-90)" font-size="20.2" font-weight="bold">Accuracy</text>
<text x="1745.03" y="1152.5" font-size="18.8" font-weight="bold">Actual Shuffled</text>
<rect x="1186.85" y="1243.35" width="45.3" height="248.3" fill="#45efb0" stroke="#000" stroke-width="2.9"/>
<rect x="1258.85" y="1312.05" width="45.9" height="179.6" fill="#fff" stroke="#000" stroke-width="2.9"/>
<line x1="1188.5" y1="1239.4" x2="1230.5" y2="1239.4" stroke="#000" stroke-width="5.4" stroke-linecap="round"/>
<path d="M1205.7 1262.9h0M1208.9 1262.9h0M1211.7 1262.9h0M1214.4 1262.9h0" fill="none" stroke="#000" stroke-width="5" stroke-linecap="round"/>
<path d="M1268.9 1310.1h0M1301 1314.3h0M1281.2 1320.6h0M1282.5 1315.6h0M1272.4 1309.5h0M1299.2 1308.2h0M1272.3 1302h0M1287.6 1323.5h0M1270.9 1321.2h0M1271.8 1306.8h0M1266.3 1316.1h0M1294.6 1305.9h0M1270.6 1314.1h0M1301.1 1313.7h0M1277.1 1311.8h0M1281 1313.6h0M1284.7 1315h0M1287.9 1310.4h0M1283.8 1308.9h0M1269.9 1304.8h0M1295.3 1320.2h0M1281.4 1303.3h0M1285.5 1307.4h0M1276.3 1310.2h0M1282.2 1311.3h0M1298.2 1311.6h0M1297.8 1305.7h0M1282.4 1320.7h0M1285 1313.5h0M1295.6 1311.7h0M1261.2 1310.7h0M1291 1303.5h0M1274 1316.1h0M1302.6 1310.6h0M1277.5 1310.1h0M1282.9 1316.7h0M1294.1 1317h0M1291 1318.2h0M1294 1311.6h0M1262.5 1313.7h0M1269.7 1308.2h0M1296 1304.2h0M1270.9 1310.7h0M1261.6 1310.4h0M1295.9 1311h0M1266.5 1315.3h0M1296 1308.8h0M1285.8 1312.5h0M1272.6 1315.1h0M1296.7 1313.2h0M1280.5 1306.2h0M1288.7 1298.6h0M1299.7 1316.4h0M1279.8 1323.6h0M1283 1304.9h0M1302.9 1311.9h0M1286.5 1317.3h0M1273.4 1301.1h0M1270.9 1303h0M1264.9 1307.2h0M1273.3 1309.4h0M1289.9 1322.7h0M1288.2 1325.4h0M1292.1 1320.5h0M1286.5 1323.1h0M1275 1315.2h0M1272.9 1320.5h0M1270 1310.7h0M1266.3 1311.3h0M1274.7 1310.6h0M1285.9 1315.7h0M1299.8 1311.9h0M1288.3 1323.1h0M1282.1 1314.8h0M1294.1 1311.1h0M1301.5 1311.3h0M1265.3 1317h0M1296 1309.4h0M1277.4 1309.7h0M1292.7 1313.6h0M1285.5 1315.2h0M1276.2 1298.6h0M1292.9 1311.8h0M1272.5 1309.8h0M1268 1309.5h0M1268.8 1318.6h0M1291.5 1323.3h0M1295.8 1314.7h0M1267.5 1315.5h0M1270.6 1313.1h0M1272.2 1323h0M1285.8 1314h0M1280.4 1316.9h0M1272.8 1319.5h0M1266.9 1307.9h0M1265 1316.1h0M1275.8 1305.1h0M1268.2 1308.3h0M1278.8 1310.5h0M1271.5 1314.6h0M1296.9 1316.5h0M1264.8 1316.5h0M1278.6 1310.5h0M1274.7 1302.2h0M1276 1304.2h0M1292.3 1312.9h0M1272.3 1312.4h0M1271.3 1311.8h0M1271.8 1315h0M1291.9 1310.1h0M1288.7 1316.3h0M1279.9 1315.6h0M1281 1310.4h0M1268.8 1316.8h0M1267.7 1315.9h0M1281.7 1293.5h0M1281.7 1329.5h0M1281.7 1298h0M1277 1300h0M1286 1301h0" fill="none" stroke="#000" stroke-width="5" stroke-linecap="round"/>
<line x1="1162" y1="1237.8" x2="1162" y2="1493.4" stroke="#000" stroke-width="2.7"/>
<line x1="1160.7" y1="1492.1" x2="1332" y2="1492.1" stroke="#000" stroke-width="2.7"/>
<line x1="1151.5" y1="1239.1" x2="1162" y2="1239.1" stroke="#000" stroke-width="2.7"/>
<text x="1148.6" y="1245.7" font-size="18.6" font-weight="bold" text-anchor="end">1.0</text>
<line x1="1151.5" y1="1289.7" x2="1162" y2="1289.7" stroke="#000" stroke-width="2.7"/>
<text x="1148.6" y="1296.3" font-size="18.6" font-weight="bold" text-anchor="end">0.8</text>
<line x1="1151.5" y1="1340.3" x2="1162" y2="1340.3" stroke="#000" stroke-width="2.7"/>
<text x="1148.6" y="1346.9" font-size="18.6" font-weight="bold" text-anchor="end">0.6</text>
<line x1="1151.5" y1="1390.9" x2="1162" y2="1390.9" stroke="#000" stroke-width="2.7"/>
<text x="1148.6" y="1397.5" font-size="18.6" font-weight="bold" text-anchor="end">0.4</text>
<line x1="1151.5" y1="1441.5" x2="1162" y2="1441.5" stroke="#000" stroke-width="2.7"/>
<text x="1148.6" y="1448.1" font-size="18.6" font-weight="bold" text-anchor="end">0.2</text>
<line x1="1151.5" y1="1492.1" x2="1162" y2="1492.1" stroke="#000" stroke-width="2.7"/>
<text x="1148.6" y="1498.7" font-size="18.6" font-weight="bold" text-anchor="end">0.0</text>
<polyline points="1211.5,1230.2 1211.5,1218.2 1280.5,1218.2 1280.5,1230.2" fill="none" stroke="#000" stroke-width="2.7" stroke-linejoin="miter"/>
<text x="1225.68" y="1214.55" font-size="23.54" font-weight="bold" font-family='"DejaVu Sans", sans-serif' letter-spacing="2.69">***</text>
<text transform="translate(1109.11 1413.22) rotate(-90)" font-size="20.78" font-weight="bold">Accuracy</text>
<text x="1179.82" y="1522.7" font-size="19.14" font-weight="bold">Actual Shuffled</text>
<rect x="1472.85" y="1241.05" width="45.1" height="250.1" fill="#45efb0" stroke="#000" stroke-width="2.9"/>
<rect x="1543.85" y="1313.25" width="46.1" height="177.9" fill="#fff" stroke="#000" stroke-width="2.9"/>
<line x1="1474.5" y1="1241.2" x2="1516.5" y2="1241.2" stroke="#000" stroke-width="6.2" stroke-linecap="round"/>
<path d="M1492.5 1250.6h0M1495.1 1250.6h0M1498.3 1250.6h0" fill="none" stroke="#000" stroke-width="5" stroke-linecap="round"/>
<path d="M1578.8 1321.7h0M1582.4 1309.5h0M1561 1309.5h0M1573.6 1305.5h0M1555.4 1310.6h0M1578.7 1317.8h0M1558.4 1319.8h0M1565.9 1313.3h0M1572.3 1310.7h0M1567.5 1302.1h0M1551.6 1310.4h0M1559.3 1307.5h0M1584.8 1312.3h0M1570.6 1316.3h0M1567.3 1322.2h0M1578.5 1315.3h0M1559.4 1315.4h0M1561.1 1310.1h0M1581.1 1313.8h0M1570.6 1325.6h0M1580.6 1306.3h0M1561.4 1313.2h0M1574.5 1318.8h0M1584.4 1312.4h0M1551.8 1311.4h0M1555.2 1311.7h0M1548.8 1313.1h0M1565.3 1317.5h0M1575.2 1309.8h0M1552.9 1317.1h0M1563.1 1316.8h0M1564.1 1307.3h0M1583.7 1310h0M1554.9 1308.4h0M1586 1311.7h0M1574.9 1309.5h0M1571.5 1306.2h0M1577.1 1313.7h0M1572.4 1302.6h0M1578.2 1310.4h0M1553.2 1312.6h0M1552.3 1316.2h0M1554.9 1317.4h0M1570.6 1307.7h0M1560.1 1313.1h0M1578.1 1311h0M1560 1310.1h0M1573 1321.5h0M1567.8 1317.2h0M1561.9 1320.2h0M1577.6 1313.7h0M1567.9 1313.8h0M1587.2 1313.5h0M1555.3 1312.8h0M1553.2 1318.6h0M1562.5 1318.9h0M1585.2 1314.4h0M1569.3 1314h0M1563.6 1319.5h0M1574.8 1318.2h0M1552.7 1307.5h0M1578.9 1310h0M1560.5 1317.4h0M1550.9 1309.9h0M1559.9 1316.6h0M1560.4 1307.9h0M1578 1308.7h0M1570.2 1309.8h0M1568.7 1315.9h0M1547.3 1312.3h0M1570.8 1307.8h0M1576.6 1308.5h0M1560.9 1314h0M1577.5 1317.7h0M1555.2 1313.1h0M1572 1311.7h0M1553.6 1309.7h0M1565.9 1317.9h0M1575.8 1306.8h0M1553.6 1321.1h0M1565.4 1312.9h0M1584.2 1310.5h0M1575.8 1320.9h0M1564.8 1310.6h0M1560.1 1312.8h0M1563.1 1305.3h0M1575.8 1317.2h0M1562.8 1311.3h0M1568.5 1316.9h0M1556.7 1306.3h0M1575 1321.5h0M1572.1 1316.8h0M1564.6 1321.1h0M1564.3 1317.2h0M1571.9 1314.9h0M1553.4 1313.3h0M1580.1 1312h0M1549.7 1309.5h0M1556 1306.1h0M1567 1320.5h0M1556.9 1302.5h0M1570.4 1305.3h0M1577.8 1309.5h0M1573.3 1312.5h0M1556 1321.1h0M1568.6 1313.1h0M1554.6 1318.5h0M1567.9 1310.7h0M1559.5 1307h0M1577.7 1315.4h0M1560.3 1300.1h0M1583 1314.6h0M1551.7 1315.5h0M1552 1318.4h0M1550.8 1310.9h0M1567.5 1294.5h0M1565.5 1327h0M1567 1300h0M1562 1302h0M1571 1303h0" fill="none" stroke="#000" stroke-width="5" stroke-linecap="round"/>
<line x1="1448.5" y1="1239.4" x2="1448.5" y2="1492.9" stroke="#000" stroke-width="2.7"/>
<line x1="1447.2" y1="1491.6" x2="1616.6" y2="1491.6" stroke="#000" stroke-width="2.7"/>
<line x1="1438" y1="1240.7" x2="1448.5" y2="1240.7" stroke="#000" stroke-width="2.7"/>
<text x="1434" y="1247.3" font-size="18.6" font-weight="bold" text-anchor="end">1.0</text>
<line x1="1438" y1="1290.88" x2="1448.5" y2="1290.88" stroke="#000" stroke-width="2.7"/>
<text x="1434" y="1297.48" font-size="18.6" font-weight="bold" text-anchor="end">0.8</text>
<line x1="1438" y1="1341.06" x2="1448.5" y2="1341.06" stroke="#000" stroke-width="2.7"/>
<text x="1434" y="1347.66" font-size="18.6" font-weight="bold" text-anchor="end">0.6</text>
<line x1="1438" y1="1391.24" x2="1448.5" y2="1391.24" stroke="#000" stroke-width="2.7"/>
<text x="1434" y="1397.84" font-size="18.6" font-weight="bold" text-anchor="end">0.4</text>
<line x1="1438" y1="1441.42" x2="1448.5" y2="1441.42" stroke="#000" stroke-width="2.7"/>
<text x="1434" y="1448.02" font-size="18.6" font-weight="bold" text-anchor="end">0.2</text>
<line x1="1438" y1="1491.6" x2="1448.5" y2="1491.6" stroke="#000" stroke-width="2.7"/>
<text x="1434" y="1498.2" font-size="18.6" font-weight="bold" text-anchor="end">0.0</text>
<polyline points="1496.5,1228.8 1496.5,1216.9 1566.1,1216.9 1566.1,1228.8" fill="none" stroke="#000" stroke-width="2.7" stroke-linejoin="miter"/>
<text x="1510.88" y="1213.35" font-size="23.54" font-weight="bold" font-family='"DejaVu Sans", sans-serif' letter-spacing="2.69">***</text>
<text transform="translate(1395.31 1413.22) rotate(-90)" font-size="20.78" font-weight="bold">Accuracy</text>
<text x="1465.82" y="1522.7" font-size="19.01" font-weight="bold">Actual Shuffled</text>
<rect x="1752.35" y="1241.05" width="45" height="250.1" fill="#45efb0" stroke="#000" stroke-width="2.9"/>
<rect x="1824.45" y="1313.25" width="44.5" height="177.9" fill="#fff" stroke="#000" stroke-width="2.9"/>
<line x1="1754" y1="1241.2" x2="1796" y2="1241.2" stroke="#000" stroke-width="6.2" stroke-linecap="round"/>
<path d="M1770.9 1250.9h0M1773.8 1250.9h0M1776.7 1250.9h0M1779 1250.9h0" fill="none" stroke="#000" stroke-width="5" stroke-linecap="round"/>
<path d="M1859.7 1312.1h0M1859.3 1317.9h0M1851.3 1320.3h0M1852.1 1316.2h0M1843.7 1309.1h0M1852 1315.6h0M1847.4 1316.6h0M1841.5 1309.5h0M1843.1 1320.3h0M1868.1 1313.4h0M1827.9 1313.3h0M1836.2 1318.9h0M1833.8 1310.6h0M1848.8 1312.4h0M1865.3 1311.2h0M1851.4 1317.2h0M1839.7 1312.9h0M1860.4 1307.2h0M1840.5 1318.5h0M1852.7 1313.5h0M1836.2 1313.8h0M1862.1 1317h0M1860.7 1306.8h0M1853.6 1318.6h0M1828.9 1314.8h0M1838.5 1323.9h0M1843.9 1311.9h0M1843.2 1303.7h0M1846.2 1311.8h0M1837.9 1314.8h0M1855.6 1305.8h0M1843.6 1304.5h0M1841.2 1323.7h0M1831.6 1310.4h0M1836.6 1312.5h0M1824 1313.5h0M1834.1 1317.3h0M1851.9 1317.4h0M1847.3 1306.4h0M1841.8 1314.7h0M1836.2 1321.4h0M1852.2 1307.6h0M1836.1 1307.5h0M1857.3 1319.6h0M1829.1 1315.1h0M1851.8 1312.1h0M1842.3 1315.4h0M1831.8 1317.7h0M1836.1 1314.8h0M1854 1314h0M1833.6 1314.9h0M1834.3 1315.6h0M1836.1 1310h0M1840.4 1313.5h0M1835.3 1313.2h0M1840 1308.3h0M1827.2 1313.7h0M1849.8 1310.9h0M1848.2 1320.5h0M1860.7 1319.2h0M1852.2 1305.1h0M1845.6 1302.9h0M1826.4 1315.3h0M1855.3 1307.8h0M1855.3 1314.4h0M1836.3 1314h0M1830.6 1315.1h0M1844.1 1314.7h0M1857.7 1312.9h0M1861.5 1310.7h0M1859.6 1314.2h0M1857 1309.9h0M1836.1 1322.3h0M1846.3 1308.5h0M1859.1 1312.1h0M1854 1315h0M1848.1 1311.7h0M1844.1 1310.8h0M1860.3 1315.2h0M1827.3 1312.2h0M1856.8 1313.5h0M1860.1 1317.9h0M1855.4 1313.4h0M1849.5 1313h0M1840.6 1311.2h0M1829 1311.1h0M1847.5 1312.5h0M1834.2 1309.4h0M1830.1 1317.6h0M1857.7 1316.6h0M1841.8 1322.6h0M1853.2 1312.1h0M1848.2 1309h0M1848.9 1308.8h0M1859.9 1318.6h0M1840 1315.3h0M1841.5 1320.3h0M1847.1 1313.9h0M1861.9 1309.5h0M1826.8 1310.8h0M1828.8 1314h0M1852.4 1306h0M1839.4 1314h0M1855.3 1319.3h0M1860.8 1309.9h0M1828.4 1312.2h0M1826.3 1314.7h0M1846.8 1305.5h0M1832.8 1312.8h0M1852.2 1307.6h0M1846.1 1317.6h0M1862.2 1313.3h0M1858 1320.1h0M1843.7 1313.9h0M1863.6 1311.3h0M1837.9 1316.8h0M1853.2 1318h0M1825.1 1313.2h0M1848.2 1311.4h0M1828.7 1310.7h0M1846.3 1289h0M1846 1300.5h0M1850 1302h0" fill="none" stroke="#000" stroke-width="5" stroke-linecap="round"/>
<line x1="1727.7" y1="1239.4" x2="1727.7" y2="1492.9" stroke="#000" stroke-width="2.7"/>
<line x1="1726.4" y1="1491.6" x2="1896" y2="1491.6" stroke="#000" stroke-width="2.7"/>
<line x1="1717.2" y1="1240.7" x2="1727.7" y2="1240.7" stroke="#000" stroke-width="2.7"/>
<text x="1714" y="1247.3" font-size="18.6" font-weight="bold" text-anchor="end">1.0</text>
<line x1="1717.2" y1="1290.88" x2="1727.7" y2="1290.88" stroke="#000" stroke-width="2.7"/>
<text x="1714" y="1297.48" font-size="18.6" font-weight="bold" text-anchor="end">0.8</text>
<line x1="1717.2" y1="1341.06" x2="1727.7" y2="1341.06" stroke="#000" stroke-width="2.7"/>
<text x="1714" y="1347.66" font-size="18.6" font-weight="bold" text-anchor="end">0.6</text>
<line x1="1717.2" y1="1391.24" x2="1727.7" y2="1391.24" stroke="#000" stroke-width="2.7"/>
<text x="1714" y="1397.84" font-size="18.6" font-weight="bold" text-anchor="end">0.4</text>
<line x1="1717.2" y1="1441.42" x2="1727.7" y2="1441.42" stroke="#000" stroke-width="2.7"/>
<text x="1714" y="1448.02" font-size="18.6" font-weight="bold" text-anchor="end">0.2</text>
<line x1="1717.2" y1="1491.6" x2="1727.7" y2="1491.6" stroke="#000" stroke-width="2.7"/>
<text x="1714" y="1498.2" font-size="18.6" font-weight="bold" text-anchor="end">0.0</text>
<polyline points="1770.9,1228.8 1770.9,1216.9 1846.4,1216.9 1846.4,1228.8" fill="none" stroke="#000" stroke-width="2.7" stroke-linejoin="miter"/>
<text x="1788.58" y="1213.35" font-size="23.54" font-weight="bold" font-family='"DejaVu Sans", sans-serif' letter-spacing="2.69">***</text>
<text transform="translate(1675.07 1412.52) rotate(-90)" font-size="20.63" font-weight="bold">Accuracy</text>
<text x="1745.03" y="1522.7" font-size="18.98" font-weight="bold">Actual Shuffled</text>
<line x1="34" y1="1594.2" x2="780.8" y2="1594.2" stroke="#000" stroke-width="1.9"/>
<line x1="1122.5" y1="1594.2" x2="1895.4" y2="1594.2" stroke="#000" stroke-width="1.9"/>
<text x="807.87" y="1605" font-size="32" font-weight="bold">Saccharin-Quinine</text>
<text x="34.08" y="1666.4" font-size="33" font-weight="bold">f</text>
<text x="118.07" y="1670.7" font-size="32" font-weight="bold">Htr2a</text>
<text x="602.35" y="1664.5" font-size="33" font-weight="bold">g</text>
<text x="715.5" y="1666" font-size="32" font-weight="bold">Sst</text>
<text x="878.05" y="1667.5" font-size="32" font-weight="bold">Generalizer</text>
<rect x="1065.4" y="1626.7" width="190.8" height="58.8" fill="#d3d3d3"/>
<text x="1076.36" y="1667.5" font-size="32" font-weight="bold">Specializer</text>
<path d="M21.8 1882.8A115.4 115.4 0 0 1 24.8 1856.4Q137.2 1882.4 199.9 1972A109.4 109.4 0 0 1 179.9 1983.1Q137.2 1882.4 21.8 1882.8Z" fill="#5393b5" fill-opacity="0.76"/>
<path d="M24.8 1856.4A115.4 115.4 0 0 1 31 1837.3Q137.2 1882.4 125.8 1773.6A109.4 109.4 0 0 1 129.6 1773.3Q137.2 1882.4 24.8 1856.4Z" fill="#5393b5" fill-opacity="0.76"/>
<path d="M175.2 1991.4A115.4 115.4 0 0 1 106.4 1993.6Q137.2 1882.4 36.5 1839.7A109.4 109.4 0 0 1 79.2 1789.6Q137.2 1882.4 175.2 1991.4Z" fill="#6fbbd6" fill-opacity="0.76"/>
<path d="M106.4 1993.6A115.4 115.4 0 0 1 71.5 1977.3Q137.2 1882.4 44.6 1940.7A109.4 109.4 0 0 1 30.6 1907Q137.2 1882.4 106.4 1993.6Z" fill="#6fbbd6" fill-opacity="0.76"/>
<path d="M71.5 1977.3A115.4 115.4 0 0 1 39.9 1944.4Q137.2 1882.4 230 1940.4A109.4 109.4 0 0 1 199.9 1972Q137.2 1882.4 71.5 1977.3Z" fill="#6fbbd6" fill-opacity="0.76"/>
<path d="M138.8 1767A115.4 115.4 0 0 1 214.4 1796.6Q137.2 1882.4 245.8 1869.1A109.4 109.4 0 0 1 230 1940.4Q137.2 1882.4 138.8 1767Z" fill="#3e6a9b" fill-opacity="0.76"/>
<path d="M214.4 1796.6A115.4 115.4 0 0 1 248.7 1852.5Q137.2 1882.4 79.2 1789.6A109.4 109.4 0 0 1 125.8 1773.6Q137.2 1882.4 214.4 1796.6Z" fill="#3e6a9b" fill-opacity="0.76"/>
<path d="M248.7 1852.5A115.4 115.4 0 0 1 251.7 1868.3Q137.2 1882.4 30.6 1907A109.4 109.4 0 0 1 28.2 1891.4Q137.2 1882.4 248.7 1852.5Z" fill="#3e6a9b" fill-opacity="0.76"/>
<path d="M138.5 1759A123.4 123.4 0 0 1 185.4 1996L182.2 1988.4A115.1 115.1 0 0 0 138.4 1767.3Z" fill="#3e6a9b"/>
<path d="M138.5 1759.6A122.8 122.8 0 0 1 185.2 1995.4" fill="none" stroke="#000" stroke-width="1.7"/>
<text transform="translate(138.54 1754.41) rotate(0.6)" font-size="7.6" text-anchor="middle">0</text>
<text transform="translate(176.71 1760.65) rotate(17.98)" font-size="7.6" text-anchor="middle">10</text>
<text transform="translate(211.27 1778.01) rotate(35.36)" font-size="7.6" text-anchor="middle">20</text>
<text transform="translate(239.07 1804.89) rotate(52.73)" font-size="7.6" text-anchor="middle">30</text>
<text transform="translate(257.57 1838.85) rotate(70.11)" font-size="7.6" text-anchor="middle">40</text>
<text transform="translate(265.08 1876.79) rotate(87.49)" font-size="7.6" text-anchor="middle">50</text>
<text transform="translate(260.92 1915.24) rotate(104.87)" font-size="7.6" text-anchor="middle">60</text>
<text transform="translate(245.46 1950.69) rotate(122.24)" font-size="7.6" text-anchor="middle">70</text>
<text transform="translate(220.12 1979.91) rotate(139.62)" font-size="7.6" text-anchor="middle">80</text>
<text transform="translate(187.21 2000.22) rotate(157)" font-size="7.6" text-anchor="middle">90</text>
<path d="M138.5 1759L138.5 1755.4M157.1 1760.6L157.5 1758.4M175.3 1765L176.4 1761.6M192.6 1772.1L193.6 1770.2M208.6 1781.8L210.7 1778.8M223 1793.7L224.5 1792.1M235.4 1807.7L238.3 1805.5M245.6 1823.4L247.5 1822.3M253.2 1840.4L256.6 1839.2M258.2 1858.4L260.4 1858M260.5 1877L264.1 1876.8M259.9 1895.7L262.1 1895.9M256.5 1914.1L259.9 1915M250.3 1931.7L252.3 1932.6M241.6 1948.2L244.6 1950.2M230.4 1963.2L232.1 1964.7M217.1 1976.4L219.5 1979.1M202 1987.4L203.2 1989.3M185.4 1996L186.8 1999.3" fill="none" stroke="#000" stroke-width="1.1"/>
<path d="M178.2 1998.8A123.4 123.4 0 0 1 14.2 1892.1L22.5 1891.4A115.1 115.1 0 0 0 175.4 1991Z" fill="#6ab4d3"/>
<path d="M178 1998.2A122.8 122.8 0 0 1 14.8 1892" fill="none" stroke="#000" stroke-width="1.7"/>
<text transform="translate(179.72 2003.13) rotate(160.6)" font-size="7.6" text-anchor="middle">0</text>
<text transform="translate(141.48 2010.33) rotate(178.08)" font-size="7.6" text-anchor="middle">10</text>
<text transform="translate(102.85 2005.7) rotate(195.57)" font-size="7.6" text-anchor="middle">20</text>
<text transform="translate(67.39 1989.69) rotate(213.05)" font-size="7.6" text-anchor="middle">30</text>
<text transform="translate(38.38 1963.76) rotate(230.53)" font-size="7.6" text-anchor="middle">40</text>
<text transform="translate(18.51 1930.32) rotate(248.02)" font-size="7.6" text-anchor="middle">50</text>
<text transform="translate(9.59 1892.44) rotate(265.5)" font-size="7.6" text-anchor="middle">60</text>
<path d="M178.2 1998.8L179.4 2002.2M160 2003.7L160.4 2005.8M141.3 2005.7L141.4 2009.3M122.5 2004.9L122.3 2007.1M104.1 2001.3L103.1 2004.7M86.4 1994.9L85.5 1996.9M69.9 1985.8L67.9 1988.9M55 1974.4L53.5 1976M41.9 1960.8L39.2 1963.1M31.1 1945.4L29.2 1946.6M22.8 1928.6L19.4 1929.9M17.1 1910.7L14.9 1911.2M14.2 1892.1L10.6 1892.4" fill="none" stroke="#000" stroke-width="1.1"/>
<path d="M13.8 1883.3A123.4 123.4 0 0 1 128.6 1759.3L129.2 1767.6A115.1 115.1 0 0 0 22.1 1883.2Z" fill="#5291b4"/>
<path d="M14.4 1883.3A122.8 122.8 0 0 1 94 1767.4" fill="none" stroke="#000" stroke-width="1.7"/>
<text transform="translate(9.2 1883.29) rotate(269.6)" font-size="7.6" text-anchor="middle">0</text>
<text transform="translate(14.83 1844.86) rotate(287.05)" font-size="7.6" text-anchor="middle">10</text>
<text transform="translate(31.72 1809.88) rotate(304.51)" font-size="7.6" text-anchor="middle">20</text>
<text transform="translate(58.33 1781.58) rotate(321.96)" font-size="7.6" text-anchor="middle">30</text>
<text transform="translate(92.2 1762.57) rotate(339.42)" font-size="7.6" text-anchor="middle">40</text>
<path d="M13.8 1883.3L10.2 1883.3M15.1 1864.5L12.9 1864.2M19.2 1846.2L15.8 1845.2M26.1 1828.7L24.1 1827.8M35.5 1812.5L32.5 1810.4M47.3 1797.9L45.7 1796.4M61.2 1785.2L58.9 1782.4M76.8 1774.8L75.7 1772.9M93.8 1766.9L92.6 1763.5M111.9 1761.6L111.4 1759.5" fill="none" stroke="#000" stroke-width="1.1"/>
<text transform="translate(266.99 1849.08) rotate(75.6)" font-size="21.2" text-anchor="middle">Positive</text>
<text transform="translate(32.18 1793.65) rotate(310.2)" font-size="21.2" text-anchor="middle">Neutral</text>
<text transform="translate(44.47 1986.48) rotate(221.7)" font-size="21.2" text-anchor="middle">Negative</text>
<rect x="301.8" y="1755.4" width="143.9" height="200" fill="#d3d3d3"/>
<rect x="300.75" y="1729.15" width="9.1" height="18.9" fill="#56a0fb" stroke="#000" stroke-width="2.9"/>
<rect x="300.75" y="1763.05" width="19.46" height="18.9" fill="#56a0fb" stroke="#000" stroke-width="2.9"/>
<rect x="300.75" y="1830.95" width="36.6" height="18.9" fill="#56a0fb" stroke="#000" stroke-width="2.9"/>
<rect x="300.75" y="1864.85" width="41.96" height="18.9" fill="#56a0fb" stroke="#000" stroke-width="2.9"/>
<rect x="300.75" y="1898.05" width="14.1" height="18.9" fill="#56a0fb" stroke="#000" stroke-width="2.9"/>
<rect x="300.75" y="1931.95" width="25.89" height="18.9" fill="#56a0fb" stroke="#000" stroke-width="2.9"/>
<rect x="300.75" y="1965.95" width="31.96" height="18.9" fill="#56a0fb" stroke="#000" stroke-width="2.9"/>
<rect x="300.75" y="1999.85" width="61.6" height="18.9" fill="#56a0fb" stroke="#000" stroke-width="2.9"/>
<line x1="310" y1="1738.6" x2="320.36" y2="1738.6" stroke="#000" stroke-width="1.6"/>
<line x1="310" y1="1733.4" x2="310" y2="1743.8" stroke="#000" stroke-width="1.6"/>
<line x1="320.36" y1="1733.4" x2="320.36" y2="1743.8" stroke="#000" stroke-width="1.6"/>
<line x1="310.71" y1="1772.5" x2="333.21" y2="1772.5" stroke="#000" stroke-width="1.6"/>
<line x1="310.71" y1="1767.3" x2="310.71" y2="1777.7" stroke="#000" stroke-width="1.6"/>
<line x1="333.21" y1="1767.3" x2="333.21" y2="1777.7" stroke="#000" stroke-width="1.6"/>
<line x1="317.86" y1="1840.4" x2="357.86" y2="1840.4" stroke="#000" stroke-width="1.6"/>
<line x1="317.86" y1="1835.2" x2="317.86" y2="1845.6" stroke="#000" stroke-width="1.6"/>
<line x1="357.86" y1="1835.2" x2="357.86" y2="1845.6" stroke="#000" stroke-width="1.6"/>
<line x1="330.36" y1="1874.3" x2="357.86" y2="1874.3" stroke="#000" stroke-width="1.6"/>
<line x1="330.36" y1="1869.1" x2="330.36" y2="1879.5" stroke="#000" stroke-width="1.6"/>
<line x1="357.86" y1="1869.1" x2="357.86" y2="1879.5" stroke="#000" stroke-width="1.6"/>
<line x1="310" y1="1907.5" x2="323.21" y2="1907.5" stroke="#000" stroke-width="1.6"/>
<line x1="310" y1="1902.3" x2="310" y2="1912.7" stroke="#000" stroke-width="1.6"/>
<line x1="323.21" y1="1902.3" x2="323.21" y2="1912.7" stroke="#000" stroke-width="1.6"/>
<line x1="312.5" y1="1941.4" x2="343.57" y2="1941.4" stroke="#000" stroke-width="1.6"/>
<line x1="312.5" y1="1936.2" x2="312.5" y2="1946.6" stroke="#000" stroke-width="1.6"/>
<line x1="343.57" y1="1936.2" x2="343.57" y2="1946.6" stroke="#000" stroke-width="1.6"/>
<line x1="316.07" y1="1975.4" x2="350" y2="1975.4" stroke="#000" stroke-width="1.6"/>
<line x1="316.07" y1="1970.2" x2="316.07" y2="1980.6" stroke="#000" stroke-width="1.6"/>
<line x1="350" y1="1970.2" x2="350" y2="1980.6" stroke="#000" stroke-width="1.6"/>
<line x1="342.86" y1="2009.3" x2="383.93" y2="2009.3" stroke="#000" stroke-width="1.6"/>
<line x1="342.86" y1="2004.1" x2="342.86" y2="2014.5" stroke="#000" stroke-width="1.6"/>
<line x1="383.93" y1="2004.1" x2="383.93" y2="2014.5" stroke="#000" stroke-width="1.6"/>
<path d="M299.3 1731.4h0M299.3 1738.6h0M299.3 1745.7h0M310.7 1738.6h0M346.4 1738.6h0M299.3 1764.6h0M299.3 1780.4h0M310.7 1772.5h0M346.4 1764.6h0M351.8 1780.7h0M299.3 1797.5h0M299.3 1802.9h0M299.3 1808.2h0M299.3 1813.6h0M299.3 1833.2h0M299.3 1847.5h0M322.5 1840.4h0M364.3 1840.4h0M404.3 1840.4h0M299.3 1874.3h0M335.7 1874.3h0M351.8 1866.1h0M346.4 1882.5h0M386.4 1874.3h0M299.3 1899.3h0M299.3 1915.4h0M328.6 1899.3h0M322.5 1915.4h0M332.1 1915.4h0M299.3 1933.2h0M299.3 1949.3h0M323.2 1941.4h0M332.1 1941.4h0M386.4 1941.4h0M299.3 1967.1h0M299.3 1983.2h0M322.5 1975.4h0M358.9 1975.4h0M386.4 1975.4h0M299.3 2008.9h0M351.8 2008.9h0M370.4 2001.1h0M364.3 2017.1h0M430.4 2008.9h0" fill="none" stroke="#000" stroke-width="6.6" stroke-linecap="round"/>
<line x1="299.3" y1="1713.6" x2="299.3" y2="2032.2" stroke="#000" stroke-width="3"/>
<line x1="297.8" y1="2030.8" x2="511.4" y2="2030.8" stroke="#000" stroke-width="2.8"/>
<line x1="299.3" y1="2030.8" x2="299.3" y2="2044.3" stroke="#000" stroke-width="2.8"/>
<text x="299.3" y="2065.4" font-size="17.2" font-weight="bold" text-anchor="middle">0</text>
<line x1="351.98" y1="2030.8" x2="351.98" y2="2044.3" stroke="#000" stroke-width="2.8"/>
<text x="351.98" y="2065.4" font-size="17.2" font-weight="bold" text-anchor="middle">20</text>
<line x1="404.65" y1="2030.8" x2="404.65" y2="2044.3" stroke="#000" stroke-width="2.8"/>
<text x="404.65" y="2065.4" font-size="17.2" font-weight="bold" text-anchor="middle">40</text>
<line x1="457.33" y1="2030.8" x2="457.33" y2="2044.3" stroke="#000" stroke-width="2.8"/>
<text x="457.33" y="2065.4" font-size="17.2" font-weight="bold" text-anchor="middle">60</text>
<line x1="510" y1="2030.8" x2="510" y2="2044.3" stroke="#000" stroke-width="2.8"/>
<text x="510" y="2065.4" font-size="17.2" font-weight="bold" text-anchor="middle">80</text>
<path d="M448 1755.4C473 1755.4 481.4 1755.9 481.4 1760.4L481.4 1950.4C481.4 1954.9 473 1955.4 448 1955.4" fill="none" stroke="#000" stroke-width="1.6"/>
<path d="M443.5 1966.4C469.5 1966.4 478.1 1966.9 478.1 1971.4L478.1 2012.9C478.1 2017.4 469.5 2017.9 443.5 2017.9" fill="none" stroke="#000" stroke-width="1.6"/>
<text x="488.04" y="1846.4" font-size="32" font-weight="bold">60%</text>
<text x="494.11" y="2002.9" font-size="32" font-weight="bold">40%</text>
<line x1="559" y1="1845.1" x2="557.8" y2="1951.4" stroke="#000" stroke-width="1.8"/>
<text x="565.3" y="1901.92" font-size="29.74" font-weight="bold">*</text>
<path d="M610.2 1844.3A115.4 115.4 0 0 1 617.4 1830.4Q715.9 1890.5 751.5 1993.9A109.4 109.4 0 0 1 736.8 1997.9Q715.9 1890.5 610.2 1844.3Z" fill="#bdd0a9" fill-opacity="0.76"/>
<path d="M617.4 1830.4A115.4 115.4 0 0 1 637.8 1805.6Q715.9 1890.5 674.9 1789.1A109.4 109.4 0 0 1 700.7 1782.2Q715.9 1890.5 617.4 1830.4Z" fill="#bdd0a9" fill-opacity="0.76"/>
<path d="M712.1 2005.8A115.4 115.4 0 0 1 674.5 1998.2Q715.9 1890.5 642.7 1809.2A109.4 109.4 0 0 1 674.9 1789.1Q715.9 1890.5 712.1 2005.8Z" fill="#7ba075" fill-opacity="0.76"/>
<path d="M674.5 1998.2A115.4 115.4 0 0 1 625 1961.5Q715.9 1890.5 620.5 1944A109.4 109.4 0 0 1 606.6 1886.7Q715.9 1890.5 674.5 1998.2Z" fill="#7ba075" fill-opacity="0.76"/>
<path d="M625 1961.5A115.4 115.4 0 0 1 615.3 1947Q715.9 1890.5 736.8 1997.9A109.4 109.4 0 0 1 721.6 1999.8Q715.9 1890.5 625 1961.5Z" fill="#7ba075" fill-opacity="0.76"/>
<path d="M717.5 1775.1A115.4 115.4 0 0 1 825.7 1854.8Q715.9 1890.5 825.3 1890.5A109.4 109.4 0 0 1 751.5 1993.9Q715.9 1890.5 717.5 1775.1Z" fill="#466e4c" fill-opacity="0.76"/>
<path d="M825.7 1854.8A115.4 115.4 0 0 1 831 1882.5Q715.9 1890.5 606.6 1886.7A109.4 109.4 0 0 1 612.1 1856Q715.9 1890.5 825.7 1854.8Z" fill="#466e4c" fill-opacity="0.76"/>
<path d="M831 1882.5A115.4 115.4 0 0 1 831.3 1890.5Q715.9 1890.5 700.7 1782.2A109.4 109.4 0 0 1 708.3 1781.4Q715.9 1890.5 831 1882.5Z" fill="#466e4c" fill-opacity="0.76"/>
<path d="M717.2 1767.1A123.4 123.4 0 0 1 721.9 2013.8L721.5 2005.5A115.1 115.1 0 0 0 717.1 1775.4Z" fill="#4c7351"/>
<path d="M717.2 1767.7A122.8 122.8 0 0 1 721.9 2013.2" fill="none" stroke="#000" stroke-width="1.7"/>
<text transform="translate(717.24 1762.51) rotate(0.6)" font-size="7.6" text-anchor="middle">0</text>
<text transform="translate(756.01 1768.95) rotate(18.26)" font-size="7.6" text-anchor="middle">10</text>
<text transform="translate(790.99 1786.84) rotate(35.92)" font-size="7.6" text-anchor="middle">20</text>
<text transform="translate(818.9 1814.51) rotate(53.58)" font-size="7.6" text-anchor="middle">30</text>
<text transform="translate(837.1 1849.33) rotate(71.24)" font-size="7.6" text-anchor="middle">40</text>
<text transform="translate(843.88 1888.04) rotate(88.9)" font-size="7.6" text-anchor="middle">50</text>
<text transform="translate(838.59 1926.98) rotate(106.56)" font-size="7.6" text-anchor="middle">60</text>
<text transform="translate(821.74 1962.48) rotate(124.22)" font-size="7.6" text-anchor="middle">70</text>
<text transform="translate(794.92 1991.2) rotate(141.88)" font-size="7.6" text-anchor="middle">80</text>
<text transform="translate(760.64 2010.43) rotate(159.54)" font-size="7.6" text-anchor="middle">90</text>
<text transform="translate(722.15 2018.35) rotate(177.2)" font-size="7.6" text-anchor="middle">100</text>
<path d="M717.2 1767.1L717.2 1763.5M736.1 1768.8L736.5 1766.6M754.6 1773.3L755.7 1769.9M772.1 1780.6L773.1 1778.7M788.3 1790.6L790.4 1787.7M802.8 1802.9L804.3 1801.3M815.2 1817.2L818.1 1815.1M825.3 1833.3L827.2 1832.3M832.7 1850.8L836.2 1849.7M837.5 1869.2L839.6 1868.8M839.3 1888.1L842.9 1888.1M838.2 1907.1L840.4 1907.4M834.2 1925.7L837.6 1926.7M827.4 1943.4L829.4 1944.4M817.9 1959.9L820.9 1961.9M806.1 1974.7L807.7 1976.2M792.1 1987.6L794.3 1990.4M776.3 1998.1L777.3 2000M759 2006.1L760.3 2009.5M740.8 2011.4L741.2 2013.5M721.9 2013.8L722.1 2017.3" fill="none" stroke="#000" stroke-width="1.1"/>
<path d="M712.2 2013.8A123.4 123.4 0 0 1 599 1850.9L606.9 1853.6A115.1 115.1 0 0 0 712.5 2005.5Z" fill="#7fa47d"/>
<path d="M712.3 2013.2A122.8 122.8 0 0 1 599.6 1851.1" fill="none" stroke="#000" stroke-width="1.7"/>
<text transform="translate(712.1 2018.44) rotate(181.7)" font-size="7.6" text-anchor="middle">0</text>
<text transform="translate(673.1 2011.13) rotate(199.53)" font-size="7.6" text-anchor="middle">10</text>
<text transform="translate(638.22 1992.23) rotate(217.37)" font-size="7.6" text-anchor="middle">20</text>
<text transform="translate(610.79 1963.55) rotate(235.2)" font-size="7.6" text-anchor="middle">30</text>
<text transform="translate(593.47 1927.85) rotate(253.03)" font-size="7.6" text-anchor="middle">40</text>
<text transform="translate(587.91 1888.56) rotate(270.87)" font-size="7.6" text-anchor="middle">50</text>
<text transform="translate(594.66 1849.46) rotate(288.7)" font-size="7.6" text-anchor="middle">60</text>
<path d="M712.2 2013.8L712.1 2017.4M693.2 2011.8L692.8 2013.9M674.6 2006.8L673.4 2010.2M657.1 1999L656.1 2000.9M641 1988.6L638.8 1991.4M626.7 1975.8L625.1 1977.3M614.6 1960.9L611.6 1963M604.9 1944.4L602.9 1945.3M597.9 1926.5L594.4 1927.6M593.7 1907.8L591.5 1908.1M592.5 1888.6L588.9 1888.6M594.3 1869.5L592.1 1869.2M599 1850.9L595.6 1849.8" fill="none" stroke="#000" stroke-width="1.1"/>
<path d="M602.6 1841.5A123.4 123.4 0 0 1 707.3 1767.4L707.9 1775.7A115.1 115.1 0 0 0 610.3 1844.8Z" fill="#c3d5b3"/>
<path d="M603.2 1841.7A122.8 122.8 0 0 1 686.8 1771.2" fill="none" stroke="#000" stroke-width="1.7"/>
<text transform="translate(598.43 1839.67) rotate(293.4)" font-size="7.6" text-anchor="middle">0</text>
<text transform="translate(619.35 1806.47) rotate(311.03)" font-size="7.6" text-anchor="middle">10</text>
<text transform="translate(649.34 1781.17) rotate(328.67)" font-size="7.6" text-anchor="middle">20</text>
<text transform="translate(685.59 1766.14) rotate(346.3)" font-size="7.6" text-anchor="middle">30</text>
<path d="M602.6 1841.5L599.3 1840.1M611.5 1824.7L609.6 1823.5M622.8 1809.5L620.1 1807.1M636.3 1796.2L634.9 1794.5M651.7 1785.1L649.9 1782M668.6 1776.5L667.8 1774.5M686.7 1770.6L685.8 1767.1M705.4 1767.5L705.2 1765.4" fill="none" stroke="#000" stroke-width="1.1"/>
<text transform="translate(852.36 1893.6) rotate(91.3)" font-size="21.2" text-anchor="middle">Positive</text>
<text transform="translate(627.33 1788.61) rotate(319)" font-size="21.2" text-anchor="middle">Neutral</text>
<text transform="translate(610.96 1977.01) rotate(230.5)" font-size="21.2" text-anchor="middle">Negative</text>
<rect x="885" y="1755" width="186.7" height="203.8" fill="#d3d3d3"/>
<rect x="884.35" y="1730.97" width="18.42" height="18.9" fill="#45efb0" stroke="#000" stroke-width="2.9"/>
<rect x="884.35" y="1765.13" width="10.92" height="18.9" fill="#45efb0" stroke="#000" stroke-width="2.9"/>
<rect x="884.35" y="1799.3" width="5.92" height="18.9" fill="#45efb0" stroke="#000" stroke-width="2.9"/>
<rect x="884.35" y="1832.63" width="8" height="18.9" fill="#45efb0" stroke="#000" stroke-width="2.9"/>
<rect x="884.35" y="1865.97" width="20.08" height="18.9" fill="#45efb0" stroke="#000" stroke-width="2.9"/>
<rect x="884.35" y="1899.72" width="15.08" height="18.9" fill="#45efb0" stroke="#000" stroke-width="2.9"/>
<rect x="884.35" y="1933.47" width="10.92" height="18.9" fill="#45efb0" stroke="#000" stroke-width="2.9"/>
<rect x="884.35" y="1967.22" width="49.67" height="18.9" fill="#45efb0" stroke="#000" stroke-width="2.9"/>
<rect x="884.35" y="2001.38" width="105.5" height="18.9" fill="#45efb0" stroke="#000" stroke-width="2.9"/>
<line x1="891.25" y1="1740.42" x2="916.25" y2="1740.42" stroke="#000" stroke-width="1.6"/>
<line x1="891.25" y1="1735.22" x2="891.25" y2="1745.62" stroke="#000" stroke-width="1.6"/>
<line x1="916.25" y1="1735.22" x2="916.25" y2="1745.62" stroke="#000" stroke-width="1.6"/>
<line x1="889.17" y1="1774.58" x2="905" y2="1774.58" stroke="#000" stroke-width="1.6"/>
<line x1="889.17" y1="1769.38" x2="889.17" y2="1779.78" stroke="#000" stroke-width="1.6"/>
<line x1="905" y1="1769.38" x2="905" y2="1779.78" stroke="#000" stroke-width="1.6"/>
<line x1="886.25" y1="1808.75" x2="896.67" y2="1808.75" stroke="#000" stroke-width="1.6"/>
<line x1="886.25" y1="1803.55" x2="886.25" y2="1813.95" stroke="#000" stroke-width="1.6"/>
<line x1="896.67" y1="1803.55" x2="896.67" y2="1813.95" stroke="#000" stroke-width="1.6"/>
<line x1="887.08" y1="1842.08" x2="900.83" y2="1842.08" stroke="#000" stroke-width="1.6"/>
<line x1="887.08" y1="1836.88" x2="887.08" y2="1847.28" stroke="#000" stroke-width="1.6"/>
<line x1="900.83" y1="1836.88" x2="900.83" y2="1847.28" stroke="#000" stroke-width="1.6"/>
<line x1="893.33" y1="1875.42" x2="917.08" y2="1875.42" stroke="#000" stroke-width="1.6"/>
<line x1="893.33" y1="1870.22" x2="893.33" y2="1880.62" stroke="#000" stroke-width="1.6"/>
<line x1="917.08" y1="1870.22" x2="917.08" y2="1880.62" stroke="#000" stroke-width="1.6"/>
<line x1="891.25" y1="1909.17" x2="911.25" y2="1909.17" stroke="#000" stroke-width="1.6"/>
<line x1="891.25" y1="1903.97" x2="891.25" y2="1914.37" stroke="#000" stroke-width="1.6"/>
<line x1="911.25" y1="1903.97" x2="911.25" y2="1914.37" stroke="#000" stroke-width="1.6"/>
<line x1="887.08" y1="1942.92" x2="907.08" y2="1942.92" stroke="#000" stroke-width="1.6"/>
<line x1="887.08" y1="1937.72" x2="887.08" y2="1948.12" stroke="#000" stroke-width="1.6"/>
<line x1="907.08" y1="1937.72" x2="907.08" y2="1948.12" stroke="#000" stroke-width="1.6"/>
<line x1="925.83" y1="1976.67" x2="945.42" y2="1976.67" stroke="#000" stroke-width="1.6"/>
<line x1="925.83" y1="1971.47" x2="925.83" y2="1981.87" stroke="#000" stroke-width="1.6"/>
<line x1="945.42" y1="1971.47" x2="945.42" y2="1981.87" stroke="#000" stroke-width="1.6"/>
<line x1="970.42" y1="2010.83" x2="1012.08" y2="2010.83" stroke="#000" stroke-width="1.6"/>
<line x1="970.42" y1="2005.63" x2="970.42" y2="2016.03" stroke="#000" stroke-width="1.6"/>
<line x1="1012.08" y1="2005.63" x2="1012.08" y2="2016.03" stroke="#000" stroke-width="1.6"/>
<path d="M882.9 1735h0M882.9 1738.8h0M882.9 1742.5h0M882.9 1746.2h0M882.9 1769.2h0M882.9 1772.9h0M882.9 1776.7h0M882.9 1780.4h0M882.9 1803.3h0M882.9 1807.1h0M882.9 1810.8h0M882.9 1814.6h0M882.9 1836.7h0M882.9 1840.4h0M882.9 1844.2h0M882.9 1847.9h0M882.9 1870h0M882.9 1873.8h0M882.9 1877.5h0M882.9 1881.2h0M882.9 1903.8h0M882.9 1907.5h0M882.9 1911.2h0M882.9 1915h0M882.9 1937.5h0M882.9 1941.2h0M882.9 1945h0M882.9 1948.8h0M915 1740.4h0M924.6 1740.4h0M971.2 1740.4h0M896.7 1774.6h0M905.8 1774.6h0M949.6 1774.6h0M896.7 1808.8h0M907.1 1807.9h0M910 1812.1h0M910 1842.1h0M938.3 1842.1h0M899.6 1875.4h0M916.2 1875.4h0M924.6 1875.4h0M971.2 1875.4h0M910 1909.2h0M926.7 1909.2h0M949.6 1909.2h0M899.6 1942.9h0M971.2 1942.9h0M896.7 1976.7h0M910 1976.7h0M916.2 1976.7h0M926.7 1970.4h0M932.1 1983.8h0M949.6 1976.7h0M971.2 1976.7h0M978.8 1976.7h0M882.9 2010.8h0M966.2 2002.5h0M970.4 2018.3h0M982.9 2010.8h0M997.5 2018.3h0M1002.9 2002.5h0M1042.1 2010.8h0M1080.8 2010.8h0" fill="none" stroke="#000" stroke-width="6.6" stroke-linecap="round"/>
<line x1="882.9" y1="1715.4" x2="882.9" y2="2034.4" stroke="#000" stroke-width="3"/>
<line x1="881.4" y1="2033" x2="1096" y2="2033" stroke="#000" stroke-width="2.8"/>
<line x1="882.9" y1="2033" x2="882.9" y2="2046.5" stroke="#000" stroke-width="2.8"/>
<text x="882.9" y="2066.3" font-size="17.2" font-weight="bold" text-anchor="middle">0</text>
<line x1="935.82" y1="2033" x2="935.82" y2="2046.5" stroke="#000" stroke-width="2.8"/>
<text x="935.82" y="2066.3" font-size="17.2" font-weight="bold" text-anchor="middle">20</text>
<line x1="988.75" y1="2033" x2="988.75" y2="2046.5" stroke="#000" stroke-width="2.8"/>
<text x="988.75" y="2066.3" font-size="17.2" font-weight="bold" text-anchor="middle">40</text>
<line x1="1041.67" y1="2033" x2="1041.67" y2="2046.5" stroke="#000" stroke-width="2.8"/>
<text x="1041.67" y="2066.3" font-size="17.2" font-weight="bold" text-anchor="middle">60</text>
<line x1="1094.6" y1="2033" x2="1094.6" y2="2046.5" stroke="#000" stroke-width="2.8"/>
<text x="1094.6" y="2066.3" font-size="17.2" font-weight="bold" text-anchor="middle">80</text>
<path d="M1075.8 1755C1101.5 1755 1110 1755.5 1110 1760L1110 1955C1110 1959.5 1101.5 1960 1075.8 1960" fill="none" stroke="#000" stroke-width="1.6"/>
<path d="M1075.8 1970.4C1101.5 1970.4 1110 1970.9 1110 1975.4L1110 2015.4C1110 2019.9 1101.5 2020.4 1075.8 2020.4" fill="none" stroke="#000" stroke-width="1.6"/>
<text x="1121.35" y="1847.5" font-size="32" font-weight="bold">36%</text>
<text x="1121.19" y="2000.4" font-size="32" font-weight="bold">64%</text>
<line x1="1180.3" y1="1858.2" x2="1178.8" y2="1964.4" stroke="#000" stroke-width="1.8"/>
<text transform="translate(1183.42 1893.71) rotate(90)" font-size="29.47" font-weight="bold">**</text>
<text x="1239.4" y="1755" font-size="32.3">neutral-neutral</text>
<text x="1239.4" y="1789.3" font-size="32.3">neutral-pos</text>
<text x="1239.4" y="1820" font-size="32.3">neutral-neg</text>
<text x="1239.4" y="1850.8" font-size="32.3">pos-neutral</text>
<text x="1239.4" y="1881.5" font-size="32.3">neg-neutral</text>
<text x="1239.4" y="1918.9" font-size="32.3">pos-neg</text>
<text x="1239.4" y="1952.7" font-size="32.3">neg-pos</text>
<text x="1239.4" y="1990" font-size="32.3">neg-neg</text>
<text x="1239.4" y="2025.2" font-size="32.3">pos-pos</text>
<text x="1467.47" y="1670.5" font-size="33" font-weight="bold">h</text>
<rect x="1543.25" y="1909.1" width="47.2" height="103.75" fill="#56a0fb" stroke="#000" stroke-width="2.7"/>
<rect x="1618.85" y="1844" width="47.6" height="168.85" fill="#45efb0" stroke="#000" stroke-width="2.7"/>
<line x1="1566.9" y1="1893.7" x2="1566.9" y2="1924.5" stroke="#000" stroke-width="1.7"/>
<line x1="1555.4" y1="1893.7" x2="1578.4" y2="1893.7" stroke="#000" stroke-width="1.7"/>
<line x1="1555.4" y1="1924.5" x2="1578.4" y2="1924.5" stroke="#000" stroke-width="1.7"/>
<line x1="1642.4" y1="1825.6" x2="1642.4" y2="1861.6" stroke="#000" stroke-width="1.7"/>
<line x1="1630.9" y1="1825.6" x2="1653.9" y2="1825.6" stroke="#000" stroke-width="1.7"/>
<line x1="1630.9" y1="1861.6" x2="1653.9" y2="1861.6" stroke="#000" stroke-width="1.7"/>
<path d="M1561.1 1880.9h0M1572.5 1880.9h0M1566.8 1896.8h0M1566.8 1920h0M1566.8 1960.4h0M1642.4 1748.7h0M1642.4 1797h0M1642.4 1847.6h0M1642.4 1861.6h0M1637.1 1880.9h0M1648.1 1880.9h0M1642.4 1897.6h0" fill="none" stroke="#000" stroke-width="6.3" stroke-linecap="round"/>
<line x1="1516.3" y1="1747.35" x2="1516.3" y2="2014.55" stroke="#000" stroke-width="2.7"/>
<line x1="1514.95" y1="2013.2" x2="1694.3" y2="2013.2" stroke="#000" stroke-width="2.7"/>
<line x1="1505.3" y1="1748.7" x2="1516.3" y2="1748.7" stroke="#000" stroke-width="2.7"/>
<text x="1501" y="1755.36" font-size="18.6" font-weight="bold" text-anchor="end">100</text>
<line x1="1505.3" y1="1801.6" x2="1516.3" y2="1801.6" stroke="#000" stroke-width="2.7"/>
<text x="1501" y="1808.26" font-size="18.6" font-weight="bold" text-anchor="end">80</text>
<line x1="1505.3" y1="1854.5" x2="1516.3" y2="1854.5" stroke="#000" stroke-width="2.7"/>
<text x="1501" y="1861.16" font-size="18.6" font-weight="bold" text-anchor="end">60</text>
<line x1="1505.3" y1="1907.4" x2="1516.3" y2="1907.4" stroke="#000" stroke-width="2.7"/>
<text x="1501" y="1914.06" font-size="18.6" font-weight="bold" text-anchor="end">40</text>
<line x1="1505.3" y1="1960.3" x2="1516.3" y2="1960.3" stroke="#000" stroke-width="2.7"/>
<text x="1501" y="1966.96" font-size="18.6" font-weight="bold" text-anchor="end">20</text>
<line x1="1505.3" y1="2013.2" x2="1516.3" y2="2013.2" stroke="#000" stroke-width="2.7"/>
<text x="1501" y="2019.86" font-size="18.6" font-weight="bold" text-anchor="end">0</text>
<polyline points="1567,1863.8 1567,1717.5 1642.4,1717.5 1642.4,1732.9" fill="none" stroke="#000" stroke-width="2.6" stroke-linejoin="miter"/>
<text x="1598.39" y="1713.6" font-size="25.42" font-weight="bold" font-family='"DejaVu Sans", sans-serif'>*</text>
<text transform="translate(1457.48 1950.95) rotate(-90)" font-size="21.88" font-weight="bold">% of neurons</text>
<text x="1541.02" y="2046.2" font-size="19.3" font-weight="bold">Htr2a</text>
<text x="1627.45" y="2046.2" font-size="19.3" font-weight="bold">Sst</text>
<rect x="1789.35" y="1859.5" width="47.1" height="156.45" fill="#56a0fb" stroke="#000" stroke-width="2.7"/>
<rect x="1863.95" y="1924" width="47.3" height="91.95" fill="#45efb0" stroke="#000" stroke-width="2.7"/>
<line x1="1812.9" y1="1844" x2="1812.9" y2="1874" stroke="#000" stroke-width="1.7"/>
<line x1="1801.4" y1="1844" x2="1824.4" y2="1844" stroke="#000" stroke-width="1.7"/>
<line x1="1801.4" y1="1874" x2="1824.4" y2="1874" stroke="#000" stroke-width="1.7"/>
<line x1="1887.6" y1="1906.5" x2="1887.6" y2="1940.7" stroke="#000" stroke-width="1.7"/>
<line x1="1876.1" y1="1906.5" x2="1899.1" y2="1906.5" stroke="#000" stroke-width="1.7"/>
<line x1="1876.1" y1="1940.7" x2="1899.1" y2="1940.7" stroke="#000" stroke-width="1.7"/>
<path d="M1812.8 1808h0M1812.8 1843.2h0M1812.8 1871.3h0M1807.1 1885.8h0M1818.5 1885.8h0M1887.5 1870.4h0M1881.8 1885.8h0M1893.2 1885.8h0M1887.5 1920h0M1887.5 1938.5h0M1887.5 1969.2h0M1887.5 2016.2h0" fill="none" stroke="#000" stroke-width="6.3" stroke-linecap="round"/>
<line x1="1763.3" y1="1754.85" x2="1763.3" y2="2017.65" stroke="#000" stroke-width="2.7"/>
<line x1="1761.95" y1="2016.3" x2="1938" y2="2016.3" stroke="#000" stroke-width="2.7"/>
<line x1="1752.3" y1="1756.2" x2="1763.3" y2="1756.2" stroke="#000" stroke-width="2.7"/>
<text x="1749.2" y="1762.86" font-size="18.6" font-weight="bold" text-anchor="end">100</text>
<line x1="1752.3" y1="1808.22" x2="1763.3" y2="1808.22" stroke="#000" stroke-width="2.7"/>
<text x="1749.2" y="1814.88" font-size="18.6" font-weight="bold" text-anchor="end">80</text>
<line x1="1752.3" y1="1860.24" x2="1763.3" y2="1860.24" stroke="#000" stroke-width="2.7"/>
<text x="1749.2" y="1866.9" font-size="18.6" font-weight="bold" text-anchor="end">60</text>
<line x1="1752.3" y1="1912.26" x2="1763.3" y2="1912.26" stroke="#000" stroke-width="2.7"/>
<text x="1749.2" y="1918.92" font-size="18.6" font-weight="bold" text-anchor="end">40</text>
<line x1="1752.3" y1="1964.28" x2="1763.3" y2="1964.28" stroke="#000" stroke-width="2.7"/>
<text x="1749.2" y="1970.94" font-size="18.6" font-weight="bold" text-anchor="end">20</text>
<line x1="1752.3" y1="2016.3" x2="1763.3" y2="2016.3" stroke="#000" stroke-width="2.7"/>
<text x="1749.2" y="2022.96" font-size="18.6" font-weight="bold" text-anchor="end">0</text>
<polyline points="1812.9,1792.7 1812.9,1776.9 1887.6,1776.9 1887.6,1855" fill="none" stroke="#000" stroke-width="2.6" stroke-linejoin="miter"/>
<text x="1844.69" y="1774.2" font-size="25.42" font-weight="bold" font-family='"DejaVu Sans", sans-serif'>*</text>
<text transform="translate(1704.3 1955.34) rotate(-90)" font-size="21.68" font-weight="bold">% of neurons</text>
<text x="1787.07" y="2048.4" font-size="19.3" font-weight="bold">Htr2a</text>
<text x="1871.35" y="2048.4" font-size="19.3" font-weight="bold">Sst</text>
<text x="35.58" y="2180.4" font-size="33" font-weight="bold">i</text>
<rect x="45" y="2226.4" width="190.7" height="207.9" fill="#fefefb"/>
<path d="M126.4 2236.4C128.5 2237.7 134.9 2239.6 138.6 2244.3C142.3 2248.9 146.1 2256.9 148.6 2264.3C151.1 2271.7 152.5 2281.2 153.6 2288.6C154.6 2296 155 2301.9 155 2308.6C155 2315.2 154.4 2321.4 153.6 2328.6C152.7 2335.7 151.5 2343.8 150 2351.4C148.5 2359 146.4 2368.6 144.3 2374.3C142.1 2380 139.5 2383.2 137.1 2385.7C134.8 2388.2 131.2 2388.7 130 2389.3C130.7 2390.6 131.7 2393.9 134.3 2397.1C136.9 2400.4 141 2404.8 145.7 2408.6C150.5 2412.4 156.4 2416.4 162.9 2420C169.3 2423.6 177.6 2427.6 184.3 2430C191 2432.4 197.4 2433.8 202.9 2434.3C208.3 2434.8 213.1 2434.3 217.1 2432.9C221.2 2431.4 224.5 2428.8 227.1 2425.7C229.8 2422.6 231.4 2418.6 232.9 2414.3C234.3 2410 235.2 2404.8 235.7 2400C236.2 2395.2 236.2 2391.4 235.7 2385.7C235.2 2380 234 2371.9 232.9 2365.7C231.7 2359.5 230.5 2354 228.6 2348.6C226.7 2343.1 224.3 2337.9 221.4 2332.9C218.6 2327.9 215 2324 211.4 2318.6C207.9 2313.1 203.6 2306.2 200 2300C196.4 2293.8 193.1 2287.6 190 2281.4C186.9 2275.2 184 2268.6 181.4 2262.9C178.8 2257.1 176.4 2251.4 174.3 2247.1C172.1 2242.9 171 2240 168.6 2237.1C166.2 2234.3 163.3 2231.7 160 2230C156.7 2228.3 152.4 2227.4 148.6 2226.9C144.8 2226.3 140.5 2226.5 137.1 2226.9C133.8 2227.3 130.4 2228.2 128.6 2229.3C126.7 2230.4 126.4 2232.4 126 2233.6C125.6 2234.8 126.4 2236 126.4 2236.4Z" fill="#cfcbe3" stroke="#000" stroke-width="1.7" stroke-linejoin="round"/>
<path d="M126.4 2236.4C128.5 2237.7 134.9 2239.6 138.6 2244.3C142.3 2248.9 146.1 2256.9 148.6 2264.3C151.1 2271.7 152.5 2281.2 153.6 2288.6C154.6 2296 155 2301.9 155 2308.6C155 2315.2 154.4 2321.4 153.6 2328.6C152.7 2335.7 151.5 2343.8 150 2351.4C148.5 2359 146.4 2368.6 144.3 2374.3C142.1 2380 139.5 2383.2 137.1 2385.7C134.8 2388.2 131.2 2388.7 130 2389.3C128.3 2389.3 124 2390.4 120 2389.3C116 2388.2 110.5 2385.8 105.7 2382.9C101 2379.9 96.2 2376.2 91.4 2371.4C86.7 2366.7 81.9 2361 77.1 2354.3C72.4 2347.6 66.9 2339 62.9 2331.4C58.8 2323.8 55.5 2315.7 52.9 2308.6C50.2 2301.4 48.3 2294.8 47.1 2288.6C46 2282.4 45.5 2276.2 45.7 2271.4C46 2266.7 46.9 2263 48.6 2260C50.2 2257 52.1 2255.6 55.7 2253.6C59.3 2251.5 64 2249.8 70 2247.9C76 2246 84.5 2243.9 91.4 2242.1C98.3 2240.4 105.6 2238.4 111.4 2237.4C117.3 2236.5 123.9 2236.6 126.4 2236.4Z" fill="#fffffd" stroke="#000" stroke-width="1.7" stroke-linejoin="round"/>
<text x="162.03" y="2402.2" font-size="29.46" font-weight="bold" font-family='"Liberation Serif", serif'>CeM</text>
<text x="280.81" y="2217.3" font-size="33" font-weight="bold">AAV-Con/Foff-</text>
<text x="277.72" y="2256.4" font-size="33" font-weight="bold">hChR2-EYFP</text>
<text x="286.36" y="2326.5" font-size="33" font-weight="bold">AAV-Con/Foff-</text>
<text x="284.21" y="2366" font-size="33" font-weight="bold">EYFP (Ctrl)</text>
<rect x="325.5" y="2414.4" width="52" height="25.8" fill="#0096ff" stroke="#000" stroke-width="3"/>
<text x="389.32" y="2437.2" font-size="32" font-weight="bold">Htr2a</text>
<rect x="326.3" y="2460.9" width="51.6" height="25.4" fill="#00fa9a" stroke="#000" stroke-width="3"/>
<text x="396.4" y="2481.1" font-size="32" font-weight="bold">Sst</text>
<text x="796.58" y="2167.5" font-size="32" font-weight="bold">10 mM quinine</text>
<text x="1240.93" y="2179" font-size="33" font-weight="bold">j</text>
<text x="1449.29" y="2168.1" font-size="32" font-weight="bold">100 µM quinine</text>
<rect x="704.3" y="2487.5" width="52.1" height="6.1" fill="#fff" stroke="#000" stroke-width="3"/>
<rect x="788.5" y="2471.6" width="53.9" height="22" fill="#56a0fb" stroke="#000" stroke-width="3"/>
<line x1="815.4" y1="2462.7" x2="815.4" y2="2478" stroke="#000" stroke-width="1.7"/>
<line x1="801.4" y1="2462.7" x2="829.4" y2="2462.7" stroke="#000" stroke-width="1.7"/>
<line x1="801.4" y1="2478" x2="829.4" y2="2478" stroke="#000" stroke-width="1.7"/>
<path d="M703.6 2488.2h0M712.1 2486.8h0M720.2 2487.5h0M729.5 2487.5h0M738 2483.8h0M746.1 2487.5h0M755.3 2489h0M738 2489.7h0" fill="none" stroke="#000" stroke-width="5.6" stroke-linecap="round"/>
<path d="M812.3 2406.1h6.4v6.4h-6.4zM812.3 2457.7h6.4v6.4h-6.4zM812.3 2467.7h6.4v6.4h-6.4zM794.5 2476.2h6.4v6.4h-6.4zM794.5 2482.5h6.4v6.4h-6.4zM805.6 2480.6h6.4v6.4h-6.4zM818.5 2476.2h6.4v6.4h-6.4zM818.5 2482.5h6.4v6.4h-6.4zM830.7 2481.3h6.4v6.4h-6.4z" fill="#000"/>
<line x1="672.3" y1="2193.3" x2="672.3" y2="2495.6" stroke="#000" stroke-width="3"/>
<line x1="670.8" y1="2494.1" x2="874.1" y2="2494.1" stroke="#000" stroke-width="3"/>
<line x1="659.3" y1="2194.8" x2="672.3" y2="2194.8" stroke="#000" stroke-width="3"/>
<text x="655.7" y="2202.32" font-size="21" font-weight="bold" text-anchor="end">4</text>
<line x1="659.3" y1="2269.62" x2="672.3" y2="2269.62" stroke="#000" stroke-width="3"/>
<text x="655.7" y="2277.14" font-size="21" font-weight="bold" text-anchor="end">3</text>
<line x1="659.3" y1="2344.45" x2="672.3" y2="2344.45" stroke="#000" stroke-width="3"/>
<text x="655.7" y="2351.97" font-size="21" font-weight="bold" text-anchor="end">2</text>
<line x1="659.3" y1="2419.28" x2="672.3" y2="2419.28" stroke="#000" stroke-width="3"/>
<text x="655.7" y="2426.79" font-size="21" font-weight="bold" text-anchor="end">1</text>
<line x1="659.3" y1="2494.1" x2="672.3" y2="2494.1" stroke="#000" stroke-width="3"/>
<text x="655.7" y="2501.62" font-size="21" font-weight="bold" text-anchor="end">0</text>
<polyline points="729.5,2465.3 729.5,2373.8 816.2,2373.8 816.2,2391.5" fill="none" stroke="#000" stroke-width="3" stroke-linejoin="miter"/>
<text x="748.31" y="2370.38" font-size="28.54" font-weight="bold" font-family='"DejaVu Sans", sans-serif' letter-spacing="2.75">***</text>
<text transform="translate(630.02 2448.2) rotate(-90)" font-size="24.6" font-weight="bold">Quinine intake (g)</text>
<text x="711.15" y="2529.6" font-size="22" font-weight="bold">Ctrl</text>
<text x="783.44" y="2529.6" font-size="22" font-weight="bold">ChR2</text>
<rect x="994" y="2488" width="52.1" height="3.8" fill="#fff" stroke="#000" stroke-width="3"/>
<rect x="1077.8" y="2469" width="53.9" height="22.8" fill="#45efb0" stroke="#000" stroke-width="3"/>
<line x1="1104.8" y1="2460.9" x2="1104.8" y2="2475.7" stroke="#000" stroke-width="1.7"/>
<line x1="1090.8" y1="2460.9" x2="1118.8" y2="2460.9" stroke="#000" stroke-width="1.7"/>
<line x1="1090.8" y1="2475.7" x2="1118.8" y2="2475.7" stroke="#000" stroke-width="1.7"/>
<path d="M993.3 2489.7h0M1001.5 2487.5h0M1009.9 2489h0M1018.4 2488.2h0M1027.3 2483.8h0M1027.3 2490.5h0M1035.8 2488.2h0M1044.3 2491.2h0" fill="none" stroke="#000" stroke-width="5.6" stroke-linecap="round"/>
<path d="M1101.6 2428.2h6.4v6.4h-6.4zM1095.3 2441.9h6.4v6.4h-6.4zM1107.5 2440.8h6.4v6.4h-6.4zM1101.6 2467h6.4v6.4h-6.4zM1089.8 2480.6h6.4v6.4h-6.4zM1101.6 2482.5h6.4v6.4h-6.4zM1113.8 2480.6h6.4v6.4h-6.4zM1076.9 2484.3h6.4v6.4h-6.4zM1126.7 2484.3h6.4v6.4h-6.4z" fill="#000"/>
<line x1="962.7" y1="2190.8" x2="962.7" y2="2493.8" stroke="#000" stroke-width="3"/>
<line x1="961.2" y1="2492.3" x2="1163" y2="2492.3" stroke="#000" stroke-width="3"/>
<line x1="949.7" y1="2192.3" x2="962.7" y2="2192.3" stroke="#000" stroke-width="3"/>
<text x="946.5" y="2199.82" font-size="21" font-weight="bold" text-anchor="end">4</text>
<line x1="949.7" y1="2267.3" x2="962.7" y2="2267.3" stroke="#000" stroke-width="3"/>
<text x="946.5" y="2274.82" font-size="21" font-weight="bold" text-anchor="end">3</text>
<line x1="949.7" y1="2342.3" x2="962.7" y2="2342.3" stroke="#000" stroke-width="3"/>
<text x="946.5" y="2349.82" font-size="21" font-weight="bold" text-anchor="end">2</text>
<line x1="949.7" y1="2417.3" x2="962.7" y2="2417.3" stroke="#000" stroke-width="3"/>
<text x="946.5" y="2424.82" font-size="21" font-weight="bold" text-anchor="end">1</text>
<line x1="949.7" y1="2492.3" x2="962.7" y2="2492.3" stroke="#000" stroke-width="3"/>
<text x="946.5" y="2499.82" font-size="21" font-weight="bold" text-anchor="end">0</text>
<polyline points="1018,2478.3 1018,2416.6 1105.9,2416.6 1105.9,2426.6" fill="none" stroke="#000" stroke-width="3" stroke-linejoin="miter"/>
<text x="1046.04" y="2412.98" font-size="28.54" font-weight="bold" font-family='"DejaVu Sans", sans-serif' letter-spacing="2.75">**</text>
<text transform="translate(919.72 2446.4) rotate(-90)" font-size="24.6" font-weight="bold">Quinine intake (g)</text>
<text x="1000.15" y="2529.6" font-size="22" font-weight="bold">Ctrl</text>
<text x="1072.54" y="2529.6" font-size="22" font-weight="bold">ChR2</text>
<rect x="1358" y="2472.6" width="55.3" height="19.2" fill="#fff" stroke="#000" stroke-width="3"/>
<rect x="1443.7" y="2390.9" width="54.4" height="100.9" fill="#56a0fb" stroke="#000" stroke-width="3"/>
<line x1="1385.4" y1="2463.8" x2="1385.4" y2="2480" stroke="#000" stroke-width="1.7"/>
<line x1="1371.4" y1="2463.8" x2="1399.4" y2="2463.8" stroke="#000" stroke-width="1.7"/>
<line x1="1371.4" y1="2480" x2="1399.4" y2="2480" stroke="#000" stroke-width="1.7"/>
<line x1="1470.6" y1="2368" x2="1470.6" y2="2412.8" stroke="#000" stroke-width="1.7"/>
<line x1="1456.6" y1="2368" x2="1484.6" y2="2368" stroke="#000" stroke-width="1.7"/>
<line x1="1456.6" y1="2412.8" x2="1484.6" y2="2412.8" stroke="#000" stroke-width="1.7"/>
<path d="M1379.2 2443.5h0M1391.1 2442.6h0M1385.4 2454.5h0M1385.4 2473.4h0M1373.5 2492.3h0M1385.4 2492.3h0M1396.8 2492.3h0M1380.1 2482.2h0" fill="none" stroke="#000" stroke-width="5.6" stroke-linecap="round"/>
<path d="M1467.4 2240.9h6.4v6.4h-6.4zM1467.4 2329.6h6.4v6.4h-6.4zM1467.4 2350.7h6.4v6.4h-6.4zM1467.4 2414h6.4v6.4h-6.4zM1455.1 2421.9h6.4v6.4h-6.4zM1479.3 2422.8h6.4v6.4h-6.4zM1467.4 2435.9h6.4v6.4h-6.4zM1467.4 2446.9h6.4v6.4h-6.4z" fill="#000"/>
<line x1="1328.7" y1="2193" x2="1328.7" y2="2493.8" stroke="#000" stroke-width="3"/>
<line x1="1327.2" y1="2492.3" x2="1529.5" y2="2492.3" stroke="#000" stroke-width="3"/>
<line x1="1315.7" y1="2194.5" x2="1328.7" y2="2194.5" stroke="#000" stroke-width="3"/>
<text x="1314.2" y="2202.02" font-size="21" font-weight="bold" text-anchor="end">4</text>
<line x1="1315.7" y1="2268.95" x2="1328.7" y2="2268.95" stroke="#000" stroke-width="3"/>
<text x="1314.2" y="2276.47" font-size="21" font-weight="bold" text-anchor="end">3</text>
<line x1="1315.7" y1="2343.4" x2="1328.7" y2="2343.4" stroke="#000" stroke-width="3"/>
<text x="1314.2" y="2350.92" font-size="21" font-weight="bold" text-anchor="end">2</text>
<line x1="1315.7" y1="2417.85" x2="1328.7" y2="2417.85" stroke="#000" stroke-width="3"/>
<text x="1314.2" y="2425.37" font-size="21" font-weight="bold" text-anchor="end">1</text>
<line x1="1315.7" y1="2492.3" x2="1328.7" y2="2492.3" stroke="#000" stroke-width="3"/>
<text x="1314.2" y="2499.82" font-size="21" font-weight="bold" text-anchor="end">0</text>
<polyline points="1385.4,2425 1385.4,2208.5 1471,2208.5 1471,2225.2" fill="none" stroke="#000" stroke-width="3" stroke-linejoin="miter"/>
<text x="1403.41" y="2204.78" font-size="28.54" font-weight="bold" font-family='"DejaVu Sans", sans-serif' letter-spacing="2.75">***</text>
<text transform="translate(1285.52 2447.55) rotate(-90)" font-size="24.6" font-weight="bold">Quinine intake (g)</text>
<text x="1367.01" y="2529.2" font-size="22" font-weight="bold">Ctrl</text>
<text x="1438.89" y="2529.2" font-size="22" font-weight="bold">ChR2</text>
<rect x="1642.3" y="2485.3" width="54.8" height="8.3" fill="#fff" stroke="#000" stroke-width="3"/>
<rect x="1727.9" y="2407.6" width="54.9" height="86" fill="#45efb0" stroke="#000" stroke-width="3"/>
<line x1="1669.2" y1="2478.7" x2="1669.2" y2="2491" stroke="#000" stroke-width="1.7"/>
<line x1="1655.2" y1="2478.7" x2="1683.2" y2="2478.7" stroke="#000" stroke-width="1.7"/>
<line x1="1655.2" y1="2491" x2="1683.2" y2="2491" stroke="#000" stroke-width="1.7"/>
<line x1="1755.4" y1="2382" x2="1755.4" y2="2431.7" stroke="#000" stroke-width="1.7"/>
<line x1="1741.4" y1="2382" x2="1769.4" y2="2382" stroke="#000" stroke-width="1.7"/>
<line x1="1741.4" y1="2431.7" x2="1769.4" y2="2431.7" stroke="#000" stroke-width="1.7"/>
<path d="M1663.4 2460.2h0M1675.3 2461.5h0M1657.7 2488.8h0M1669.2 2488.8h0M1681 2488.8h0M1644.6 2493.6h0M1669.2 2493.6h0M1694.2 2493.6h0" fill="none" stroke="#000" stroke-width="5.6" stroke-linecap="round"/>
<path d="M1745.9 2309h6.4v6.4h-6.4zM1758.2 2310.3h6.4v6.4h-6.4zM1752.1 2346.3h6.4v6.4h-6.4zM1752.1 2363.9h6.4v6.4h-6.4zM1752.1 2399.9h6.4v6.4h-6.4zM1752.1 2449.1h6.4v6.4h-6.4zM1745.9 2481.2h6.4v6.4h-6.4zM1758.2 2482.5h6.4v6.4h-6.4zM1752.1 2490.8h6.4v6.4h-6.4z" fill="#000"/>
<line x1="1613" y1="2193" x2="1613" y2="2495.6" stroke="#000" stroke-width="3"/>
<line x1="1611.5" y1="2494.1" x2="1813.8" y2="2494.1" stroke="#000" stroke-width="3"/>
<line x1="1600" y1="2194.5" x2="1613" y2="2194.5" stroke="#000" stroke-width="3"/>
<text x="1597.6" y="2202.02" font-size="21" font-weight="bold" text-anchor="end">4</text>
<line x1="1600" y1="2269.4" x2="1613" y2="2269.4" stroke="#000" stroke-width="3"/>
<text x="1597.6" y="2276.92" font-size="21" font-weight="bold" text-anchor="end">3</text>
<line x1="1600" y1="2344.3" x2="1613" y2="2344.3" stroke="#000" stroke-width="3"/>
<text x="1597.6" y="2351.82" font-size="21" font-weight="bold" text-anchor="end">2</text>
<line x1="1600" y1="2419.2" x2="1613" y2="2419.2" stroke="#000" stroke-width="3"/>
<text x="1597.6" y="2426.72" font-size="21" font-weight="bold" text-anchor="end">1</text>
<line x1="1600" y1="2494.1" x2="1613" y2="2494.1" stroke="#000" stroke-width="3"/>
<text x="1597.6" y="2501.62" font-size="21" font-weight="bold" text-anchor="end">0</text>
<polyline points="1669.2,2440.5 1669.2,2275.7 1755.8,2275.7 1755.8,2293.3" fill="none" stroke="#000" stroke-width="3" stroke-linejoin="miter"/>
<text x="1705.78" y="2273.08" font-size="28.54" font-weight="bold" font-family='"DejaVu Sans", sans-serif'>*</text>
<text transform="translate(1570.32 2447.55) rotate(-90)" font-size="24.6" font-weight="bold">Quinine intake (g)</text>
<text x="1650.8" y="2529.2" font-size="22" font-weight="bold">Ctrl</text>
<text x="1723.34" y="2529.2" font-size="22" font-weight="bold">ChR2</text>
</svg>
</body></html>
